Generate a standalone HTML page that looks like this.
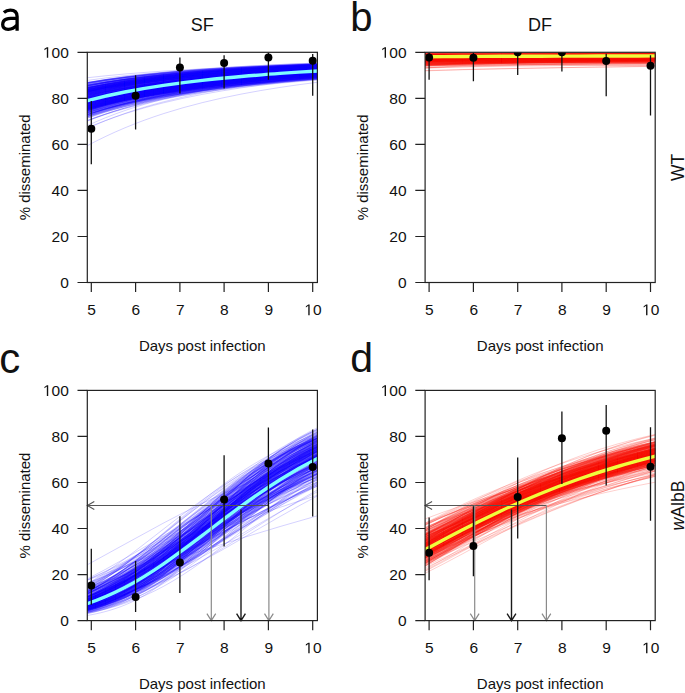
<!DOCTYPE html><html><head><meta charset="utf-8"><style>
html,body{margin:0;padding:0;background:#fff;width:685px;height:693px;overflow:hidden}
svg{display:block}text{font-family:"Liberation Sans",sans-serif;fill:#111}
.cb path{fill:none;stroke:rgba(20,0,255,0.18);stroke-width:1}
.cr path{fill:none;stroke:rgba(252,18,10,0.2);stroke-width:1}
</style></head><body>
<svg width="685" height="693" viewBox="0 0 685 693">
<defs>
<clipPath id="c00"><rect x="87.3" y="52.3" width="230.1" height="230.2"/></clipPath>
<clipPath id="c01"><rect x="87.3" y="390.4" width="230.1" height="230.2"/></clipPath>
<clipPath id="c10"><rect x="425.1" y="52.3" width="230.1" height="230.2"/></clipPath>
<clipPath id="c11"><rect x="425.1" y="390.4" width="230.1" height="230.2"/></clipPath>
<path id="one" fill="#111" d="M515 0V-1237L197-1010V-1180L530-1409H696V0Z"/>
</defs>
<g clip-path="url(#c00)">
<g class="cb">
<path d="M86.0 97.9c25.9-6.9 51.8-11.6 77.6-15.2s51.8-6.3 77.6-8.5s51.8-3.9 77.6-5.3"/>
<path d="M86.0 85.7c25.9-5.5 51.8-9.0 77.6-11.7s51.8-4.7 77.6-6.3s51.8-2.8 77.6-3.8"/>
<path d="M86.0 89.5c25.9-5.9 51.8-9.8 77.6-12.8s51.8-5.2 77.6-7.0s51.8-3.1 77.6-4.3"/>
<path d="M86.0 115.0c25.9-8.8 51.8-15.0 77.6-19.9s51.8-8.6 77.6-11.6s51.8-5.4 77.6-7.4"/>
<path d="M86.0 103.2c25.9-6.9 51.8-11.7 77.6-15.6s51.8-6.7 77.6-9.1s51.8-4.2 77.6-5.8"/>
<path d="M86.0 100.2c25.9-6.8 51.8-11.4 77.6-15.1s51.8-6.4 77.6-8.7s51.8-4.0 77.6-5.5"/>
<path d="M86.0 108.7c25.9-7.8 51.8-13.2 77.6-17.6s51.8-7.6 77.6-10.3s51.8-4.8 77.6-6.5"/>
<path d="M86.0 105.7c25.9-8.3 51.8-13.8 77.6-18.3s51.8-7.6 77.6-10.2s51.8-4.6 77.6-6.3"/>
<path d="M86.0 92.1c25.9-5.9 51.8-9.9 77.6-13.0s51.8-5.4 77.6-7.3s51.8-3.3 77.6-4.5"/>
<path d="M86.0 106.1c25.9-7.7 51.8-13.0 77.6-17.2s51.8-7.4 77.6-9.9s51.8-4.6 77.6-6.2"/>
<path d="M86.0 112.4c25.9-7.8 51.8-13.4 77.6-17.9s51.8-7.8 77.6-10.6s51.8-5.0 77.6-6.9"/>
<path d="M86.0 96.5c25.9-7.0 51.8-11.6 77.6-15.2s51.8-6.3 77.6-8.4s51.8-3.8 77.6-5.1"/>
<path d="M86.0 104.9c25.9-7.6 51.8-12.7 77.6-16.9s51.8-7.2 77.6-9.7s51.8-4.4 77.6-6.1"/>
<path d="M86.0 97.8c25.9-6.2 51.8-10.5 77.6-13.9s51.8-6.0 77.6-8.1s51.8-3.7 77.6-5.1"/>
<path d="M86.0 108.9c25.9-7.8 51.8-13.1 77.6-17.5s51.8-7.6 77.6-10.2s51.8-4.8 77.6-6.5"/>
<path d="M86.0 98.0c25.9-6.4 51.8-10.7 77.6-14.2s51.8-6.1 77.6-8.2s51.8-3.8 77.6-5.2"/>
<path d="M86.0 88.7c25.9-5.8 51.8-9.6 77.6-12.5s51.8-5.1 77.6-6.8s51.8-3.1 77.6-4.2"/>
<path d="M86.0 104.1c25.9-7.0 51.8-11.8 77.6-15.7s51.8-6.8 77.6-9.2s51.8-4.3 77.6-5.9"/>
<path d="M86.0 118.7c25.9-9.4 51.8-16.1 77.6-21.4s51.8-9.3 77.6-12.5s51.8-5.8 77.6-7.9"/>
<path d="M86.0 92.0c25.9-5.8 51.8-9.7 77.6-12.8s51.8-5.4 77.6-7.2s51.8-3.3 77.6-4.5"/>
<path d="M86.0 108.6c25.9-7.0 51.8-12.0 77.6-16.1s51.8-7.1 77.6-9.7s51.8-4.6 77.6-6.3"/>
<path d="M86.0 88.1c25.9-5.3 51.8-8.8 77.6-11.6s51.8-4.8 77.6-6.5s51.8-3.0 77.6-4.0"/>
<path d="M86.0 88.3c25.9-4.7 51.8-7.9 77.6-10.4s51.8-4.5 77.6-6.1s51.8-2.9 77.6-3.9"/>
<path d="M86.0 104.4c25.9-7.2 51.8-12.1 77.6-16.1s51.8-6.9 77.6-9.4s51.8-4.4 77.6-6.0"/>
<path d="M86.0 100.8c25.9-7.2 51.8-12.1 77.6-15.9s51.8-6.7 77.6-9.0s51.8-4.1 77.6-5.6"/>
<path d="M86.0 91.3c25.9-5.1 51.8-8.6 77.6-11.4s51.8-4.9 77.6-6.6s51.8-3.1 77.6-4.3"/>
<path d="M86.0 92.4c25.9-6.5 51.8-10.8 77.6-14.1s51.8-5.7 77.6-7.7s51.8-3.4 77.6-4.6"/>
<path d="M86.0 93.7c25.9-5.5 51.8-9.2 77.6-12.3s51.8-5.3 77.6-7.2s51.8-3.3 77.6-4.6"/>
<path d="M86.0 107.1c25.9-7.2 51.8-12.2 77.6-16.3s51.8-7.1 77.6-9.6s51.8-4.5 77.6-6.2"/>
<path d="M86.0 103.8c25.9-7.7 51.8-12.9 77.6-17.0s51.8-7.2 77.6-9.6s51.8-4.4 77.6-6.0"/>
<path d="M86.0 107.4c25.9-7.6 51.8-12.9 77.6-17.1s51.8-7.4 77.6-10.0s51.8-4.6 77.6-6.3"/>
<path d="M86.0 95.4c25.9-5.0 51.8-8.5 77.6-11.4s51.8-5.1 77.6-6.9s51.8-3.3 77.6-4.6"/>
<path d="M86.0 91.4c25.9-5.1 51.8-8.6 77.6-11.4s51.8-4.9 77.6-6.7s51.8-3.1 77.6-4.3"/>
<path d="M86.0 100.6c25.9-7.6 51.8-12.6 77.6-16.6s51.8-6.9 77.6-9.2s51.8-4.1 77.6-5.6"/>
<path d="M86.0 97.7c25.9-7.5 51.8-12.4 77.6-16.2s51.8-6.6 77.6-8.8s51.8-3.9 77.6-5.3"/>
<path d="M86.0 96.4c25.9-5.6 51.8-9.4 77.6-12.6s51.8-5.5 77.6-7.4s51.8-3.5 77.6-4.8"/>
<path d="M86.0 104.5c25.9-6.9 51.8-11.7 77.6-15.6s51.8-6.8 77.6-9.2s51.8-4.3 77.6-5.9"/>
<path d="M86.0 110.3c25.9-8.6 51.8-14.5 77.6-19.3s51.8-8.2 77.6-11.0s51.8-5.0 77.6-6.8"/>
<path d="M86.0 107.1c25.9-7.1 51.8-12.1 77.6-16.1s51.8-7.1 77.6-9.6s51.8-4.5 77.6-6.2"/>
<path d="M86.0 101.0c25.9-7.5 51.8-12.5 77.6-16.5s51.8-6.9 77.6-9.2s51.8-4.2 77.6-5.7"/>
<path d="M86.0 87.6c25.9-4.2 51.8-7.0 77.6-9.4s51.8-4.1 77.6-5.6s51.8-2.7 77.6-3.7"/>
<path d="M86.0 89.8c25.9-5.2 51.8-8.7 77.6-11.5s51.8-4.9 77.6-6.6s51.8-3.1 77.6-4.2"/>
<path d="M86.0 103.0c25.9-6.6 51.8-11.3 77.6-15.0s51.8-6.5 77.6-8.8s51.8-4.1 77.6-5.7"/>
<path d="M86.0 108.1c25.9-8.2 51.8-13.7 77.6-18.2s51.8-7.7 77.6-10.4s51.8-4.8 77.6-6.5"/>
<path d="M86.0 90.4c25.9-5.7 51.8-9.5 77.6-12.5s51.8-5.2 77.6-7.0s51.8-3.2 77.6-4.3"/>
<path d="M86.0 95.1c25.9-5.8 51.8-9.7 77.6-12.9s51.8-5.5 77.6-7.5s51.8-3.5 77.6-4.8"/>
<path d="M86.0 99.5c25.9-6.1 51.8-10.4 77.6-13.8s51.8-6.0 77.6-8.2s51.8-3.8 77.6-5.3"/>
<path d="M86.0 107.6c25.9-7.7 51.8-13.0 77.6-17.2s51.8-7.4 77.6-10.0s51.8-4.7 77.6-6.4"/>
<path d="M86.0 92.2c25.9-5.9 51.8-9.8 77.6-13.0s51.8-5.4 77.6-7.3s51.8-3.3 77.6-4.5"/>
<path d="M86.0 94.5c25.9-5.6 51.8-9.4 77.6-12.5s51.8-5.4 77.6-7.3s51.8-3.4 77.6-4.7"/>
<path d="M86.0 100.6c25.9-6.3 51.8-10.6 77.6-14.1s51.8-6.2 77.6-8.3s51.8-3.9 77.6-5.4"/>
<path d="M86.0 100.3c25.9-6.4 51.8-10.7 77.6-14.3s51.8-6.2 77.6-8.4s51.8-3.9 77.6-5.4"/>
<path d="M86.0 93.9c25.9-5.5 51.8-9.3 77.6-12.3s51.8-5.3 77.6-7.2s51.8-3.4 77.6-4.6"/>
<path d="M86.0 109.4c25.9-7.9 51.8-13.4 77.6-17.8s51.8-7.7 77.6-10.4s51.8-4.8 77.6-6.6"/>
<path d="M86.0 93.0c25.9-5.8 51.8-9.6 77.6-12.7s51.8-5.4 77.6-7.3s51.8-3.3 77.6-4.6"/>
<path d="M86.0 103.2c25.9-7.7 51.8-13.0 77.6-17.1s51.8-7.2 77.6-9.6s51.8-4.3 77.6-5.9"/>
<path d="M86.0 84.0c25.9-4.7 51.8-7.8 77.6-10.3s51.8-4.3 77.6-5.7s51.8-2.6 77.6-3.6"/>
<path d="M86.0 96.3c25.9-6.6 51.8-11.0 77.6-14.5s51.8-6.1 77.6-8.1s51.8-3.7 77.6-5.1"/>
<path d="M86.0 93.9c25.9-5.2 51.8-8.8 77.6-11.8s51.8-5.1 77.6-7.0s51.8-3.3 77.6-4.5"/>
<path d="M86.0 85.0c25.9-4.6 51.8-7.6 77.6-10.0s51.8-4.2 77.6-5.7s51.8-2.6 77.6-3.6"/>
<path d="M86.0 98.9c25.9-7.1 51.8-11.9 77.6-15.7s51.8-6.5 77.6-8.8s51.8-4.0 77.6-5.4"/>
<path d="M86.0 129.1c25.9-12.0 51.8-20.6 77.6-27.3s51.8-11.6 77.6-15.6s51.8-7.0 77.6-9.4"/>
<path d="M86.0 91.0c25.9-5.5 51.8-9.1 77.6-12.1s51.8-5.1 77.6-6.9s51.8-3.2 77.6-4.3"/>
<path d="M86.0 102.0c25.9-7.3 51.8-12.2 77.6-16.1s51.8-6.8 77.6-9.2s51.8-4.2 77.6-5.7"/>
<path d="M86.0 112.8c25.9-8.9 51.8-15.1 77.6-20.0s51.8-8.5 77.6-11.5s51.8-5.2 77.6-7.1"/>
<path d="M86.0 95.2c25.9-5.4 51.8-9.1 77.6-12.1s51.8-5.3 77.6-7.2s51.8-3.4 77.6-4.7"/>
<path d="M86.0 99.5c25.9-7.2 51.8-12.1 77.6-15.9s51.8-6.6 77.6-8.9s51.8-4.0 77.6-5.5"/>
<path d="M86.0 97.0c25.9-7.9 51.8-13.0 77.6-16.9s51.8-6.7 77.6-8.9s51.8-3.9 77.6-5.2"/>
<path d="M86.0 93.5c25.9-5.8 51.8-9.7 77.6-12.8s51.8-5.4 77.6-7.3s51.8-3.4 77.6-4.6"/>
<path d="M86.0 118.4c25.9-10.2 51.8-17.3 77.6-22.9s51.8-9.7 77.6-13.0s51.8-5.8 77.6-7.9"/>
<path d="M86.0 101.8c25.9-7.5 51.8-12.5 77.6-16.5s51.8-6.9 77.6-9.3s51.8-4.2 77.6-5.7"/>
<path d="M86.0 95.6c25.9-6.1 51.8-10.2 77.6-13.5s51.8-5.7 77.6-7.8s51.8-3.6 77.6-4.9"/>
<path d="M86.0 97.4c25.9-6.4 51.8-10.7 77.6-14.1s51.8-6.0 77.6-8.1s51.8-3.7 77.6-5.1"/>
<path d="M86.0 88.1c25.9-5.6 51.8-9.2 77.6-12.1s51.8-5.0 77.6-6.7s51.8-3.0 77.6-4.1"/>
<path d="M86.0 105.9c25.9-7.3 51.8-12.4 77.6-16.4s51.8-7.1 77.6-9.6s51.8-4.5 77.6-6.1"/>
<path d="M86.0 109.8c25.9-7.5 51.8-12.8 77.6-17.0s51.8-7.5 77.6-10.1s51.8-4.8 77.6-6.5"/>
<path d="M86.0 102.3c25.9-6.4 51.8-10.8 77.6-14.4s51.8-6.3 77.6-8.6s51.8-4.1 77.6-5.6"/>
<path d="M86.0 86.9c25.9-5.6 51.8-9.2 77.6-12.1s51.8-4.9 77.6-6.5s51.8-2.9 77.6-4.0"/>
<path d="M86.0 103.2c25.9-7.6 51.8-12.7 77.6-16.8s51.8-7.1 77.6-9.5s51.8-4.3 77.6-5.9"/>
<path d="M86.0 121.1c25.9-9.5 51.8-16.3 77.6-21.7s51.8-9.5 77.6-12.8s51.8-6.0 77.6-8.1"/>
<path d="M86.0 115.0c25.9-8.4 51.8-14.4 77.6-19.2s51.8-8.4 77.6-11.4s51.8-5.3 77.6-7.3"/>
<path d="M86.0 99.8c25.9-5.8 51.8-9.9 77.6-13.2s51.8-5.8 77.6-7.9s51.8-3.8 77.6-5.2"/>
<path d="M86.0 90.1c25.9-4.9 51.8-8.3 77.6-11.0s51.8-4.7 77.6-6.4s51.8-3.0 77.6-4.1"/>
<path d="M86.0 115.1c25.9-8.6 51.8-14.7 77.6-19.6s51.8-8.5 77.6-11.5s51.8-5.4 77.6-7.3"/>
<path d="M86.0 110.3c25.9-8.2 51.8-13.8 77.6-18.3s51.8-7.9 77.6-10.7s51.8-4.9 77.6-6.7"/>
<path d="M86.0 107.3c25.9-7.3 51.8-12.4 77.6-16.5s51.8-7.2 77.6-9.8s51.8-4.6 77.6-6.3"/>
<path d="M86.0 102.5c25.9-7.5 51.8-12.6 77.6-16.6s51.8-7.0 77.6-9.4s51.8-4.3 77.6-5.8"/>
<path d="M86.0 118.5c25.9-9.2 51.8-15.7 77.6-20.9s51.8-9.1 77.6-12.3s51.8-5.7 77.6-7.8"/>
<path d="M86.0 114.5c25.9-8.4 51.8-14.2 77.6-19.0s51.8-8.3 77.6-11.3s51.8-5.3 77.6-7.2"/>
<path d="M86.0 104.0c25.9-7.3 51.8-12.3 77.6-16.3s51.8-7.0 77.6-9.4s51.8-4.3 77.6-5.9"/>
<path d="M86.0 104.7c25.9-7.0 51.8-11.8 77.6-15.7s51.8-6.8 77.6-9.2s51.8-4.3 77.6-5.9"/>
<path d="M86.0 106.5c25.9-9.9 51.8-16.3 77.6-21.3s51.8-8.4 77.6-11.1s51.8-4.8 77.6-6.4"/>
<path d="M86.0 116.3c25.9-9.2 51.8-15.6 77.6-20.8s51.8-8.9 77.6-12.1s51.8-5.5 77.6-7.6"/>
<path d="M86.0 104.3c25.9-7.8 51.8-13.1 77.6-17.3s51.8-7.3 77.6-9.8s51.8-4.4 77.6-6.1"/>
<path d="M86.0 91.5c25.9-5.8 51.8-9.6 77.6-12.7s51.8-5.3 77.6-7.1s51.8-3.3 77.6-4.4"/>
<path d="M86.0 99.6c25.9-7.2 51.8-12.0 77.6-15.8s51.8-6.6 77.6-8.9s51.8-4.0 77.6-5.5"/>
<path d="M86.0 109.5c25.9-6.8 51.8-11.7 77.6-15.6s51.8-7.0 77.6-9.5s51.8-4.6 77.6-6.3"/>
<path d="M86.0 102.2c25.9-7.9 51.8-13.1 77.6-17.3s51.8-7.1 77.6-9.6s51.8-4.3 77.6-5.8"/>
<path d="M86.0 90.2c25.9-5.9 51.8-9.7 77.6-12.8s51.8-5.3 77.6-7.1s51.8-3.2 77.6-4.3"/>
<path d="M86.0 111.0c25.9-8.5 51.8-14.4 77.6-19.1s51.8-8.2 77.6-11.0s51.8-5.0 77.6-6.9"/>
<path d="M86.0 99.1c25.9-6.4 51.8-10.8 77.6-14.4s51.8-6.2 77.6-8.3s51.8-3.9 77.6-5.3"/>
<path d="M86.0 83.0c25.9-4.6 51.8-7.7 77.6-10.1s51.8-4.2 77.6-5.6s51.8-2.5 77.6-3.5"/>
<path d="M86.0 110.4c25.9-7.7 51.8-13.2 77.6-17.5s51.8-7.7 77.6-10.4s51.8-4.9 77.6-6.7"/>
<path d="M86.0 97.4c25.9-6.9 51.8-11.4 77.6-15.1s51.8-6.3 77.6-8.4s51.8-3.8 77.6-5.2"/>
<path d="M86.0 92.2c25.9-6.9 51.8-11.3 77.6-14.7s51.8-5.9 77.6-7.8s51.8-3.4 77.6-4.6"/>
<path d="M86.0 112.9c25.9-7.9 51.8-13.5 77.6-18.0s51.8-7.9 77.6-10.7s51.8-5.0 77.6-6.9"/>
<path d="M86.0 114.1c25.9-8.3 51.8-14.1 77.6-18.8s51.8-8.2 77.6-11.1s51.8-5.2 77.6-7.2"/>
<path d="M86.0 99.1c25.9-6.8 51.8-11.4 77.6-15.0s51.8-6.4 77.6-8.6s51.8-3.9 77.6-5.4"/>
<path d="M86.0 113.7c25.9-7.9 51.8-13.6 77.6-18.1s51.8-8.0 77.6-10.9s51.8-5.1 77.6-7.0"/>
<path d="M86.0 105.7c25.9-6.8 51.8-11.6 77.6-15.5s51.8-6.8 77.6-9.2s51.8-4.4 77.6-6.0"/>
<path d="M86.0 111.5c25.9-8.8 51.8-14.9 77.6-19.7s51.8-8.4 77.6-11.2s51.8-5.1 77.6-7.0"/>
<path d="M86.0 94.0c25.9-6.6 51.8-10.9 77.6-14.3s51.8-5.9 77.6-7.9s51.8-3.5 77.6-4.8"/>
<path d="M86.0 88.2c25.9-5.5 51.8-9.2 77.6-12.0s51.8-4.9 77.6-6.6s51.8-3.0 77.6-4.1"/>
<path d="M86.0 95.4c25.9-5.0 51.8-8.5 77.6-11.4s51.8-5.1 77.6-6.9s51.8-3.3 77.6-4.6"/>
<path d="M86.0 105.0c25.9-7.9 51.8-13.2 77.6-17.5s51.8-7.4 77.6-9.9s51.8-4.5 77.6-6.1"/>
<path d="M86.0 110.0c25.9-8.1 51.8-13.7 77.6-18.2s51.8-7.8 77.6-10.6s51.8-4.9 77.6-6.7"/>
<path d="M86.0 85.7c25.9-4.8 51.8-8.0 77.6-10.6s51.8-4.4 77.6-6.0s51.8-2.7 77.6-3.7"/>
<path d="M86.0 105.9c25.9-7.5 51.8-12.7 77.6-16.9s51.8-7.2 77.6-9.8s51.8-4.5 77.6-6.2"/>
<path d="M86.0 94.7c25.9-6.6 51.8-11.0 77.6-14.4s51.8-5.9 77.6-8.0s51.8-3.6 77.6-4.9"/>
<path d="M86.0 93.8c25.9-6.7 51.8-11.1 77.6-14.6s51.8-5.9 77.6-7.9s51.8-3.5 77.6-4.8"/>
<path d="M86.0 87.6c25.9-5.2 51.8-8.7 77.6-11.4s51.8-4.7 77.6-6.4s51.8-2.9 77.6-4.0"/>
<path d="M86.0 103.2c25.9-6.7 51.8-11.4 77.6-15.2s51.8-6.6 77.6-8.9s51.8-4.2 77.6-5.7"/>
<path d="M86.0 99.9c25.9-7.7 51.8-12.8 77.6-16.8s51.8-6.9 77.6-9.2s51.8-4.1 77.6-5.6"/>
<path d="M86.0 113.6c25.9-8.6 51.8-14.6 77.6-19.5s51.8-8.4 77.6-11.4s51.8-5.2 77.6-7.2"/>
<path d="M86.0 89.7c25.9-4.8 51.8-8.1 77.6-10.7s51.8-4.6 77.6-6.3s51.8-3.0 77.6-4.1"/>
<path d="M86.0 86.1c25.9-4.6 51.8-7.7 77.6-10.2s51.8-4.3 77.6-5.8s51.8-2.7 77.6-3.7"/>
<path d="M86.0 88.5c25.9-6.1 51.8-10.1 77.6-13.1s51.8-5.2 77.6-7.0s51.8-3.1 77.6-4.2"/>
<path d="M86.0 106.8c25.9-7.7 51.8-13.0 77.6-17.3s51.8-7.4 77.6-10.0s51.8-4.6 77.6-6.3"/>
<path d="M86.0 99.9c25.9-7.6 51.8-12.6 77.6-16.6s51.8-6.8 77.6-9.1s51.8-4.1 77.6-5.6"/>
<path d="M86.0 101.0c25.9-7.0 51.8-11.7 77.6-15.5s51.8-6.6 77.6-8.9s51.8-4.1 77.6-5.6"/>
<path d="M86.0 82.6c25.9-4.5 51.8-7.4 77.6-9.7s51.8-4.0 77.6-5.4s51.8-2.5 77.6-3.4"/>
<path d="M86.0 88.0c25.9-5.5 51.8-9.0 77.6-11.9s51.8-4.9 77.6-6.6s51.8-3.0 77.6-4.1"/>
<path d="M86.0 100.1c25.9-5.8 51.8-9.8 77.6-13.2s51.8-5.8 77.6-7.9s51.8-3.8 77.6-5.2"/>
<path d="M86.0 92.1c25.9-5.5 51.8-9.2 77.6-12.2s51.8-5.2 77.6-7.0s51.8-3.2 77.6-4.5"/>
<path d="M86.0 109.6c25.9-7.5 51.8-12.7 77.6-17.0s51.8-7.4 77.6-10.1s51.8-4.7 77.6-6.5"/>
<path d="M86.0 91.1c25.9-5.0 51.8-8.4 77.6-11.2s51.8-4.8 77.6-6.6s51.8-3.1 77.6-4.3"/>
<path d="M86.0 107.3c25.9-8.0 51.8-13.4 77.6-17.8s51.8-7.6 77.6-10.2s51.8-4.7 77.6-6.4"/>
<path d="M86.0 105.2c25.9-5.8 51.8-10.0 77.6-13.4s51.8-6.1 77.6-8.3s51.8-4.0 77.6-5.6"/>
<path d="M86.0 96.2c25.9-6.3 51.8-10.6 77.6-14.0s51.8-5.9 77.6-8.0s51.8-3.7 77.6-5.0"/>
<path d="M86.0 93.7c25.9-6.7 51.8-11.1 77.6-14.6s51.8-5.9 77.6-7.9s51.8-3.5 77.6-4.8"/>
<path d="M86.0 91.1c25.9-6.0 51.8-9.9 77.6-13.0s51.8-5.4 77.6-7.2s51.8-3.3 77.6-4.4"/>
<path d="M86.0 105.4c25.9-7.3 51.8-12.4 77.6-16.5s51.8-7.1 77.6-9.6s51.8-4.4 77.6-6.1"/>
<path d="M86.0 106.8c25.9-7.4 51.8-12.5 77.6-16.6s51.8-7.2 77.6-9.7s51.8-4.5 77.6-6.2"/>
<path d="M86.0 103.7c25.9-7.5 51.8-12.6 77.6-16.7s51.8-7.1 77.6-9.5s51.8-4.4 77.6-6.0"/>
<path d="M86.0 91.5c25.9-5.7 51.8-9.5 77.6-12.5s51.8-5.2 77.6-7.1s51.8-3.2 77.6-4.4"/>
<path d="M86.0 109.3c25.9-7.7 51.8-13.1 77.6-17.4s51.8-7.6 77.6-10.2s51.8-4.8 77.6-6.6"/>
<path d="M86.0 96.5c25.9-6.6 51.8-11.0 77.6-14.5s51.8-6.1 77.6-8.1s51.8-3.7 77.6-5.1"/>
<path d="M86.0 95.6c25.9-6.1 51.8-10.2 77.6-13.5s51.8-5.7 77.6-7.7s51.8-3.6 77.6-4.9"/>
<path d="M86.0 88.5c25.9-6.3 51.8-10.3 77.6-13.5s51.8-5.3 77.6-7.1s51.8-3.1 77.6-4.2"/>
<path d="M86.0 106.1c25.9-7.2 51.8-12.3 77.6-16.3s51.8-7.1 77.6-9.6s51.8-4.5 77.6-6.1"/>
<path d="M86.0 96.0c25.9-7.8 51.8-12.8 77.6-16.7s51.8-6.6 77.6-8.7s51.8-3.8 77.6-5.1"/>
<path d="M86.0 99.6c25.9-6.9 51.8-11.6 77.6-15.3s51.8-6.5 77.6-8.7s51.8-4.0 77.6-5.4"/>
<path d="M86.0 110.8c25.9-7.9 51.8-13.4 77.6-17.8s51.8-7.8 77.6-10.5s51.8-4.9 77.6-6.7"/>
<path d="M86.0 100.5c25.9-7.0 51.8-11.8 77.6-15.6s51.8-6.6 77.6-8.9s51.8-4.1 77.6-5.5"/>
<path d="M86.0 88.2c25.9-5.6 51.8-9.2 77.6-12.1s51.8-5.0 77.6-6.7s51.8-3.0 77.6-4.1"/>
<path d="M86.0 90.1c25.9-5.6 51.8-9.2 77.6-12.2s51.8-5.1 77.6-6.9s51.8-3.1 77.6-4.3"/>
<path d="M86.0 105.1c25.9-7.3 51.8-12.3 77.6-16.4s51.8-7.0 77.6-9.5s51.8-4.4 77.6-6.1"/>
<path d="M86.0 89.5c25.9-6.0 51.8-9.8 77.6-12.9s51.8-5.2 77.6-7.0s51.8-3.1 77.6-4.3"/>
<path d="M86.0 104.9c25.9-6.3 51.8-10.8 77.6-14.5s51.8-6.4 77.6-8.8s51.8-4.2 77.6-5.8"/>
<path d="M86.0 87.2c25.9-5.5 51.8-9.1 77.6-11.9s51.8-4.9 77.6-6.5s51.8-2.9 77.6-4.0"/>
<path d="M86.0 108.5c25.9-7.3 51.8-12.4 77.6-16.5s51.8-7.3 77.6-9.8s51.8-4.6 77.6-6.4"/>
<path d="M86.0 115.5c25.9-9.2 51.8-15.7 77.6-20.8s51.8-8.9 77.6-12.0s51.8-5.5 77.6-7.5"/>
<path d="M86.0 90.2c25.9-5.7 51.8-9.5 77.6-12.5s51.8-5.2 77.6-7.0s51.8-3.2 77.6-4.3"/>
<path d="M86.0 103.5c25.9-7.2 51.8-12.1 77.6-16.1s51.8-6.9 77.6-9.3s51.8-4.3 77.6-5.9"/>
<path d="M86.0 91.7c25.9-6.1 51.8-10.1 77.6-13.3s51.8-5.5 77.6-7.3s51.8-3.3 77.6-4.5"/>
<path d="M86.0 90.9c25.9-6.0 51.8-9.9 77.6-13.1s51.8-5.4 77.6-7.2s51.8-3.2 77.6-4.4"/>
<path d="M86.0 102.8c25.9-5.7 51.8-9.8 77.6-13.1s51.8-5.9 77.6-8.1s51.8-3.9 77.6-5.4"/>
<path d="M86.0 99.9c25.9-6.0 51.8-10.2 77.6-13.6s51.8-5.9 77.6-8.1s51.8-3.8 77.6-5.3"/>
<path d="M86.0 103.9c25.9-6.6 51.8-11.2 77.6-14.9s51.8-6.5 77.6-8.9s51.8-4.2 77.6-5.8"/>
<path d="M86.0 98.3c25.9-6.2 51.8-10.4 77.6-13.8s51.8-5.9 77.6-8.1s51.8-3.8 77.6-5.2"/>
<path d="M86.0 93.0c25.9-6.3 51.8-10.4 77.6-13.7s51.8-5.7 77.6-7.6s51.8-3.4 77.6-4.7"/>
<path d="M86.0 100.7c25.9-8.2 51.8-13.5 77.6-17.7s51.8-7.1 77.6-9.5s51.8-4.2 77.6-5.7"/>
<path d="M86.0 102.7c25.9-7.1 51.8-12.0 77.6-15.9s51.8-6.8 77.6-9.2s51.8-4.2 77.6-5.8"/>
<path d="M86.0 104.1c25.9-7.9 51.8-13.2 77.6-17.4s51.8-7.3 77.6-9.8s51.8-4.4 77.6-6.0"/>
<path d="M86.0 95.6c25.9-6.8 51.8-11.3 77.6-14.8s51.8-6.1 77.6-8.2s51.8-3.7 77.6-5.0"/>
<path d="M86.0 96.4c25.9-8.0 51.8-13.1 77.6-17.0s51.8-6.7 77.6-8.9s51.8-3.8 77.6-5.1"/>
<path d="M86.0 97.4c25.9-7.6 51.8-12.5 77.6-16.3s51.8-6.6 77.6-8.8s51.8-3.9 77.6-5.3"/>
<path d="M86.0 89.5c25.9-5.0 51.8-8.4 77.6-11.1s51.8-4.8 77.6-6.4s51.8-3.0 77.6-4.1"/>
<path d="M86.0 116.8c25.9-9.0 51.8-15.4 77.6-20.5s51.8-8.9 77.6-12.0s51.8-5.6 77.6-7.6"/>
<path d="M86.0 94.0c25.9-6.6 51.8-10.9 77.6-14.4s51.8-5.9 77.6-7.9s51.8-3.5 77.6-4.8"/>
<path d="M86.0 92.5c25.9-6.7 51.8-11.0 77.6-14.4s51.8-5.8 77.6-7.7s51.8-3.4 77.6-4.6"/>
<path d="M86.0 93.5c25.9-5.6 51.8-9.4 77.6-12.5s51.8-5.3 77.6-7.2s51.8-3.4 77.6-4.6"/>
<path d="M86.0 91.7c25.9-6.6 51.8-10.9 77.6-14.3s51.8-5.7 77.6-7.6s51.8-3.4 77.6-4.6"/>
<path d="M86.0 94.4c25.9-6.4 51.8-10.6 77.6-14.0s51.8-5.8 77.6-7.8s51.8-3.5 77.6-4.8"/>
<path d="M86.0 105.1c25.9-7.1 51.8-12.0 77.6-15.9s51.8-6.9 77.6-9.3s51.8-4.4 77.6-6.0"/>
<path d="M86.0 120.7c25.9-9.6 51.8-16.5 77.6-22.0s51.8-9.5 77.6-12.9s51.8-5.9 77.6-8.1"/>
<path d="M86.0 109.4c25.9-8.1 51.8-13.6 77.6-18.1s51.8-7.8 77.6-10.5s51.8-4.9 77.6-6.6"/>
<path d="M86.0 106.3c25.9-7.0 51.8-12.0 77.6-15.9s51.8-7.0 77.6-9.5s51.8-4.4 77.6-6.1"/>
<path d="M86.0 99.7c25.9-7.5 51.8-12.5 77.6-16.5s51.8-6.8 77.6-9.1s51.8-4.1 77.6-5.5"/>
<path d="M86.0 88.8c25.9-5.7 51.8-9.4 77.6-12.3s51.8-5.1 77.6-6.8s51.8-3.1 77.6-4.2"/>
<path d="M86.0 83.0c25.9-5.0 51.8-8.1 77.6-10.7s51.8-4.3 77.6-5.8s51.8-2.6 77.6-3.5"/>
<path d="M86.0 109.7c25.9-9.4 51.8-15.7 77.6-20.6s51.8-8.5 77.6-11.4s51.8-5.0 77.6-6.8"/>
<path d="M86.0 86.7c25.9-5.4 51.8-8.9 77.6-11.7s51.8-4.8 77.6-6.4s51.8-2.9 77.6-3.9"/>
<path d="M86.0 88.2c25.9-4.9 51.8-8.2 77.6-10.8s51.8-4.6 77.6-6.2s51.8-2.9 77.6-4.0"/>
<path d="M86.0 89.5c25.9-6.1 51.8-10.0 77.6-13.1s51.8-5.3 77.6-7.1s51.8-3.1 77.6-4.3"/>
<path d="M86.0 99.3c25.9-6.7 51.8-11.2 77.6-14.8s51.8-6.3 77.6-8.5s51.8-3.9 77.6-5.4"/>
<path d="M86.0 85.4c25.9-4.7 51.8-7.9 77.6-10.4s51.8-4.4 77.6-5.9s51.8-2.7 77.6-3.7"/>
<path d="M86.0 111.2c25.9-8.1 51.8-13.8 77.6-18.3s51.8-7.9 77.6-10.7s51.8-5.0 77.6-6.8"/>
<path d="M86.0 106.8c25.9-7.4 51.8-12.5 77.6-16.6s51.8-7.2 77.6-9.8s51.8-4.5 77.6-6.2"/>
<path d="M86.0 90.2c25.9-5.5 51.8-9.2 77.6-12.2s51.8-5.1 77.6-6.9s51.8-3.1 77.6-4.3"/>
<path d="M86.0 101.8c25.9-7.4 51.8-12.4 77.6-16.3s51.8-6.9 77.6-9.2s51.8-4.2 77.6-5.7"/>
<path d="M86.0 108.8c25.9-8.4 51.8-14.1 77.6-18.6s51.8-7.9 77.6-10.6s51.8-4.8 77.6-6.6"/>
<path d="M86.0 89.1c25.9-5.8 51.8-9.6 77.6-12.6s51.8-5.2 77.6-6.9s51.8-3.1 77.6-4.2"/>
<path d="M86.0 96.4c25.9-6.3 51.8-10.6 77.6-14.0s51.8-5.9 77.6-8.0s51.8-3.7 77.6-5.0"/>
<path d="M86.0 121.7c25.9-10.8 51.8-18.3 77.6-24.2s51.8-10.3 77.6-13.8s51.8-6.2 77.6-8.4"/>
<path d="M86.0 97.0c25.9-5.7 51.8-9.6 77.6-12.8s51.8-5.6 77.6-7.6s51.8-3.6 77.6-4.9"/>
<path d="M86.0 88.7c25.9-5.5 51.8-9.1 77.6-12.0s51.8-5.0 77.6-6.7s51.8-3.0 77.6-4.1"/>
<path d="M86.0 105.2c25.9-7.8 51.8-13.1 77.6-17.3s51.8-7.3 77.6-9.9s51.8-4.5 77.6-6.2"/>
<path d="M86.0 104.0c25.9-7.1 51.8-12.0 77.6-16.0s51.8-6.9 77.6-9.3s51.8-4.3 77.6-5.9"/>
<path d="M86.0 105.8c25.9-7.9 51.8-13.3 77.6-17.5s51.8-7.4 77.6-10.0s51.8-4.6 77.6-6.2"/>
<path d="M86.0 106.0c25.9-8.9 51.8-14.8 77.6-19.5s51.8-7.9 77.6-10.6s51.8-4.7 77.6-6.3"/>
<path d="M86.0 107.1c25.9-8.9 51.8-14.9 77.6-19.6s51.8-8.0 77.6-10.8s51.8-4.8 77.6-6.5"/>
<path d="M86.0 105.6c25.9-8.2 51.8-13.8 77.6-18.1s51.8-7.6 77.6-10.2s51.8-4.6 77.6-6.2"/>
<path d="M86.0 103.5c25.9-7.1 51.8-11.9 77.6-15.8s51.8-6.8 77.6-9.2s51.8-4.3 77.6-5.9"/>
<path d="M86.0 91.9c25.9-6.2 51.8-10.3 77.6-13.6s51.8-5.6 77.6-7.4s51.8-3.3 77.6-4.5"/>
<path d="M86.0 107.6c25.9-8.5 51.8-14.3 77.6-18.9s51.8-7.9 77.6-10.6s51.8-4.8 77.6-6.5"/>
<path d="M86.0 99.6c25.9-5.7 51.8-9.7 77.6-12.9s51.8-5.7 77.6-7.8s51.8-3.7 77.6-5.1"/>
<path d="M86.0 94.6c25.9-7.0 51.8-11.5 77.6-15.1s51.8-6.1 77.6-8.2s51.8-3.6 77.6-4.9"/>
<path d="M86.0 94.6c25.9-5.7 51.8-9.5 77.6-12.7s51.8-5.4 77.6-7.4s51.8-3.4 77.6-4.7"/>
<path d="M86.0 108.1c25.9-7.3 51.8-12.4 77.6-16.6s51.8-7.3 77.6-9.8s51.8-4.6 77.6-6.3"/>
<path d="M86.0 112.3c25.9-8.9 51.8-15.1 77.6-20.0s51.8-8.5 77.6-11.4s51.8-5.2 77.6-7.1"/>
<path d="M86.0 96.9c25.9-5.2 51.8-8.9 77.6-11.9s51.8-5.3 77.6-7.2s51.8-3.5 77.6-4.8"/>
<path d="M86.0 104.1c25.9-5.9 51.8-10.0 77.6-13.5s51.8-6.1 77.6-8.3s51.8-4.0 77.6-5.5"/>
<path d="M86.0 92.8c25.9-6.2 51.8-10.3 77.6-13.5s51.8-5.6 77.6-7.5s51.8-3.4 77.6-4.6"/>
<path d="M86.0 94.8c25.9-5.0 51.8-8.5 77.6-11.4s51.8-5.0 77.6-6.9s51.8-3.3 77.6-4.5"/>
<path d="M86.0 84.8c25.9-4.4 51.8-7.3 77.6-9.7s51.8-4.1 77.6-5.6s51.8-2.6 77.6-3.6"/>
<path d="M86.0 99.3c25.9-6.5 51.8-10.9 77.6-14.5s51.8-6.2 77.6-8.4s51.8-3.9 77.6-5.3"/>
<path d="M86.0 91.7c25.9-6.4 51.8-10.5 77.6-13.8s51.8-5.6 77.6-7.5s51.8-3.3 77.6-4.5"/>
<path d="M86.0 101.5c25.9-6.3 51.8-10.7 77.6-14.3s51.8-6.2 77.6-8.5s51.8-4.0 77.6-5.5"/>
<path d="M86.0 92.8c25.9-7.0 51.8-11.4 77.6-14.9s51.8-5.9 77.6-7.9s51.8-3.5 77.6-4.7"/>
<path d="M86.0 106.4c25.9-8.2 51.8-13.8 77.6-18.2s51.8-7.6 77.6-10.3s51.8-4.6 77.6-6.3"/>
<path d="M86.0 92.1c25.9-6.7 51.8-10.9 77.6-14.3s51.8-5.8 77.6-7.7s51.8-3.4 77.6-4.6"/>
<path d="M86.0 100.9c25.9-6.8 51.8-11.5 77.6-15.2s51.8-6.5 77.6-8.8s51.8-4.1 77.6-5.6"/>
<path d="M86.0 109.4c25.9-6.8 51.8-11.7 77.6-15.6s51.8-7.0 77.6-9.5s51.8-4.6 77.6-6.3"/>
<path d="M86.0 104.0c25.9-7.0 51.8-11.8 77.6-15.7s51.8-6.8 77.6-9.2s51.8-4.3 77.6-5.9"/>
<path d="M86.0 108.0c25.9-6.2 51.8-10.7 77.6-14.4s51.8-6.5 77.6-8.9s51.8-4.3 77.6-6.0"/>
<path d="M86.0 102.4c25.9-6.8 51.8-11.5 77.6-15.2s51.8-6.6 77.6-8.9s51.8-4.1 77.6-5.7"/>
<path d="M86.0 128.4c25.9-11.2 51.8-19.2 77.6-25.6s51.8-11.1 77.6-14.9s51.8-6.8 77.6-9.3"/>
<path d="M86.0 100.6c25.9-8.1 51.8-13.4 77.6-17.5s51.8-7.1 77.6-9.5s51.8-4.2 77.6-5.7"/>
<path d="M86.0 105.1c25.9-7.6 51.8-12.7 77.6-16.9s51.8-7.2 77.6-9.7s51.8-4.5 77.6-6.1"/>
<path d="M86.0 110.5c25.9-8.0 51.8-13.5 77.6-18.0s51.8-7.8 77.6-10.6s51.8-4.9 77.6-6.7"/>
<path d="M86.0 96.1c25.9-7.6 51.8-12.5 77.6-16.3s51.8-6.5 77.6-8.6s51.8-3.8 77.6-5.1"/>
<path d="M86.0 85.7c25.9-4.8 51.8-8.0 77.6-10.6s51.8-4.4 77.6-6.0s51.8-2.7 77.6-3.7"/>
<path d="M86.0 108.5c25.9-7.0 51.8-12.0 77.6-16.1s51.8-7.1 77.6-9.7s51.8-4.6 77.6-6.3"/>
<path d="M86.0 99.8c25.9-7.8 51.8-12.9 77.6-16.9s51.8-6.9 77.6-9.2s51.8-4.1 77.6-5.5"/>
<path d="M86.0 89.8c25.9-5.4 51.8-9.1 77.6-11.9s51.8-5.0 77.6-6.7s51.8-3.1 77.6-4.2"/>
<path d="M86.0 89.9c25.9-5.9 51.8-9.8 77.6-12.8s51.8-5.3 77.6-7.0s51.8-3.2 77.6-4.3"/>
<path d="M86.0 80.6c25.9-3.8 51.8-6.3 77.6-8.3s51.8-3.5 77.6-4.8s51.8-2.2 77.6-3.1"/>
<path d="M86.0 105.9c25.9-7.2 51.8-12.1 77.6-16.1s51.8-7.0 77.6-9.5s51.8-4.4 77.6-6.1"/>
<path d="M86.0 111.5c25.9-8.5 51.8-14.4 77.6-19.1s51.8-8.2 77.6-11.1s51.8-5.1 77.6-6.9"/>
<path d="M86.0 87.0c25.9-4.7 51.8-7.9 77.6-10.4s51.8-4.4 77.6-6.0s51.8-2.8 77.6-3.8"/>
<path d="M86.0 107.9c25.9-8.1 51.8-13.6 77.6-18.1s51.8-7.7 77.6-10.4s51.8-4.7 77.6-6.5"/>
<path d="M86.0 108.1c25.9-7.3 51.8-12.4 77.6-16.5s51.8-7.2 77.6-9.8s51.8-4.6 77.6-6.3"/>
<path d="M86.0 83.6c25.9-4.3 51.8-7.1 77.6-9.4s51.8-4.0 77.6-5.4s51.8-2.5 77.6-3.4"/>
<path d="M86.0 103.6c25.9-6.9 51.8-11.7 77.6-15.5s51.8-6.7 77.6-9.1s51.8-4.2 77.6-5.8"/>
<path d="M86.0 109.0c25.9-7.2 51.8-12.3 77.6-16.4s51.8-7.2 77.6-9.8s51.8-4.6 77.6-6.4"/>
<path d="M86.0 85.9c25.9-5.4 51.8-8.8 77.6-11.6s51.8-4.7 77.6-6.3s51.8-2.8 77.6-3.8"/>
<path d="M86.0 87.5c25.9-4.5 51.8-7.6 77.6-10.1s51.8-4.3 77.6-5.9s51.8-2.8 77.6-3.8"/>
<path d="M86.0 102.6c25.9-6.7 51.8-11.3 77.6-15.0s51.8-6.5 77.6-8.8s51.8-4.1 77.6-5.7"/>
<path d="M86.0 95.3c25.9-5.3 51.8-9.0 77.6-12.0s51.8-5.3 77.6-7.1s51.8-3.4 77.6-4.7"/>
<path d="M86.0 108.4c25.9-7.6 51.8-12.9 77.6-17.1s51.8-7.4 77.6-10.1s51.8-4.7 77.6-6.4"/>
<path d="M86.0 99.2c25.9-7.8 51.8-13.0 77.6-17.0s51.8-6.9 77.6-9.2s51.8-4.0 77.6-5.5"/>
<path d="M86.0 83.3c25.9-4.6 51.8-7.6 77.6-10.0s51.8-4.2 77.6-5.6s51.8-2.5 77.6-3.5"/>
<path d="M86.0 98.4c25.9-7.4 51.8-12.3 77.6-16.2s51.8-6.6 77.6-8.9s51.8-3.9 77.6-5.4"/>
<path d="M86.0 103.6c25.9-6.4 51.8-11.0 77.6-14.6s51.8-6.4 77.6-8.7s51.8-4.1 77.6-5.7"/>
<path d="M86.0 92.6c25.9-6.9 51.8-11.3 77.6-14.8s51.8-5.9 77.6-7.9s51.8-3.4 77.6-4.7"/>
<path d="M86.0 97.3c25.9-7.8 51.8-12.8 77.6-16.7s51.8-6.7 77.6-8.9s51.8-3.9 77.6-5.2"/>
<path d="M86.0 108.7c25.9-6.4 51.8-11.1 77.6-14.9s51.8-6.7 77.6-9.2s51.8-4.4 77.6-6.1"/>
<path d="M86.0 85.1c25.9-4.8 51.8-8.0 77.6-10.5s51.8-4.4 77.6-5.9s51.8-2.7 77.6-3.7"/>
<path d="M86.0 106.9c25.9-6.3 51.8-10.8 77.6-14.5s51.8-6.5 77.6-8.9s51.8-4.3 77.6-5.9"/>
<path d="M86.0 103.6c25.9-7.4 51.8-12.4 77.6-16.4s51.8-7.0 77.6-9.4s51.8-4.3 77.6-5.9"/>
<path d="M86.0 94.4c25.9-7.4 51.8-12.1 77.6-15.8s51.8-6.3 77.6-8.3s51.8-3.6 77.6-4.9"/>
<path d="M86.0 92.7c25.9-5.8 51.8-9.7 77.6-12.8s51.8-5.4 77.6-7.3s51.8-3.3 77.6-4.6"/>
<path d="M86.0 94.8c25.9-6.2 51.8-10.4 77.6-13.7s51.8-5.8 77.6-7.8s51.8-3.5 77.6-4.8"/>
<path d="M86.0 91.4c25.9-5.6 51.8-9.3 77.6-12.3s51.8-5.2 77.6-7.0s51.8-3.2 77.6-4.4"/>
<path d="M86.0 90.8c25.9-6.2 51.8-10.3 77.6-13.5s51.8-5.5 77.6-7.3s51.8-3.3 77.6-4.4"/>
<path d="M86.0 107.3c25.9-8.4 51.8-14.2 77.6-18.7s51.8-7.8 77.6-10.5s51.8-4.7 77.6-6.5"/>
<path d="M86.0 109.7c25.9-8.5 51.8-14.4 77.6-19.0s51.8-8.1 77.6-10.9s51.8-4.9 77.6-6.7"/>
<path d="M86.0 100.0c25.9-7.1 51.8-11.8 77.6-15.6s51.8-6.6 77.6-8.8s51.8-4.0 77.6-5.5"/>
<path d="M86.0 95.4c25.9-7.2 51.8-11.9 77.6-15.6s51.8-6.3 77.6-8.4s51.8-3.7 77.6-5.0"/>
<path d="M86.0 99.2c25.9-5.8 51.8-9.8 77.6-13.1s51.8-5.8 77.6-7.8s51.8-3.7 77.6-5.1"/>
<path d="M86.0 111.3c25.9-7.8 51.8-13.3 77.6-17.8s51.8-7.8 77.6-10.5s51.8-4.9 77.6-6.8"/>
<path d="M86.0 115.4c25.9-9.5 51.8-16.0 77.6-21.2s51.8-9.0 77.6-12.1s51.8-5.5 77.6-7.5"/>
<path d="M86.0 113.1c25.9-8.7 51.8-14.7 77.6-19.6s51.8-8.4 77.6-11.3s51.8-5.2 77.6-7.1"/>
<path d="M86.0 98.0c25.9-5.7 51.8-9.7 77.6-12.9s51.8-5.7 77.6-7.7s51.8-3.6 77.6-5.0"/>
<path d="M86.0 115.1c25.9-8.0 51.8-13.7 77.6-18.3s51.8-8.1 77.6-11.0s51.8-5.2 77.6-7.2"/>
<path d="M86.0 106.4c25.9-8.5 51.8-14.2 77.6-18.8s51.8-7.8 77.6-10.4s51.8-4.7 77.6-6.4"/>
<path d="M86.0 104.5c25.9-7.4 51.8-12.6 77.6-16.6s51.8-7.1 77.6-9.6s51.8-4.4 77.6-6.0"/>
<path d="M86.0 100.9c25.9-6.8 51.8-11.4 77.6-15.1s51.8-6.5 77.6-8.7s51.8-4.0 77.6-5.5"/>
<path d="M86.0 86.6c25.9-5.8 51.8-9.5 77.6-12.3s51.8-4.9 77.6-6.6s51.8-2.9 77.6-3.9"/>
<path d="M86.0 99.5c25.9-7.3 51.8-12.1 77.6-16.0s51.8-6.6 77.6-8.9s51.8-4.0 77.6-5.5"/>
<path d="M86.0 93.2c25.9-5.8 51.8-9.6 77.6-12.7s51.8-5.4 77.6-7.3s51.8-3.4 77.6-4.6"/>
<path d="M86.0 116.5c25.9-9.7 51.8-16.5 77.6-21.8s51.8-9.3 77.6-12.4s51.8-5.6 77.6-7.7"/>
<path d="M86.0 91.6c25.9-5.4 51.8-9.0 77.6-12.0s51.8-5.1 77.6-6.9s51.8-3.2 77.6-4.4"/>
<path d="M86.0 86.2c25.9-5.3 51.8-8.8 77.6-11.5s51.8-4.7 77.6-6.3s51.8-2.8 77.6-3.9"/>
<path d="M86.0 100.1c25.9-7.2 51.8-12.1 77.6-15.9s51.8-6.7 77.6-8.9s51.8-4.1 77.6-5.5"/>
<path d="M86.0 108.1c25.9-7.6 51.8-12.9 77.6-17.1s51.8-7.4 77.6-10.0s51.8-4.7 77.6-6.4"/>
<path d="M86.0 109.0c25.9-7.7 51.8-13.0 77.6-17.3s51.8-7.5 77.6-10.2s51.8-4.8 77.6-6.5"/>
<path d="M86.0 106.4c25.9-8.2 51.8-13.8 77.6-18.2s51.8-7.6 77.6-10.3s51.8-4.7 77.6-6.3"/>
<path d="M86.0 99.1c25.9-7.1 51.8-11.8 77.6-15.6s51.8-6.5 77.6-8.7s51.8-4.0 77.6-5.4"/>
<path d="M86.0 87.4c25.9-5.2 51.8-8.6 77.6-11.3s51.8-4.7 77.6-6.4s51.8-2.9 77.6-4.0"/>
<path d="M86.0 107.1c25.9-7.7 51.8-13.0 77.6-17.3s51.8-7.4 77.6-10.0s51.8-4.6 77.6-6.3"/>
<path d="M86.0 98.5c25.9-6.1 51.8-10.2 77.6-13.6s51.8-5.9 77.6-8.0s51.8-3.8 77.6-5.2"/>
<path d="M86.0 99.8c25.9-6.3 51.8-10.7 77.6-14.2s51.8-6.1 77.6-8.3s51.8-3.9 77.6-5.3"/>
<path d="M86.0 97.6c25.9-5.5 51.8-9.3 77.6-12.5s51.8-5.5 77.6-7.5s51.8-3.6 77.6-4.9"/>
<path d="M86.0 104.2c25.9-7.3 51.8-12.3 77.6-16.4s51.8-7.0 77.6-9.5s51.8-4.4 77.6-6.0"/>
<path d="M86.0 112.3c25.9-9.6 51.8-16.1 77.6-21.2s51.8-8.8 77.6-11.8s51.8-5.3 77.6-7.2"/>
<path d="M86.0 101.2c25.9-7.0 51.8-11.7 77.6-15.5s51.8-6.6 77.6-8.9s51.8-4.1 77.6-5.6"/>
<path d="M86.0 84.4c25.9-5.5 51.8-8.9 77.6-11.6s51.8-4.6 77.6-6.2s51.8-2.7 77.6-3.7"/>
<path d="M86.0 100.2c25.9-6.0 51.8-10.2 77.6-13.6s51.8-6.0 77.6-8.1s51.8-3.8 77.6-5.3"/>
<path d="M86.0 89.1c25.9-5.4 51.8-9.0 77.6-11.9s51.8-4.9 77.6-6.7s51.8-3.0 77.6-4.2"/>
<path d="M86.0 92.9c25.9-5.9 51.8-9.8 77.6-13.0s51.8-5.5 77.6-7.3s51.8-3.4 77.6-4.6"/>
<path d="M86.0 116.8c25.9-9.6 51.8-16.3 77.6-21.6s51.8-9.2 77.6-12.4s51.8-5.6 77.6-7.7"/>
<path d="M86.0 96.9c25.9-6.4 51.8-10.8 77.6-14.2s51.8-6.0 77.6-8.1s51.8-3.7 77.6-5.1"/>
<path d="M86.0 90.6c25.9-5.4 51.8-9.0 77.6-11.9s51.8-5.0 77.6-6.8s51.8-3.1 77.6-4.3"/>
<path d="M86.0 110.6c25.9-8.1 51.8-13.7 77.6-18.2s51.8-7.9 77.6-10.6s51.8-4.9 77.6-6.8"/>
<path d="M86.0 91.0c25.9-4.8 51.8-8.2 77.6-10.9s51.8-4.7 77.6-6.4s51.8-3.0 77.6-4.2"/>
<path d="M86.0 99.7c25.9-5.9 51.8-10.1 77.6-13.4s51.8-5.9 77.6-8.0s51.8-3.8 77.6-5.2"/>
<path d="M86.0 91.2c25.9-6.2 51.8-10.3 77.6-13.5s51.8-5.5 77.6-7.4s51.8-3.3 77.6-4.5"/>
<path d="M86.0 108.3c25.9-8.4 51.8-14.2 77.6-18.8s51.8-7.9 77.6-10.6s51.8-4.8 77.6-6.6"/>
<path d="M86.0 110.0c25.9-7.3 51.8-12.5 77.6-16.7s51.8-7.4 77.6-10.0s51.8-4.7 77.6-6.5"/>
<path d="M86.0 91.7c25.9-6.4 51.8-10.5 77.6-13.8s51.8-5.6 77.6-7.5s51.8-3.3 77.6-4.5"/>
<path d="M86.0 103.2c25.9-8.6 51.8-14.2 77.6-18.7s51.8-7.6 77.6-10.1s51.8-4.4 77.6-6.0"/>
<path d="M86.0 83.6c25.9-4.7 51.8-7.8 77.6-10.3s51.8-4.2 77.6-5.7s51.8-2.6 77.6-3.5"/>
<path d="M86.0 107.5c25.9-7.2 51.8-12.3 77.6-16.3s51.8-7.1 77.6-9.7s51.8-4.6 77.6-6.3"/>
<path d="M86.0 108.4c25.9-7.8 51.8-13.2 77.6-17.5s51.8-7.6 77.6-10.2s51.8-4.7 77.6-6.5"/>
<path d="M86.0 98.0c25.9-6.5 51.8-10.8 77.6-14.3s51.8-6.1 77.6-8.2s51.8-3.8 77.6-5.2"/>
<path d="M86.0 94.6c25.9-5.5 51.8-9.3 77.6-12.4s51.8-5.4 77.6-7.3s51.8-3.4 77.6-4.7"/>
<path d="M86.0 108.3c25.9-8.5 51.8-14.3 77.6-18.9s51.8-7.9 77.6-10.7s51.8-4.8 77.6-6.6"/>
<path d="M86.0 92.9c25.9-7.5 51.8-12.2 77.6-15.8s51.8-6.2 77.6-8.2s51.8-3.5 77.6-4.7"/>
<path d="M86.0 86.2c25.9-4.8 51.8-8.0 77.6-10.5s51.8-4.4 77.6-6.0s51.8-2.8 77.6-3.8"/>
<path d="M86.0 96.4c25.9-7.2 51.8-12.0 77.6-15.7s51.8-6.4 77.6-8.5s51.8-3.8 77.6-5.1"/>
<path d="M86.0 98.8c25.9-6.2 51.8-10.5 77.6-14.0s51.8-6.0 77.6-8.2s51.8-3.8 77.6-5.2"/>
<path d="M86.0 89.3c25.9-6.2 51.8-10.2 77.6-13.3s51.8-5.3 77.6-7.1s51.8-3.1 77.6-4.3"/>
<path d="M86.0 87.7c25.9-5.4 51.8-8.9 77.6-11.7s51.8-4.8 77.6-6.5s51.8-2.9 77.6-4.0"/>
<path d="M86.0 98.2c25.9-5.1 51.8-8.8 77.6-11.8s51.8-5.3 77.6-7.2s51.8-3.5 77.6-4.8"/>
<path d="M86.0 98.5c25.9-6.9 51.8-11.6 77.6-15.3s51.8-6.4 77.6-8.6s51.8-3.9 77.6-5.3"/>
<path d="M86.0 110.3c25.9-7.9 51.8-13.5 77.6-17.9s51.8-7.8 77.6-10.5s51.8-4.9 77.6-6.7"/>
<path d="M86.0 112.8c25.9-7.3 51.8-12.5 77.6-16.8s51.8-7.5 77.6-10.2s51.8-4.9 77.6-6.8"/>
<path d="M86.0 106.7c25.9-7.4 51.8-12.5 77.6-16.7s51.8-7.2 77.6-9.8s51.8-4.5 77.6-6.2"/>
<path d="M86.0 117.3c25.9-9.1 51.8-15.6 77.6-20.7s51.8-9.0 77.6-12.1s51.8-5.6 77.6-7.7"/>
<path d="M86.0 108.5c25.9-6.8 51.8-11.6 77.6-15.5s51.8-6.9 77.6-9.4s51.8-4.5 77.6-6.2"/>
<path d="M86.0 85.9c25.9-5.1 51.8-8.4 77.6-11.1s51.8-4.6 77.6-6.1s51.8-2.8 77.6-3.8"/>
<path d="M86.0 111.4c25.9-10.0 51.8-16.7 77.6-22.0s51.8-8.9 77.6-11.9s51.8-5.2 77.6-7.0"/>
<path d="M86.0 104.9c25.9-7.8 51.8-13.0 77.6-17.3s51.8-7.3 77.6-9.8s51.8-4.5 77.6-6.1"/>
<path d="M86.0 90.1c25.9-5.8 51.8-9.7 77.6-12.7s51.8-5.2 77.6-7.0s51.8-3.2 77.6-4.3"/>
<path d="M86.0 91.0c25.9-6.4 51.8-10.6 77.6-13.8s51.8-5.6 77.6-7.4s51.8-3.3 77.6-4.5"/>
<path d="M86.0 111.4c25.9-9.6 51.8-16.1 77.6-21.2s51.8-8.8 77.6-11.7s51.8-5.2 77.6-7.0"/>
<path d="M86.0 100.4c25.9-7.5 51.8-12.5 77.6-16.4s51.8-6.8 77.6-9.1s51.8-4.1 77.6-5.6"/>
<path d="M86.0 97.0c25.9-6.3 51.8-10.5 77.6-14.0s51.8-5.9 77.6-8.0s51.8-3.7 77.6-5.1"/>
<path d="M86.0 85.2c25.9-3.9 51.8-6.7 77.6-8.9s51.8-3.9 77.6-5.3s51.8-2.5 77.6-3.5"/>
<path d="M86.0 117.0c25.9-8.8 51.8-15.0 77.6-20.0s51.8-8.7 77.6-11.8s51.8-5.5 77.6-7.6"/>
<path d="M86.0 105.6c25.9-6.6 51.8-11.3 77.6-15.1s51.8-6.7 77.6-9.1s51.8-4.3 77.6-5.9"/>
<path d="M86.0 100.2c25.9-6.1 51.8-10.4 77.6-13.8s51.8-6.0 77.6-8.2s51.8-3.9 77.6-5.3"/>
<path d="M86.0 104.3c25.9-7.5 51.8-12.6 77.6-16.7s51.8-7.1 77.6-9.6s51.8-4.4 77.6-6.0"/>
<path d="M86.0 117.2c25.9-8.1 51.8-13.9 77.6-18.6s51.8-8.3 77.6-11.3s51.8-5.4 77.6-7.4"/>
<path d="M86.0 90.4c25.9-6.1 51.8-10.1 77.6-13.2s51.8-5.4 77.6-7.2s51.8-3.2 77.6-4.4"/>
<path d="M86.0 85.5c25.9-4.4 51.8-7.4 77.6-9.8s51.8-4.2 77.6-5.7s51.8-2.6 77.6-3.6"/>
<path d="M86.0 108.9c25.9-9.3 51.8-15.5 77.6-20.4s51.8-8.4 77.6-11.2s51.8-5.0 77.6-6.7"/>
<path d="M86.0 82.8c25.9-4.6 51.8-7.5 77.6-9.9s51.8-4.1 77.6-5.5s51.8-2.5 77.6-3.4"/>
<path d="M86.0 94.6c25.9-6.3 51.8-10.6 77.6-13.9s51.8-5.8 77.6-7.8s51.8-3.5 77.6-4.8"/>
<path d="M86.0 115.1c25.9-8.5 51.8-14.5 77.6-19.3s51.8-8.4 77.6-11.4s51.8-5.3 77.6-7.3"/>
<path d="M86.0 87.9c25.9-5.2 51.8-8.7 77.6-11.5s51.8-4.8 77.6-6.4s51.8-2.9 77.6-4.0"/>
<path d="M86.0 90.1c25.9-5.9 51.8-9.8 77.6-12.8s51.8-5.3 77.6-7.1s51.8-3.2 77.6-4.3"/>
<path d="M86.0 110.1c25.9-7.5 51.8-12.7 77.6-17.0s51.8-7.5 77.6-10.1s51.8-4.8 77.6-6.6"/>
<path d="M86.0 89.5c25.9-5.4 51.8-9.0 77.6-11.8s51.8-5.0 77.6-6.7s51.8-3.1 77.6-4.2"/>
<path d="M86.0 88.7c25.9-5.4 51.8-9.0 77.6-11.8s51.8-4.9 77.6-6.6s51.8-3.0 77.6-4.1"/>
<path d="M86.0 99.7c25.9-6.3 51.8-10.7 77.6-14.2s51.8-6.1 77.6-8.3s51.8-3.9 77.6-5.3"/>
<path d="M86.0 82.5c25.9-4.0 51.8-6.7 77.6-8.9s51.8-3.8 77.6-5.1s51.8-2.4 77.6-3.3"/>
<path d="M86.0 104.1c25.9-7.1 51.8-11.9 77.6-15.9s51.8-6.8 77.6-9.3s51.8-4.3 77.6-5.9"/>
<path d="M86.0 100.9c25.9-6.8 51.8-11.4 77.6-15.1s51.8-6.5 77.6-8.7s51.8-4.0 77.6-5.5"/>
<path d="M86.0 86.0c25.9-5.2 51.8-8.5 77.6-11.2s51.8-4.6 77.6-6.2s51.8-2.8 77.6-3.8"/>
<path d="M86.0 109.2c25.9-8.8 51.8-14.9 77.6-19.6s51.8-8.2 77.6-11.0s51.8-4.9 77.6-6.7"/>
<path d="M86.0 96.9c25.9-6.8 51.8-11.4 77.6-15.0s51.8-6.2 77.6-8.4s51.8-3.8 77.6-5.1"/>
<path d="M86.0 92.5c25.9-5.8 51.8-9.7 77.6-12.9s51.8-5.4 77.6-7.3s51.8-3.3 77.6-4.6"/>
<path d="M86.0 98.9c25.9-6.3 51.8-10.6 77.6-14.1s51.8-6.1 77.6-8.2s51.8-3.8 77.6-5.2"/>
<path d="M86.0 112.9c25.9-8.9 51.8-15.1 77.6-20.1s51.8-8.5 77.6-11.5s51.8-5.2 77.6-7.1"/>
<path d="M86.0 99.6c25.9-7.3 51.8-12.2 77.6-16.1s51.8-6.7 77.6-9.0s51.8-4.0 77.6-5.5"/>
<path d="M86.0 109.1c25.9-7.3 51.8-12.5 77.6-16.6s51.8-7.3 77.6-9.9s51.8-4.7 77.6-6.4"/>
<path d="M86.0 109.4c25.9-8.3 51.8-13.9 77.6-18.5s51.8-7.9 77.6-10.6s51.8-4.9 77.6-6.7"/>
<path d="M86.0 96.0c25.9-5.8 51.8-9.8 77.6-13.1s51.8-5.6 77.6-7.6s51.8-3.6 77.6-4.9"/>
<path d="M86.0 99.1c25.9-7.3 51.8-12.2 77.6-16.1s51.8-6.6 77.6-8.9s51.8-4.0 77.6-5.4"/>
<path d="M86.0 101.8c25.9-7.3 51.8-12.3 77.6-16.3s51.8-6.8 77.6-9.2s51.8-4.2 77.6-5.7"/>
<path d="M86.0 83.3c25.9-4.1 51.8-6.9 77.6-9.2s51.8-3.9 77.6-5.3s51.8-2.5 77.6-3.4"/>
<path d="M86.0 98.6c25.9-6.1 51.8-10.4 77.6-13.8s51.8-5.9 77.6-8.1s51.8-3.8 77.6-5.2"/>
<path d="M86.0 95.0c25.9-6.7 51.8-11.1 77.6-14.5s51.8-6.0 77.6-8.0s51.8-3.6 77.6-4.9"/>
<path d="M86.0 113.4c25.9-8.4 51.8-14.3 77.6-19.1s51.8-8.3 77.6-11.2s51.8-5.2 77.6-7.1"/>
<path d="M86.0 100.3c25.9-7.0 51.8-11.7 77.6-15.4s51.8-6.5 77.6-8.8s51.8-4.0 77.6-5.5"/>
<path d="M86.0 89.1c25.9-4.8 51.8-8.0 77.6-10.7s51.8-4.6 77.6-6.2s51.8-2.9 77.6-4.0"/>
<path d="M86.0 108.4c25.9-8.2 51.8-13.9 77.6-18.4s51.8-7.8 77.6-10.5s51.8-4.8 77.6-6.6"/>
<path d="M86.0 106.5c25.9-6.1 51.8-10.5 77.6-14.1s51.8-6.4 77.6-8.7s51.8-4.2 77.6-5.8"/>
<path d="M86.0 100.7c25.9-6.1 51.8-10.3 77.6-13.7s51.8-6.0 77.6-8.2s51.8-3.9 77.6-5.3"/>
<path d="M86.0 101.1c25.9-8.4 51.8-13.9 77.6-18.2s51.8-7.3 77.6-9.7s51.8-4.2 77.6-5.7"/>
<path d="M86.0 97.6c25.9-7.2 51.8-12.0 77.6-15.8s51.8-6.5 77.6-8.7s51.8-3.9 77.6-5.3"/>
<path d="M86.0 121.3c25.9-10.2 51.8-17.3 77.6-23.0s51.8-9.9 77.6-13.3s51.8-6.1 77.6-8.3"/>
<path d="M86.0 101.6c25.9-7.7 51.8-12.9 77.6-16.9s51.8-7.0 77.6-9.4s51.8-4.2 77.6-5.7"/>
<path d="M86.0 111.1c25.9-8.0 51.8-13.6 77.6-18.1s51.8-7.9 77.6-10.6s51.8-5.0 77.6-6.8"/>
<path d="M86.0 99.8c25.9-8.6 51.8-14.1 77.6-18.4s51.8-7.2 77.6-9.6s51.8-4.1 77.6-5.6"/>
<path d="M86.0 77.9c25.9-3.0 51.8-5.1 77.6-6.8s51.8-3.0 77.6-4.0s51.8-1.9 77.6-2.7"/>
<path d="M86.0 103.1c25.9-8.7 51.8-14.4 77.6-18.8s51.8-7.6 77.6-10.1s51.8-4.4 77.6-6.0"/>
<path d="M86.0 110.0c25.9-7.5 51.8-12.8 77.6-17.1s51.8-7.5 77.6-10.2s51.8-4.8 77.6-6.6"/>
<path d="M86.0 106.8c25.9-7.5 51.8-12.7 77.6-16.9s51.8-7.3 77.6-9.8s51.8-4.6 77.6-6.3"/>
<path d="M86.0 102.8c25.9-7.7 51.8-12.9 77.6-17.0s51.8-7.1 77.6-9.6s51.8-4.3 77.6-5.9"/>
<path d="M86.0 102.8c25.9-6.7 51.8-11.3 77.6-15.1s51.8-6.5 77.6-8.9s51.8-4.2 77.6-5.7"/>
<path d="M86.0 97.1c25.9-6.2 51.8-10.4 77.6-13.8s51.8-5.9 77.6-8.0s51.8-3.7 77.6-5.1"/>
<path d="M86.0 89.4c25.9-5.1 51.8-8.5 77.6-11.2s51.8-4.8 77.6-6.5s51.8-3.0 77.6-4.1"/>
<path d="M86.0 98.7c25.9-6.5 51.8-10.9 77.6-14.4s51.8-6.2 77.6-8.3s51.8-3.8 77.6-5.3"/>
<path d="M86.0 108.4c25.9-7.3 51.8-12.4 77.6-16.5s51.8-7.2 77.6-9.8s51.8-4.6 77.6-6.4"/>
<path d="M86.0 89.7c25.9-5.8 51.8-9.6 77.6-12.6s51.8-5.2 77.6-6.9s51.8-3.1 77.6-4.3"/>
<path d="M86.0 93.3c25.9-6.6 51.8-10.9 77.6-14.2s51.8-5.8 77.6-7.8s51.8-3.5 77.6-4.7"/>
<path d="M86.0 94.3c25.9-6.5 51.8-10.8 77.6-14.2s51.8-5.9 77.6-7.9s51.8-3.5 77.6-4.8"/>
<path d="M86.0 112.0c25.9-8.5 51.8-14.3 77.6-19.1s51.8-8.2 77.6-11.1s51.8-5.1 77.6-7.0"/>
<path d="M86.0 86.2c25.9-5.0 51.8-8.3 77.6-11.0s51.8-4.6 77.6-6.1s51.8-2.8 77.6-3.8"/>
<path d="M86.0 91.3c25.9-6.2 51.8-10.2 77.6-13.4s51.8-5.5 77.6-7.3s51.8-3.3 77.6-4.5"/>
<path d="M86.0 90.9c25.9-5.2 51.8-8.8 77.6-11.6s51.8-5.0 77.6-6.7s51.8-3.1 77.6-4.3"/>
<path d="M86.0 108.2c25.9-6.5 51.8-11.2 77.6-15.0s51.8-6.7 77.6-9.2s51.8-4.4 77.6-6.1"/>
<path d="M86.0 93.1c25.9-5.5 51.8-9.3 77.6-12.3s51.8-5.3 77.6-7.1s51.8-3.3 77.6-4.5"/>
<path d="M86.0 99.6c25.9-6.1 51.8-10.3 77.6-13.8s51.8-6.0 77.6-8.1s51.8-3.8 77.6-5.3"/>
<path d="M86.0 100.9c25.9-6.9 51.8-11.6 77.6-15.4s51.8-6.5 77.6-8.8s51.8-4.1 77.6-5.6"/>
<path d="M86.0 102.0c25.9-7.0 51.8-11.9 77.6-15.7s51.8-6.7 77.6-9.0s51.8-4.2 77.6-5.7"/>
<path d="M86.0 106.0c25.9-6.6 51.8-11.2 77.6-15.0s51.8-6.6 77.6-9.0s51.8-4.3 77.6-5.9"/>
<path d="M86.0 109.6c25.9-8.3 51.8-14.0 77.6-18.6s51.8-7.9 77.6-10.7s51.8-4.9 77.6-6.7"/>
<path d="M86.0 106.1c25.9-7.8 51.8-13.1 77.6-17.3s51.8-7.4 77.6-9.9s51.8-4.6 77.6-6.2"/>
<path d="M86.0 116.0c25.9-10.0 51.8-16.8 77.6-22.2s51.8-9.3 77.6-12.5s51.8-5.6 77.6-7.6"/>
<path d="M86.0 89.8c25.9-5.7 51.8-9.4 77.6-12.4s51.8-5.1 77.6-6.9s51.8-3.1 77.6-4.3"/>
<path d="M86.0 100.1c25.9-7.3 51.8-12.1 77.6-16.0s51.8-6.7 77.6-9.0s51.8-4.1 77.6-5.5"/>
<path d="M86.0 99.2c25.9-7.4 51.8-12.3 77.6-16.2s51.8-6.7 77.6-8.9s51.8-4.0 77.6-5.5"/>
<path d="M86.0 109.2c25.9-7.9 51.8-13.4 77.6-17.8s51.8-7.7 77.6-10.4s51.8-4.8 77.6-6.6"/>
<path d="M86.0 102.9c25.9-7.2 51.8-12.1 77.6-16.0s51.8-6.8 77.6-9.2s51.8-4.2 77.6-5.8"/>
<path d="M86.0 106.5c25.9-7.7 51.8-13.0 77.6-17.3s51.8-7.4 77.6-10.0s51.8-4.6 77.6-6.3"/>
<path d="M86.0 98.3c25.9-6.5 51.8-11.0 77.6-14.5s51.8-6.2 77.6-8.3s51.8-3.8 77.6-5.2"/>
<path d="M86.0 108.9c25.9-6.8 51.8-11.7 77.6-15.6s51.8-7.0 77.6-9.5s51.8-4.5 77.6-6.3"/>
<path d="M86.0 106.8c25.9-5.9 51.8-10.1 77.6-13.6s51.8-6.2 77.6-8.5s51.8-4.1 77.6-5.7"/>
<path d="M86.0 94.1c25.9-6.7 51.8-11.1 77.6-14.6s51.8-5.9 77.6-8.0s51.8-3.5 77.6-4.8"/>
<path d="M86.0 91.9c25.9-5.4 51.8-9.1 77.6-12.1s51.8-5.2 77.6-7.0s51.8-3.2 77.6-4.4"/>
<path d="M86.0 100.0c25.9-7.4 51.8-12.4 77.6-16.3s51.8-6.8 77.6-9.1s51.8-4.1 77.6-5.5"/>
<path d="M86.0 102.6c25.9-8.3 51.8-13.7 77.6-18.0s51.8-7.4 77.6-9.8s51.8-4.4 77.6-5.9"/>
<path d="M86.0 90.3c25.9-5.8 51.8-9.6 77.6-12.7s51.8-5.2 77.6-7.0s51.8-3.2 77.6-4.3"/>
<path d="M86.0 107.3c25.9-8.0 51.8-13.4 77.6-17.8s51.8-7.6 77.6-10.2s51.8-4.7 77.6-6.4"/>
<path d="M86.0 110.4c25.9-9.3 51.8-15.5 77.6-20.5s51.8-8.5 77.6-11.4s51.8-5.1 77.6-6.9"/>
<path d="M86.0 99.1c25.9-6.4 51.8-10.8 77.6-14.4s51.8-6.2 77.6-8.3s51.8-3.9 77.6-5.3"/>
<path d="M86.0 88.4c25.9-6.3 51.8-10.2 77.6-13.3s51.8-5.3 77.6-7.0s51.8-3.1 77.6-4.2"/>
<path d="M86.0 110.9c25.9-9.6 51.8-16.1 77.6-21.2s51.8-8.7 77.6-11.7s51.8-5.2 77.6-7.0"/>
<path d="M86.0 112.0c25.9-8.1 51.8-13.8 77.6-18.4s51.8-8.0 77.6-10.8s51.8-5.0 77.6-6.9"/>
<path d="M86.0 91.0c25.9-6.1 51.8-10.1 77.6-13.2s51.8-5.4 77.6-7.3s51.8-3.3 77.6-4.4"/>
<path d="M86.0 117.3c25.9-8.5 51.8-14.6 77.6-19.5s51.8-8.6 77.6-11.7s51.8-5.5 77.6-7.5"/>
<path d="M86.0 92.9c25.9-6.0 51.8-10.1 77.6-13.3s51.8-5.5 77.6-7.4s51.8-3.4 77.6-4.6"/>
<path d="M86.0 84.0c25.9-4.8 51.8-7.9 77.6-10.4s51.8-4.3 77.6-5.8s51.8-2.6 77.6-3.6"/>
<path d="M86.0 108.4c25.9-6.8 51.8-11.7 77.6-15.6s51.8-6.9 77.6-9.5s51.8-4.5 77.6-6.2"/>
<path d="M86.0 114.1c25.9-7.5 51.8-12.8 77.6-17.2s51.8-7.7 77.6-10.5s51.8-5.0 77.6-6.9"/>
<path d="M86.0 83.3c25.9-5.0 51.8-8.2 77.6-10.7s51.8-4.3 77.6-5.8s51.8-2.6 77.6-3.5"/>
<path d="M86.0 104.1c25.9-7.0 51.8-11.9 77.6-15.8s51.8-6.8 77.6-9.2s51.8-4.3 77.6-5.9"/>
<path d="M86.0 94.8c25.9-6.8 51.8-11.3 77.6-14.8s51.8-6.0 77.6-8.1s51.8-3.6 77.6-4.9"/>
<path d="M86.0 92.2c25.9-5.8 51.8-9.6 77.6-12.7s51.8-5.3 77.6-7.2s51.8-3.3 77.6-4.5"/>
<path d="M86.0 114.6c25.9-8.0 51.8-13.7 77.6-18.3s51.8-8.1 77.6-11.0s51.8-5.2 77.6-7.1"/>
<path d="M86.0 92.6c25.9-5.4 51.8-9.0 77.6-12.0s51.8-5.2 77.6-7.0s51.8-3.3 77.6-4.5"/>
<path d="M86.0 107.0c25.9-7.3 51.8-12.3 77.6-16.4s51.8-7.1 77.6-9.7s51.8-4.5 77.6-6.2"/>
<path d="M86.0 115.5c25.9-9.4 51.8-15.9 77.6-21.0s51.8-9.0 77.6-12.1s51.8-5.5 77.6-7.5"/>
<path d="M86.0 106.7c25.9-7.2 51.8-12.3 77.6-16.3s51.8-7.1 77.6-9.6s51.8-4.5 77.6-6.2"/>
<path d="M86.0 97.0c25.9-6.8 51.8-11.3 77.6-14.9s51.8-6.2 77.6-8.3s51.8-3.8 77.6-5.1"/>
<path d="M86.0 97.8c25.9-7.1 51.8-11.9 77.6-15.6s51.8-6.4 77.6-8.6s51.8-3.9 77.6-5.3"/>
<path d="M86.0 104.4c25.9-7.9 51.8-13.3 77.6-17.5s51.8-7.3 77.6-9.9s51.8-4.5 77.6-6.1"/>
<path d="M86.0 92.0c25.9-6.5 51.8-10.8 77.6-14.1s51.8-5.7 77.6-7.6s51.8-3.4 77.6-4.6"/>
<path d="M86.0 88.1c25.9-4.8 51.8-8.0 77.6-10.6s51.8-4.5 77.6-6.1s51.8-2.9 77.6-3.9"/>
<path d="M86.0 95.5c25.9-6.3 51.8-10.5 77.6-13.9s51.8-5.9 77.6-7.9s51.8-3.6 77.6-4.9"/>
<path d="M86.0 95.2c25.9-5.6 51.8-9.4 77.6-12.5s51.8-5.4 77.6-7.3s51.8-3.4 77.6-4.7"/>
<path d="M86.0 112.0c25.9-9.0 51.8-15.2 77.6-20.1s51.8-8.5 77.6-11.4s51.8-5.2 77.6-7.1"/>
<path d="M86.0 97.7c25.9-6.2 51.8-10.4 77.6-13.8s51.8-5.9 77.6-8.0s51.8-3.7 77.6-5.1"/>
<path d="M86.0 94.8c25.9-5.8 51.8-9.7 77.6-12.8s51.8-5.5 77.6-7.4s51.8-3.5 77.6-4.8"/>
<path d="M86.0 97.9c25.9-5.7 51.8-9.7 77.6-12.9s51.8-5.6 77.6-7.7s51.8-3.6 77.6-5.0"/>
<path d="M86.0 90.3c25.9-5.4 51.8-9.0 77.6-11.9s51.8-5.0 77.6-6.8s51.8-3.1 77.6-4.3"/>
<path d="M86.0 104.1c25.9-9.3 51.8-15.3 77.6-20.0s51.8-7.9 77.6-10.5s51.8-4.5 77.6-6.1"/>
<path d="M86.0 83.0c25.9-4.3 51.8-7.1 77.6-9.4s51.8-4.0 77.6-5.3s51.8-2.5 77.6-3.4"/>
<path d="M86.0 126.2c25.9-12.1 51.8-20.5 77.6-27.1s51.8-11.3 77.6-15.2s51.8-6.7 77.6-9.0"/>
<path d="M86.0 101.9c25.9-8.0 51.8-13.4 77.6-17.6s51.8-7.2 77.6-9.6s51.8-4.3 77.6-5.8"/>
<path d="M86.0 107.5c25.9-7.7 51.8-13.0 77.6-17.3s51.8-7.4 77.6-10.0s51.8-4.7 77.6-6.4"/>
<path d="M86.0 107.9c25.9-7.9 51.8-13.4 77.6-17.8s51.8-7.6 77.6-10.3s51.8-4.7 77.6-6.5"/>
<path d="M86.0 108.2c25.9-7.4 51.8-12.6 77.6-16.8s51.8-7.3 77.6-9.9s51.8-4.6 77.6-6.4"/>
<path d="M86.0 110.0c25.9-8.4 51.8-14.2 77.6-18.8s51.8-8.0 77.6-10.8s51.8-4.9 77.6-6.8"/>
<path d="M86.0 88.7c25.9-5.9 51.8-9.7 77.6-12.8s51.8-5.2 77.6-6.9s51.8-3.1 77.6-4.2"/>
<path d="M86.0 113.1c25.9-8.8 51.8-14.9 77.6-19.8s51.8-8.5 77.6-11.4s51.8-5.2 77.6-7.2"/>
<path d="M86.0 92.7c25.9-5.9 51.8-9.9 77.6-13.0s51.8-5.5 77.6-7.3s51.8-3.4 77.6-4.6"/>
<path d="M86.0 84.7c25.9-4.4 51.8-7.4 77.6-9.8s51.8-4.2 77.6-5.6s51.8-2.6 77.6-3.6"/>
<path d="M86.0 113.3c25.9-7.3 51.8-12.6 77.6-16.9s51.8-7.6 77.6-10.3s51.8-4.9 77.6-6.8"/>
<path d="M86.0 90.9c25.9-4.9 51.8-8.2 77.6-10.9s51.8-4.7 77.6-6.4s51.8-3.0 77.6-4.2"/>
<path d="M86.0 106.0c25.9-8.0 51.8-13.5 77.6-17.8s51.8-7.5 77.6-10.1s51.8-4.6 77.6-6.3"/>
<path d="M86.0 105.5c25.9-6.6 51.8-11.3 77.6-15.1s51.8-6.7 77.6-9.0s51.8-4.3 77.6-5.9"/>
<path d="M86.0 104.2c25.9-7.0 51.8-11.8 77.6-15.7s51.8-6.8 77.6-9.2s51.8-4.3 77.6-5.9"/>
<path d="M86.0 102.8c25.9-7.7 51.8-12.9 77.6-17.0s51.8-7.1 77.6-9.6s51.8-4.3 77.6-5.9"/>
<path d="M86.0 115.0c25.9-10.1 51.8-17.0 77.6-22.5s51.8-9.3 77.6-12.5s51.8-5.5 77.6-7.5"/>
<path d="M86.0 94.0c25.9-6.5 51.8-10.8 77.6-14.2s51.8-5.8 77.6-7.8s51.8-3.5 77.6-4.8"/>
<path d="M86.0 87.7c25.9-5.0 51.8-8.4 77.6-11.1s51.8-4.7 77.6-6.3s51.8-2.9 77.6-4.0"/>
<path d="M86.0 91.0c25.9-6.1 51.8-10.0 77.6-13.2s51.8-5.4 77.6-7.2s51.8-3.3 77.6-4.4"/>
<path d="M86.0 111.2c25.9-8.7 51.8-14.7 77.6-19.5s51.8-8.3 77.6-11.1s51.8-5.1 77.6-6.9"/>
<path d="M86.0 93.2c25.9-7.1 51.8-11.7 77.6-15.3s51.8-6.1 77.6-8.1s51.8-3.5 77.6-4.7"/>
<path d="M86.0 93.2c25.9-5.5 51.8-9.2 77.6-12.3s51.8-5.3 77.6-7.1s51.8-3.3 77.6-4.6"/>
<path d="M86.0 116.2c25.9-8.5 51.8-14.5 77.6-19.4s51.8-8.5 77.6-11.5s51.8-5.4 77.6-7.4"/>
<path d="M86.0 110.6c25.9-6.8 51.8-11.6 77.6-15.6s51.8-7.0 77.6-9.6s51.8-4.6 77.6-6.4"/>
<path d="M86.0 100.7c25.9-6.9 51.8-11.5 77.6-15.3s51.8-6.5 77.6-8.8s51.8-4.0 77.6-5.5"/>
<path d="M86.0 113.3c25.9-8.8 51.8-15.0 77.6-19.9s51.8-8.5 77.6-11.5s51.8-5.3 77.6-7.2"/>
<path d="M86.0 146.4c25.9-14.0 51.8-24.5 77.6-32.8s51.8-14.5 77.6-19.5s51.8-8.8 77.6-12.0"/>
</g>
<path d="M86.0 101.0c12.9-3.5 25.9-6.5 38.8-9.0s25.9-4.7 38.8-6.6s25.9-3.6 38.8-5.0s25.9-2.8 38.8-3.9s25.9-2.2 38.8-3.1s25.9-1.7 38.8-2.5" fill="none" stroke="#7ffcff" stroke-width="3.4"/>
</g>
<g clip-path="url(#c10)">
<g class="cr">
<path d="M423.8 57.1c25.9-0.1 51.8-0.1 77.6-0.1s51.8-0.1 77.6-0.1s51.8-0.1 77.6-0.1"/>
<path d="M423.8 56.5c25.9 0.2 51.8 0.4 77.6 0.6s51.8 0.4 77.6 0.6s51.8 0.3 77.6 0.5"/>
<path d="M423.8 54.9c25.9-0.2 51.8-0.3 77.6-0.4s51.8-0.2 77.6-0.3s51.8-0.1 77.6-0.2"/>
<path d="M423.8 60.3c25.9-0.5 51.8-0.8 77.6-1.1s51.8-0.5 77.6-0.7s51.8-0.4 77.6-0.5"/>
<path d="M423.8 56.8c25.9-0.0 51.8-0.1 77.6-0.1s51.8-0.1 77.6-0.1s51.8-0.1 77.6-0.1"/>
<path d="M423.8 55.4c25.9-0.1 51.8-0.1 77.6-0.2s51.8-0.1 77.6-0.1s51.8-0.1 77.6-0.1"/>
<path d="M423.8 58.1c25.9-0.0 51.8-0.0 77.6-0.0s51.8-0.0 77.6-0.0s51.8-0.0 77.6-0.0"/>
<path d="M423.8 56.8c25.9-0.1 51.8-0.2 77.6-0.3s51.8-0.2 77.6-0.2s51.8-0.1 77.6-0.2"/>
<path d="M423.8 56.1c25.9-0.0 51.8-0.1 77.6-0.1s51.8-0.0 77.6-0.1s51.8-0.0 77.6-0.1"/>
<path d="M423.8 56.9c25.9 0.0 51.8 0.0 77.6 0.0s51.8 0.0 77.6 0.0s51.8 0.0 77.6 0.0"/>
<path d="M423.8 56.1c25.9-0.1 51.8-0.2 77.6-0.3s51.8-0.2 77.6-0.2s51.8-0.1 77.6-0.2"/>
<path d="M423.8 57.6c25.9-0.2 51.8-0.4 77.6-0.6s51.8-0.3 77.6-0.4s51.8-0.2 77.6-0.3"/>
<path d="M423.8 62.8c25.9-0.6 51.8-1.0 77.6-1.4s51.8-0.7 77.6-1.0s51.8-0.5 77.6-0.7"/>
<path d="M423.8 53.5c25.9 0.0 51.8 0.1 77.6 0.1s51.8 0.1 77.6 0.1s51.8 0.0 77.6 0.1"/>
<path d="M423.8 61.1c25.9 0.2 51.8 0.4 77.6 0.5s51.8 0.3 77.6 0.4s51.8 0.2 77.6 0.3"/>
<path d="M423.8 56.0c25.9-0.1 51.8-0.2 77.6-0.3s51.8-0.2 77.6-0.2s51.8-0.1 77.6-0.2"/>
<path d="M423.8 56.0c25.9-0.2 51.8-0.4 77.6-0.5s51.8-0.2 77.6-0.3s51.8-0.2 77.6-0.2"/>
<path d="M423.8 57.9c25.9-0.2 51.8-0.4 77.6-0.5s51.8-0.3 77.6-0.4s51.8-0.2 77.6-0.3"/>
<path d="M423.8 59.9c25.9-0.5 51.8-0.8 77.6-1.1s51.8-0.5 77.6-0.7s51.8-0.4 77.6-0.5"/>
<path d="M423.8 60.9c25.9-0.1 51.8-0.2 77.6-0.3s51.8-0.2 77.6-0.2s51.8-0.1 77.6-0.2"/>
<path d="M423.8 59.8c25.9-0.7 51.8-1.2 77.6-1.6s51.8-0.7 77.6-1.0s51.8-0.5 77.6-0.7"/>
<path d="M423.8 58.8c25.9 0.0 51.8 0.1 77.6 0.1s51.8 0.1 77.6 0.1s51.8 0.1 77.6 0.1"/>
<path d="M423.8 61.4c25.9-0.6 51.8-1.0 77.6-1.4s51.8-0.7 77.6-0.9s51.8-0.5 77.6-0.7"/>
<path d="M423.8 60.9c25.9-0.7 51.8-1.1 77.6-1.5s51.8-0.7 77.6-1.0s51.8-0.5 77.6-0.7"/>
<path d="M423.8 68.2c25.9-1.1 51.8-1.8 77.6-2.5s51.8-1.2 77.6-1.7s51.8-0.9 77.6-1.2"/>
<path d="M423.8 54.7c25.9 0.0 51.8 0.1 77.6 0.1s51.8 0.1 77.6 0.1s51.8 0.1 77.6 0.1"/>
<path d="M423.8 59.3c25.9-0.5 51.8-0.9 77.6-1.2s51.8-0.6 77.6-0.8s51.8-0.4 77.6-0.6"/>
<path d="M423.8 59.2c25.9-0.5 51.8-0.8 77.6-1.1s51.8-0.5 77.6-0.7s51.8-0.4 77.6-0.5"/>
<path d="M423.8 53.8c25.9-0.1 51.8-0.1 77.6-0.2s51.8-0.1 77.6-0.1s51.8-0.1 77.6-0.1"/>
<path d="M423.8 58.0c25.9-0.0 51.8-0.0 77.6-0.0s51.8-0.0 77.6-0.0s51.8-0.0 77.6-0.0"/>
<path d="M423.8 56.2c25.9-0.1 51.8-0.2 77.6-0.2s51.8-0.1 77.6-0.2s51.8-0.1 77.6-0.1"/>
<path d="M423.8 58.5c25.9-0.2 51.8-0.3 77.6-0.4s51.8-0.2 77.6-0.3s51.8-0.2 77.6-0.2"/>
<path d="M423.8 55.5c25.9 0.0 51.8 0.0 77.6 0.1s51.8 0.0 77.6 0.0s51.8 0.0 77.6 0.0"/>
<path d="M423.8 59.0c25.9 0.4 51.8 0.7 77.6 1.0s51.8 0.6 77.6 0.9s51.8 0.5 77.6 0.8"/>
<path d="M423.8 55.3c25.9-0.1 51.8-0.2 77.6-0.2s51.8-0.1 77.6-0.2s51.8-0.1 77.6-0.1"/>
<path d="M423.8 54.7c25.9-0.1 51.8-0.1 77.6-0.2s51.8-0.1 77.6-0.1s51.8-0.1 77.6-0.1"/>
<path d="M423.8 61.2c25.9-0.4 51.8-0.7 77.6-1.0s51.8-0.5 77.6-0.7s51.8-0.4 77.6-0.5"/>
<path d="M423.8 57.0c25.9 0.1 51.8 0.1 77.6 0.2s51.8 0.1 77.6 0.1s51.8 0.1 77.6 0.1"/>
<path d="M423.8 64.5c25.9-1.1 51.8-1.9 77.6-2.5s51.8-1.2 77.6-1.6s51.8-0.8 77.6-1.1"/>
<path d="M423.8 57.6c25.9-0.2 51.8-0.4 77.6-0.6s51.8-0.3 77.6-0.4s51.8-0.2 77.6-0.3"/>
<path d="M423.8 58.1c25.9-0.0 51.8-0.1 77.6-0.1s51.8-0.0 77.6-0.1s51.8-0.0 77.6-0.1"/>
<path d="M423.8 55.7c25.9-0.1 51.8-0.2 77.6-0.2s51.8-0.1 77.6-0.2s51.8-0.1 77.6-0.1"/>
<path d="M423.8 60.2c25.9-0.2 51.8-0.4 77.6-0.5s51.8-0.3 77.6-0.4s51.8-0.2 77.6-0.3"/>
<path d="M423.8 61.2c25.9-0.3 51.8-0.6 77.6-0.8s51.8-0.4 77.6-0.6s51.8-0.3 77.6-0.4"/>
<path d="M423.8 54.9c25.9-0.0 51.8-0.0 77.6-0.0s51.8-0.0 77.6-0.0s51.8-0.0 77.6-0.0"/>
<path d="M423.8 54.5c25.9-0.0 51.8-0.0 77.6-0.0s51.8-0.0 77.6-0.0s51.8-0.0 77.6-0.0"/>
<path d="M423.8 56.9c25.9-0.0 51.8-0.0 77.6-0.0s51.8-0.0 77.6-0.0s51.8-0.0 77.6-0.0"/>
<path d="M423.8 58.9c25.9-0.2 51.8-0.4 77.6-0.5s51.8-0.3 77.6-0.4s51.8-0.2 77.6-0.3"/>
<path d="M423.8 58.4c25.9-0.0 51.8-0.1 77.6-0.1s51.8-0.0 77.6-0.1s51.8-0.0 77.6-0.1"/>
<path d="M423.8 58.9c25.9-0.0 51.8-0.0 77.6-0.0s51.8-0.0 77.6-0.0s51.8-0.0 77.6-0.0"/>
<path d="M423.8 62.9c25.9-0.2 51.8-0.4 77.6-0.5s51.8-0.3 77.6-0.4s51.8-0.2 77.6-0.3"/>
<path d="M423.8 58.0c25.9-0.4 51.8-0.6 77.6-0.8s51.8-0.4 77.6-0.6s51.8-0.3 77.6-0.4"/>
<path d="M423.8 59.1c25.9-0.8 51.8-1.3 77.6-1.8s51.8-0.8 77.6-1.0s51.8-0.5 77.6-0.7"/>
<path d="M423.8 56.8c25.9-0.1 51.8-0.1 77.6-0.2s51.8-0.1 77.6-0.1s51.8-0.1 77.6-0.1"/>
<path d="M423.8 53.9c25.9 0.0 51.8 0.0 77.6 0.0s51.8 0.0 77.6 0.0s51.8 0.0 77.6 0.0"/>
<path d="M423.8 55.0c25.9 0.0 51.8 0.0 77.6 0.0s51.8 0.0 77.6 0.0s51.8 0.0 77.6 0.0"/>
<path d="M423.8 55.5c25.9 0.1 51.8 0.2 77.6 0.3s51.8 0.2 77.6 0.3s51.8 0.2 77.6 0.2"/>
<path d="M423.8 55.7c25.9-0.1 51.8-0.2 77.6-0.2s51.8-0.1 77.6-0.2s51.8-0.1 77.6-0.1"/>
<path d="M423.8 64.7c25.9-1.1 51.8-1.8 77.6-2.5s51.8-1.1 77.6-1.6s51.8-0.8 77.6-1.1"/>
<path d="M423.8 56.1c25.9-0.1 51.8-0.2 77.6-0.3s51.8-0.2 77.6-0.2s51.8-0.1 77.6-0.2"/>
<path d="M423.8 60.3c25.9-0.2 51.8-0.4 77.6-0.6s51.8-0.3 77.6-0.4s51.8-0.2 77.6-0.3"/>
<path d="M423.8 59.7c25.9-0.4 51.8-0.7 77.6-1.0s51.8-0.5 77.6-0.7s51.8-0.3 77.6-0.5"/>
<path d="M423.8 55.5c25.9-0.0 51.8-0.0 77.6-0.1s51.8-0.0 77.6-0.0s51.8-0.0 77.6-0.0"/>
<path d="M423.8 58.9c25.9-0.1 51.8-0.1 77.6-0.2s51.8-0.1 77.6-0.1s51.8-0.1 77.6-0.1"/>
<path d="M423.8 61.4c25.9-0.1 51.8-0.2 77.6-0.2s51.8-0.1 77.6-0.2s51.8-0.1 77.6-0.1"/>
<path d="M423.8 59.4c25.9-0.4 51.8-0.7 77.6-0.9s51.8-0.5 77.6-0.6s51.8-0.3 77.6-0.5"/>
<path d="M423.8 54.6c25.9-0.0 51.8-0.0 77.6-0.0s51.8-0.0 77.6-0.0s51.8-0.0 77.6-0.0"/>
<path d="M423.8 56.2c25.9-0.1 51.8-0.1 77.6-0.1s51.8-0.1 77.6-0.1s51.8-0.1 77.6-0.1"/>
<path d="M423.8 54.0c25.9-0.1 51.8-0.1 77.6-0.1s51.8-0.1 77.6-0.1s51.8-0.0 77.6-0.1"/>
<path d="M423.8 55.9c25.9 0.0 51.8 0.0 77.6 0.0s51.8 0.0 77.6 0.0s51.8 0.0 77.6 0.0"/>
<path d="M423.8 60.9c25.9-0.3 51.8-0.6 77.6-0.8s51.8-0.4 77.6-0.5s51.8-0.3 77.6-0.4"/>
<path d="M423.8 59.8c25.9-0.3 51.8-0.6 77.6-0.8s51.8-0.4 77.6-0.5s51.8-0.3 77.6-0.4"/>
<path d="M423.8 65.1c25.9-0.7 51.8-1.2 77.6-1.6s51.8-0.8 77.6-1.1s51.8-0.6 77.6-0.8"/>
<path d="M423.8 64.5c25.9-1.1 51.8-1.8 77.6-2.5s51.8-1.1 77.6-1.6s51.8-0.8 77.6-1.1"/>
<path d="M423.8 60.7c25.9-0.6 51.8-1.0 77.6-1.3s51.8-0.6 77.6-0.9s51.8-0.5 77.6-0.6"/>
<path d="M423.8 63.7c25.9-0.5 51.8-0.9 77.6-1.2s51.8-0.6 77.6-0.9s51.8-0.5 77.6-0.6"/>
<path d="M423.8 60.0c25.9-0.1 51.8-0.2 77.6-0.3s51.8-0.1 77.6-0.2s51.8-0.1 77.6-0.2"/>
<path d="M423.8 57.8c25.9-0.1 51.8-0.2 77.6-0.3s51.8-0.1 77.6-0.2s51.8-0.1 77.6-0.2"/>
<path d="M423.8 58.2c25.9-0.3 51.8-0.6 77.6-0.8s51.8-0.4 77.6-0.5s51.8-0.3 77.6-0.4"/>
<path d="M423.8 56.3c25.9-0.1 51.8-0.2 77.6-0.3s51.8-0.1 77.6-0.2s51.8-0.1 77.6-0.1"/>
<path d="M423.8 61.0c25.9-0.0 51.8-0.0 77.6-0.0s51.8-0.0 77.6-0.0s51.8-0.0 77.6-0.0"/>
<path d="M423.8 56.4c25.9 0.2 51.8 0.3 77.6 0.5s51.8 0.3 77.6 0.4s51.8 0.2 77.6 0.4"/>
<path d="M423.8 55.9c25.9-0.1 51.8-0.1 77.6-0.2s51.8-0.1 77.6-0.1s51.8-0.1 77.6-0.1"/>
<path d="M423.8 60.3c25.9-0.5 51.8-0.9 77.6-1.2s51.8-0.6 77.6-0.8s51.8-0.4 77.6-0.6"/>
<path d="M423.8 56.5c25.9-0.2 51.8-0.3 77.6-0.4s51.8-0.2 77.6-0.3s51.8-0.1 77.6-0.2"/>
<path d="M423.8 61.8c25.9-0.4 51.8-0.7 77.6-0.9s51.8-0.5 77.6-0.7s51.8-0.4 77.6-0.5"/>
<path d="M423.8 56.3c25.9 0.0 51.8 0.0 77.6 0.0s51.8 0.0 77.6 0.0s51.8 0.0 77.6 0.0"/>
<path d="M423.8 55.9c25.9-0.2 51.8-0.3 77.6-0.4s51.8-0.2 77.6-0.3s51.8-0.2 77.6-0.2"/>
<path d="M423.8 65.8c25.9-0.5 51.8-0.8 77.6-1.1s51.8-0.6 77.6-0.8s51.8-0.4 77.6-0.6"/>
<path d="M423.8 64.8c25.9-0.9 51.8-1.5 77.6-2.0s51.8-1.0 77.6-1.3s51.8-0.7 77.6-1.0"/>
<path d="M423.8 55.2c25.9 0.0 51.8 0.0 77.6 0.1s51.8 0.0 77.6 0.0s51.8 0.0 77.6 0.0"/>
<path d="M423.8 61.0c25.9-0.3 51.8-0.5 77.6-0.7s51.8-0.4 77.6-0.5s51.8-0.3 77.6-0.4"/>
<path d="M423.8 61.3c25.9-0.7 51.8-1.3 77.6-1.7s51.8-0.8 77.6-1.1s51.8-0.5 77.6-0.8"/>
<path d="M423.8 55.9c25.9-0.1 51.8-0.1 77.6-0.2s51.8-0.1 77.6-0.1s51.8-0.1 77.6-0.1"/>
<path d="M423.8 55.1c25.9 0.1 51.8 0.2 77.6 0.3s51.8 0.2 77.6 0.3s51.8 0.2 77.6 0.2"/>
<path d="M423.8 58.2c25.9-0.4 51.8-0.6 77.6-0.9s51.8-0.4 77.6-0.6s51.8-0.3 77.6-0.4"/>
<path d="M423.8 57.8c25.9-0.0 51.8-0.1 77.6-0.1s51.8-0.0 77.6-0.1s51.8-0.0 77.6-0.0"/>
<path d="M423.8 58.7c25.9-0.6 51.8-1.1 77.6-1.4s51.8-0.6 77.6-0.9s51.8-0.4 77.6-0.6"/>
<path d="M423.8 56.5c25.9 0.0 51.8 0.1 77.6 0.1s51.8 0.1 77.6 0.1s51.8 0.0 77.6 0.1"/>
<path d="M423.8 54.0c25.9 0.1 51.8 0.1 77.6 0.2s51.8 0.1 77.6 0.1s51.8 0.1 77.6 0.1"/>
<path d="M423.8 56.2c25.9-0.0 51.8-0.1 77.6-0.1s51.8-0.1 77.6-0.1s51.8-0.0 77.6-0.1"/>
<path d="M423.8 55.2c25.9-0.0 51.8-0.0 77.6-0.0s51.8-0.0 77.6-0.0s51.8-0.0 77.6-0.0"/>
<path d="M423.8 55.2c25.9-0.1 51.8-0.2 77.6-0.3s51.8-0.1 77.6-0.2s51.8-0.1 77.6-0.2"/>
<path d="M423.8 60.3c25.9 0.3 51.8 0.6 77.6 0.8s51.8 0.5 77.6 0.7s51.8 0.4 77.6 0.6"/>
<path d="M423.8 61.1c25.9-0.7 51.8-1.1 77.6-1.5s51.8-0.7 77.6-1.0s51.8-0.5 77.6-0.7"/>
<path d="M423.8 57.9c25.9-0.2 51.8-0.3 77.6-0.5s51.8-0.2 77.6-0.3s51.8-0.2 77.6-0.2"/>
<path d="M423.8 59.9c25.9-0.4 51.8-0.7 77.6-1.0s51.8-0.5 77.6-0.7s51.8-0.4 77.6-0.5"/>
<path d="M423.8 57.3c25.9-0.2 51.8-0.4 77.6-0.5s51.8-0.2 77.6-0.3s51.8-0.2 77.6-0.3"/>
<path d="M423.8 63.6c25.9-0.8 51.8-1.4 77.6-1.9s51.8-0.9 77.6-1.2s51.8-0.6 77.6-0.9"/>
<path d="M423.8 54.3c25.9 0.0 51.8 0.1 77.6 0.1s51.8 0.0 77.6 0.1s51.8 0.0 77.6 0.1"/>
<path d="M423.8 54.1c25.9-0.1 51.8-0.2 77.6-0.2s51.8-0.1 77.6-0.2s51.8-0.1 77.6-0.1"/>
<path d="M423.8 57.2c25.9 0.2 51.8 0.3 77.6 0.5s51.8 0.3 77.6 0.4s51.8 0.2 77.6 0.3"/>
<path d="M423.8 56.8c25.9-0.2 51.8-0.4 77.6-0.5s51.8-0.3 77.6-0.4s51.8-0.2 77.6-0.3"/>
<path d="M423.8 57.5c25.9 0.2 51.8 0.3 77.6 0.5s51.8 0.3 77.6 0.4s51.8 0.2 77.6 0.3"/>
<path d="M423.8 55.0c25.9-0.0 51.8-0.0 77.6-0.1s51.8-0.0 77.6-0.1s51.8-0.0 77.6-0.0"/>
<path d="M423.8 65.2c25.9-1.6 51.8-2.7 77.6-3.6s51.8-1.5 77.6-2.1s51.8-1.0 77.6-1.3"/>
<path d="M423.8 54.4c25.9-0.1 51.8-0.2 77.6-0.3s51.8-0.2 77.6-0.2s51.8-0.1 77.6-0.2"/>
<path d="M423.8 60.5c25.9-0.4 51.8-0.8 77.6-1.0s51.8-0.5 77.6-0.7s51.8-0.4 77.6-0.5"/>
<path d="M423.8 67.5c25.9-0.5 51.8-0.9 77.6-1.2s51.8-0.6 77.6-0.9s51.8-0.5 77.6-0.7"/>
<path d="M423.8 58.5c25.9 0.1 51.8 0.2 77.6 0.2s51.8 0.1 77.6 0.2s51.8 0.1 77.6 0.2"/>
<path d="M423.8 64.8c25.9-0.6 51.8-1.0 77.6-1.4s51.8-0.7 77.6-1.0s51.8-0.5 77.6-0.7"/>
<path d="M423.8 58.1c25.9-0.2 51.8-0.4 77.6-0.5s51.8-0.3 77.6-0.4s51.8-0.2 77.6-0.3"/>
<path d="M423.8 55.3c25.9-0.0 51.8-0.0 77.6-0.0s51.8-0.0 77.6-0.0s51.8-0.0 77.6-0.0"/>
<path d="M423.8 59.1c25.9 0.2 51.8 0.4 77.6 0.6s51.8 0.3 77.6 0.5s51.8 0.3 77.6 0.4"/>
<path d="M423.8 60.3c25.9-0.4 51.8-0.8 77.6-1.1s51.8-0.5 77.6-0.7s51.8-0.4 77.6-0.5"/>
<path d="M423.8 59.5c25.9-0.4 51.8-0.7 77.6-0.9s51.8-0.4 77.6-0.6s51.8-0.3 77.6-0.5"/>
<path d="M423.8 61.0c25.9-0.1 51.8-0.2 77.6-0.3s51.8-0.2 77.6-0.2s51.8-0.1 77.6-0.2"/>
<path d="M423.8 58.6c25.9 0.1 51.8 0.2 77.6 0.2s51.8 0.1 77.6 0.2s51.8 0.1 77.6 0.1"/>
<path d="M423.8 54.7c25.9-0.1 51.8-0.3 77.6-0.3s51.8-0.2 77.6-0.2s51.8-0.1 77.6-0.2"/>
<path d="M423.8 59.2c25.9-0.0 51.8-0.0 77.6-0.1s51.8-0.0 77.6-0.0s51.8-0.0 77.6-0.0"/>
<path d="M423.8 56.8c25.9 0.1 51.8 0.2 77.6 0.2s51.8 0.1 77.6 0.2s51.8 0.1 77.6 0.2"/>
<path d="M423.8 55.8c25.9 0.1 51.8 0.1 77.6 0.1s51.8 0.1 77.6 0.1s51.8 0.1 77.6 0.1"/>
<path d="M423.8 57.9c25.9 0.0 51.8 0.1 77.6 0.1s51.8 0.0 77.6 0.1s51.8 0.0 77.6 0.1"/>
<path d="M423.8 57.8c25.9 0.1 51.8 0.2 77.6 0.2s51.8 0.1 77.6 0.2s51.8 0.1 77.6 0.2"/>
<path d="M423.8 61.5c25.9 0.0 51.8 0.1 77.6 0.1s51.8 0.0 77.6 0.1s51.8 0.0 77.6 0.1"/>
<path d="M423.8 59.7c25.9-0.1 51.8-0.3 77.6-0.4s51.8-0.2 77.6-0.3s51.8-0.1 77.6-0.2"/>
<path d="M423.8 60.1c25.9-0.7 51.8-1.1 77.6-1.5s51.8-0.7 77.6-1.0s51.8-0.5 77.6-0.7"/>
<path d="M423.8 55.8c25.9-0.1 51.8-0.1 77.6-0.2s51.8-0.1 77.6-0.1s51.8-0.1 77.6-0.1"/>
<path d="M423.8 55.6c25.9-0.0 51.8-0.0 77.6-0.1s51.8-0.0 77.6-0.0s51.8-0.0 77.6-0.0"/>
<path d="M423.8 55.1c25.9-0.1 51.8-0.3 77.6-0.3s51.8-0.2 77.6-0.2s51.8-0.1 77.6-0.2"/>
<path d="M423.8 64.3c25.9-0.7 51.8-1.2 77.6-1.6s51.8-0.8 77.6-1.1s51.8-0.6 77.6-0.8"/>
<path d="M423.8 54.4c25.9 0.1 51.8 0.3 77.6 0.4s51.8 0.2 77.6 0.3s51.8 0.2 77.6 0.3"/>
<path d="M423.8 59.6c25.9-0.1 51.8-0.2 77.6-0.3s51.8-0.1 77.6-0.2s51.8-0.1 77.6-0.1"/>
<path d="M423.8 62.7c25.9 0.1 51.8 0.1 77.6 0.2s51.8 0.1 77.6 0.1s51.8 0.1 77.6 0.1"/>
<path d="M423.8 62.0c25.9-0.5 51.8-0.8 77.6-1.1s51.8-0.5 77.6-0.8s51.8-0.4 77.6-0.6"/>
<path d="M423.8 60.9c25.9-1.0 51.8-1.7 77.6-2.3s51.8-1.0 77.6-1.3s51.8-0.6 77.6-0.9"/>
<path d="M423.8 61.2c25.9-0.6 51.8-1.1 77.6-1.5s51.8-0.7 77.6-1.0s51.8-0.5 77.6-0.7"/>
<path d="M423.8 58.3c25.9-0.2 51.8-0.4 77.6-0.6s51.8-0.3 77.6-0.4s51.8-0.2 77.6-0.3"/>
<path d="M423.8 58.7c25.9 0.2 51.8 0.4 77.6 0.6s51.8 0.4 77.6 0.5s51.8 0.3 77.6 0.4"/>
<path d="M423.8 61.8c25.9-0.5 51.8-0.9 77.6-1.3s51.8-0.6 77.6-0.9s51.8-0.4 77.6-0.6"/>
<path d="M423.8 55.0c25.9-0.1 51.8-0.2 77.6-0.3s51.8-0.2 77.6-0.2s51.8-0.1 77.6-0.2"/>
<path d="M423.8 56.0c25.9-0.0 51.8-0.0 77.6-0.0s51.8-0.0 77.6-0.0s51.8-0.0 77.6-0.0"/>
<path d="M423.8 55.5c25.9-0.2 51.8-0.4 77.6-0.6s51.8-0.3 77.6-0.4s51.8-0.2 77.6-0.3"/>
<path d="M423.8 59.6c25.9-0.2 51.8-0.4 77.6-0.5s51.8-0.3 77.6-0.4s51.8-0.2 77.6-0.3"/>
<path d="M423.8 64.3c25.9-1.0 51.8-1.6 77.6-2.2s51.8-1.0 77.6-1.4s51.8-0.7 77.6-1.0"/>
<path d="M423.8 56.9c25.9-0.1 51.8-0.2 77.6-0.3s51.8-0.2 77.6-0.2s51.8-0.1 77.6-0.2"/>
<path d="M423.8 57.4c25.9-0.2 51.8-0.4 77.6-0.6s51.8-0.3 77.6-0.4s51.8-0.2 77.6-0.3"/>
<path d="M423.8 57.7c25.9 0.1 51.8 0.1 77.6 0.2s51.8 0.1 77.6 0.1s51.8 0.1 77.6 0.1"/>
<path d="M423.8 59.3c25.9 0.2 51.8 0.4 77.6 0.6s51.8 0.3 77.6 0.5s51.8 0.3 77.6 0.4"/>
<path d="M423.8 59.5c25.9-0.8 51.8-1.3 77.6-1.7s51.8-0.8 77.6-1.0s51.8-0.5 77.6-0.7"/>
<path d="M423.8 64.4c25.9-0.4 51.8-0.7 77.6-1.0s51.8-0.5 77.6-0.7s51.8-0.4 77.6-0.6"/>
<path d="M423.8 56.1c25.9 0.0 51.8 0.0 77.6 0.0s51.8 0.0 77.6 0.0s51.8 0.0 77.6 0.0"/>
<path d="M423.8 56.5c25.9 0.0 51.8 0.1 77.6 0.1s51.8 0.0 77.6 0.1s51.8 0.0 77.6 0.1"/>
<path d="M423.8 54.9c25.9-0.0 51.8-0.0 77.6-0.1s51.8-0.0 77.6-0.0s51.8-0.0 77.6-0.0"/>
<path d="M423.8 58.8c25.9-0.3 51.8-0.6 77.6-0.8s51.8-0.4 77.6-0.6s51.8-0.3 77.6-0.4"/>
<path d="M423.8 57.2c25.9 0.2 51.8 0.3 77.6 0.4s51.8 0.2 77.6 0.3s51.8 0.2 77.6 0.3"/>
<path d="M423.8 60.9c25.9-0.5 51.8-0.9 77.6-1.2s51.8-0.6 77.6-0.8s51.8-0.4 77.6-0.6"/>
<path d="M423.8 58.7c25.9-0.2 51.8-0.4 77.6-0.6s51.8-0.3 77.6-0.4s51.8-0.2 77.6-0.3"/>
<path d="M423.8 61.8c25.9-0.3 51.8-0.6 77.6-0.8s51.8-0.4 77.6-0.6s51.8-0.3 77.6-0.4"/>
<path d="M423.8 56.2c25.9-0.1 51.8-0.2 77.6-0.3s51.8-0.2 77.6-0.2s51.8-0.1 77.6-0.2"/>
<path d="M423.8 54.1c25.9-0.0 51.8-0.1 77.6-0.1s51.8-0.1 77.6-0.1s51.8-0.0 77.6-0.1"/>
<path d="M423.8 58.8c25.9 0.2 51.8 0.3 77.6 0.5s51.8 0.3 77.6 0.4s51.8 0.2 77.6 0.3"/>
<path d="M423.8 55.3c25.9-0.1 51.8-0.2 77.6-0.2s51.8-0.1 77.6-0.2s51.8-0.1 77.6-0.1"/>
<path d="M423.8 55.9c25.9-0.2 51.8-0.3 77.6-0.4s51.8-0.2 77.6-0.3s51.8-0.1 77.6-0.2"/>
<path d="M423.8 55.3c25.9-0.2 51.8-0.4 77.6-0.5s51.8-0.2 77.6-0.3s51.8-0.2 77.6-0.2"/>
<path d="M423.8 59.6c25.9-0.3 51.8-0.5 77.6-0.7s51.8-0.4 77.6-0.5s51.8-0.3 77.6-0.4"/>
<path d="M423.8 54.7c25.9 0.0 51.8 0.1 77.6 0.1s51.8 0.0 77.6 0.1s51.8 0.0 77.6 0.1"/>
<path d="M423.8 55.6c25.9-0.2 51.8-0.4 77.6-0.6s51.8-0.3 77.6-0.4s51.8-0.2 77.6-0.3"/>
<path d="M423.8 55.5c25.9-0.1 51.8-0.1 77.6-0.2s51.8-0.1 77.6-0.1s51.8-0.1 77.6-0.1"/>
<path d="M423.8 56.2c25.9 0.0 51.8 0.1 77.6 0.1s51.8 0.0 77.6 0.1s51.8 0.0 77.6 0.1"/>
<path d="M423.8 57.4c25.9-0.0 51.8-0.1 77.6-0.1s51.8-0.1 77.6-0.1s51.8-0.1 77.6-0.1"/>
<path d="M423.8 57.4c25.9-0.1 51.8-0.1 77.6-0.2s51.8-0.1 77.6-0.1s51.8-0.1 77.6-0.1"/>
<path d="M423.8 58.7c25.9-0.5 51.8-0.8 77.6-1.1s51.8-0.5 77.6-0.7s51.8-0.4 77.6-0.5"/>
<path d="M423.8 64.5c25.9-0.7 51.8-1.3 77.6-1.8s51.8-0.9 77.6-1.2s51.8-0.6 77.6-0.9"/>
<path d="M423.8 60.8c25.9 0.4 51.8 0.7 77.6 1.0s51.8 0.6 77.6 0.9s51.8 0.5 77.6 0.8"/>
<path d="M423.8 58.5c25.9-0.2 51.8-0.3 77.6-0.5s51.8-0.2 77.6-0.3s51.8-0.2 77.6-0.3"/>
<path d="M423.8 55.5c25.9 0.1 51.8 0.2 77.6 0.2s51.8 0.1 77.6 0.2s51.8 0.1 77.6 0.2"/>
<path d="M423.8 58.5c25.9-0.2 51.8-0.4 77.6-0.5s51.8-0.3 77.6-0.4s51.8-0.2 77.6-0.3"/>
<path d="M423.8 55.1c25.9-0.1 51.8-0.1 77.6-0.2s51.8-0.1 77.6-0.1s51.8-0.1 77.6-0.1"/>
<path d="M423.8 55.8c25.9 0.0 51.8 0.0 77.6 0.0s51.8 0.0 77.6 0.0s51.8 0.0 77.6 0.0"/>
<path d="M423.8 58.1c25.9-0.1 51.8-0.2 77.6-0.2s51.8-0.1 77.6-0.2s51.8-0.1 77.6-0.1"/>
<path d="M423.8 55.5c25.9 0.0 51.8 0.0 77.6 0.0s51.8 0.0 77.6 0.0s51.8 0.0 77.6 0.0"/>
<path d="M423.8 61.7c25.9-0.5 51.8-0.8 77.6-1.1s51.8-0.6 77.6-0.8s51.8-0.4 77.6-0.6"/>
<path d="M423.8 54.5c25.9-0.1 51.8-0.2 77.6-0.2s51.8-0.1 77.6-0.2s51.8-0.1 77.6-0.1"/>
<path d="M423.8 56.9c25.9-0.1 51.8-0.2 77.6-0.2s51.8-0.1 77.6-0.2s51.8-0.1 77.6-0.1"/>
<path d="M423.8 55.8c25.9-0.2 51.8-0.3 77.6-0.4s51.8-0.2 77.6-0.3s51.8-0.2 77.6-0.2"/>
<path d="M423.8 54.6c25.9-0.1 51.8-0.2 77.6-0.2s51.8-0.1 77.6-0.2s51.8-0.1 77.6-0.1"/>
<path d="M423.8 60.1c25.9-0.1 51.8-0.1 77.6-0.2s51.8-0.1 77.6-0.2s51.8-0.1 77.6-0.1"/>
<path d="M423.8 59.1c25.9 0.1 51.8 0.2 77.6 0.2s51.8 0.1 77.6 0.2s51.8 0.1 77.6 0.2"/>
<path d="M423.8 55.6c25.9-0.2 51.8-0.3 77.6-0.5s51.8-0.2 77.6-0.3s51.8-0.2 77.6-0.2"/>
<path d="M423.8 66.4c25.9-1.3 51.8-2.2 77.6-2.9s51.8-1.3 77.6-1.8s51.8-0.9 77.6-1.3"/>
<path d="M423.8 56.5c25.9 0.0 51.8 0.0 77.6 0.0s51.8 0.0 77.6 0.0s51.8 0.0 77.6 0.0"/>
<path d="M423.8 57.0c25.9-0.1 51.8-0.2 77.6-0.3s51.8-0.2 77.6-0.2s51.8-0.1 77.6-0.2"/>
<path d="M423.8 57.7c25.9 0.2 51.8 0.4 77.6 0.6s51.8 0.3 77.6 0.5s51.8 0.3 77.6 0.4"/>
<path d="M423.8 58.5c25.9-0.3 51.8-0.4 77.6-0.6s51.8-0.3 77.6-0.4s51.8-0.2 77.6-0.3"/>
<path d="M423.8 70.9c25.9-0.9 51.8-1.5 77.6-2.1s51.8-1.1 77.6-1.5s51.8-0.8 77.6-1.1"/>
<path d="M423.8 56.0c25.9-0.1 51.8-0.1 77.6-0.1s51.8-0.1 77.6-0.1s51.8-0.1 77.6-0.1"/>
<path d="M423.8 57.5c25.9-0.1 51.8-0.2 77.6-0.3s51.8-0.1 77.6-0.2s51.8-0.1 77.6-0.2"/>
<path d="M423.8 60.0c25.9-0.1 51.8-0.2 77.6-0.3s51.8-0.2 77.6-0.3s51.8-0.1 77.6-0.2"/>
<path d="M423.8 54.3c25.9 0.0 51.8 0.1 77.6 0.1s51.8 0.1 77.6 0.1s51.8 0.1 77.6 0.1"/>
<path d="M423.8 57.7c25.9-0.2 51.8-0.4 77.6-0.5s51.8-0.2 77.6-0.3s51.8-0.2 77.6-0.3"/>
<path d="M423.8 59.5c25.9-0.1 51.8-0.2 77.6-0.3s51.8-0.1 77.6-0.2s51.8-0.1 77.6-0.2"/>
<path d="M423.8 61.1c25.9-0.0 51.8-0.0 77.6-0.0s51.8-0.0 77.6-0.0s51.8-0.0 77.6-0.0"/>
<path d="M423.8 58.6c25.9-0.3 51.8-0.5 77.6-0.6s51.8-0.3 77.6-0.4s51.8-0.2 77.6-0.3"/>
<path d="M423.8 68.2c25.9-2.1 51.8-3.5 77.6-4.6s51.8-1.9 77.6-2.6s51.8-1.2 77.6-1.7"/>
<path d="M423.8 60.0c25.9-0.3 51.8-0.5 77.6-0.7s51.8-0.3 77.6-0.5s51.8-0.2 77.6-0.4"/>
<path d="M423.8 58.3c25.9-0.1 51.8-0.2 77.6-0.2s51.8-0.1 77.6-0.2s51.8-0.1 77.6-0.1"/>
<path d="M423.8 54.8c25.9-0.0 51.8-0.1 77.6-0.1s51.8-0.0 77.6-0.1s51.8-0.0 77.6-0.1"/>
<path d="M423.8 55.7c25.9-0.2 51.8-0.4 77.6-0.6s51.8-0.3 77.6-0.4s51.8-0.2 77.6-0.3"/>
<path d="M423.8 63.5c25.9-0.7 51.8-1.3 77.6-1.7s51.8-0.8 77.6-1.1s51.8-0.6 77.6-0.8"/>
<path d="M423.8 65.8c25.9-1.7 51.8-2.8 77.6-3.7s51.8-1.6 77.6-2.1s51.8-1.0 77.6-1.4"/>
<path d="M423.8 58.0c25.9 0.0 51.8 0.0 77.6 0.0s51.8 0.0 77.6 0.0s51.8 0.0 77.6 0.0"/>
<path d="M423.8 62.2c25.9 0.1 51.8 0.3 77.6 0.4s51.8 0.2 77.6 0.3s51.8 0.2 77.6 0.2"/>
<path d="M423.8 58.4c25.9 0.0 51.8 0.1 77.6 0.1s51.8 0.0 77.6 0.1s51.8 0.0 77.6 0.0"/>
<path d="M423.8 60.8c25.9-0.1 51.8-0.1 77.6-0.1s51.8-0.1 77.6-0.1s51.8-0.1 77.6-0.1"/>
<path d="M423.8 61.0c25.9-0.7 51.8-1.2 77.6-1.6s51.8-0.8 77.6-1.0s51.8-0.5 77.6-0.7"/>
<path d="M423.8 62.9c25.9-0.1 51.8-0.2 77.6-0.3s51.8-0.2 77.6-0.2s51.8-0.1 77.6-0.2"/>
<path d="M423.8 58.7c25.9 0.1 51.8 0.3 77.6 0.4s51.8 0.2 77.6 0.3s51.8 0.2 77.6 0.3"/>
<path d="M423.8 60.5c25.9 0.0 51.8 0.0 77.6 0.0s51.8 0.0 77.6 0.0s51.8 0.0 77.6 0.0"/>
<path d="M423.8 56.0c25.9-0.1 51.8-0.2 77.6-0.2s51.8-0.1 77.6-0.2s51.8-0.1 77.6-0.1"/>
<path d="M423.8 60.7c25.9-0.4 51.8-0.8 77.6-1.0s51.8-0.5 77.6-0.7s51.8-0.4 77.6-0.5"/>
<path d="M423.8 57.1c25.9-0.1 51.8-0.2 77.6-0.3s51.8-0.1 77.6-0.2s51.8-0.1 77.6-0.2"/>
<path d="M423.8 56.3c25.9-0.0 51.8-0.0 77.6-0.0s51.8-0.0 77.6-0.0s51.8-0.0 77.6-0.0"/>
<path d="M423.8 56.8c25.9-0.2 51.8-0.4 77.6-0.5s51.8-0.3 77.6-0.4s51.8-0.2 77.6-0.3"/>
<path d="M423.8 57.7c25.9 0.1 51.8 0.1 77.6 0.2s51.8 0.1 77.6 0.1s51.8 0.1 77.6 0.1"/>
<path d="M423.8 54.8c25.9-0.1 51.8-0.2 77.6-0.2s51.8-0.1 77.6-0.1s51.8-0.1 77.6-0.1"/>
<path d="M423.8 53.1c25.9-0.0 51.8-0.0 77.6-0.0s51.8-0.0 77.6-0.0s51.8-0.0 77.6-0.0"/>
<path d="M423.8 55.6c25.9-0.1 51.8-0.1 77.6-0.1s51.8-0.1 77.6-0.1s51.8-0.1 77.6-0.1"/>
<path d="M423.8 58.4c25.9-0.4 51.8-0.6 77.6-0.9s51.8-0.4 77.6-0.6s51.8-0.3 77.6-0.4"/>
<path d="M423.8 60.3c25.9-0.2 51.8-0.4 77.6-0.5s51.8-0.3 77.6-0.4s51.8-0.2 77.6-0.3"/>
<path d="M423.8 57.8c25.9-0.2 51.8-0.3 77.6-0.5s51.8-0.2 77.6-0.3s51.8-0.2 77.6-0.3"/>
<path d="M423.8 57.5c25.9-0.3 51.8-0.6 77.6-0.8s51.8-0.4 77.6-0.5s51.8-0.3 77.6-0.4"/>
<path d="M423.8 56.1c25.9-0.2 51.8-0.3 77.6-0.4s51.8-0.2 77.6-0.3s51.8-0.1 77.6-0.2"/>
<path d="M423.8 57.7c25.9 0.0 51.8 0.1 77.6 0.1s51.8 0.1 77.6 0.1s51.8 0.1 77.6 0.1"/>
<path d="M423.8 59.5c25.9-0.1 51.8-0.2 77.6-0.2s51.8-0.1 77.6-0.2s51.8-0.1 77.6-0.1"/>
<path d="M423.8 56.0c25.9-0.1 51.8-0.1 77.6-0.2s51.8-0.1 77.6-0.1s51.8-0.1 77.6-0.1"/>
<path d="M423.8 63.5c25.9-0.6 51.8-1.0 77.6-1.4s51.8-0.7 77.6-0.9s51.8-0.5 77.6-0.7"/>
<path d="M423.8 59.3c25.9-0.0 51.8-0.0 77.6-0.1s51.8-0.0 77.6-0.0s51.8-0.0 77.6-0.0"/>
<path d="M423.8 59.5c25.9-0.3 51.8-0.6 77.6-0.8s51.8-0.4 77.6-0.6s51.8-0.3 77.6-0.4"/>
<path d="M423.8 64.8c25.9 0.1 51.8 0.2 77.6 0.3s51.8 0.2 77.6 0.2s51.8 0.1 77.6 0.2"/>
<path d="M423.8 57.3c25.9-0.1 51.8-0.2 77.6-0.2s51.8-0.1 77.6-0.2s51.8-0.1 77.6-0.1"/>
<path d="M423.8 59.8c25.9-0.1 51.8-0.2 77.6-0.2s51.8-0.1 77.6-0.2s51.8-0.1 77.6-0.1"/>
<path d="M423.8 54.7c25.9-0.0 51.8-0.1 77.6-0.1s51.8-0.0 77.6-0.1s51.8-0.0 77.6-0.1"/>
<path d="M423.8 56.9c25.9-0.3 51.8-0.5 77.6-0.6s51.8-0.3 77.6-0.4s51.8-0.2 77.6-0.3"/>
<path d="M423.8 60.1c25.9-0.4 51.8-0.6 77.6-0.9s51.8-0.4 77.6-0.6s51.8-0.3 77.6-0.4"/>
<path d="M423.8 58.6c25.9-0.1 51.8-0.1 77.6-0.1s51.8-0.1 77.6-0.1s51.8-0.1 77.6-0.1"/>
<path d="M423.8 63.5c25.9-0.7 51.8-1.2 77.6-1.6s51.8-0.8 77.6-1.1s51.8-0.6 77.6-0.8"/>
<path d="M423.8 58.5c25.9-0.1 51.8-0.1 77.6-0.2s51.8-0.1 77.6-0.1s51.8-0.1 77.6-0.1"/>
<path d="M423.8 65.9c25.9-1.2 51.8-2.1 77.6-2.8s51.8-1.3 77.6-1.8s51.8-0.9 77.6-1.2"/>
<path d="M423.8 56.0c25.9-0.1 51.8-0.2 77.6-0.2s51.8-0.1 77.6-0.2s51.8-0.1 77.6-0.1"/>
<path d="M423.8 58.0c25.9 0.1 51.8 0.2 77.6 0.4s51.8 0.2 77.6 0.3s51.8 0.2 77.6 0.2"/>
<path d="M423.8 57.6c25.9-0.2 51.8-0.4 77.6-0.5s51.8-0.3 77.6-0.4s51.8-0.2 77.6-0.3"/>
<path d="M423.8 65.6c25.9-0.9 51.8-1.6 77.6-2.2s51.8-1.0 77.6-1.4s51.8-0.7 77.6-1.0"/>
<path d="M423.8 55.4c25.9 0.0 51.8 0.0 77.6 0.0s51.8 0.0 77.6 0.0s51.8 0.0 77.6 0.0"/>
<path d="M423.8 59.1c25.9-0.1 51.8-0.2 77.6-0.3s51.8-0.1 77.6-0.2s51.8-0.1 77.6-0.2"/>
<path d="M423.8 57.5c25.9-0.1 51.8-0.2 77.6-0.3s51.8-0.2 77.6-0.2s51.8-0.1 77.6-0.2"/>
<path d="M423.8 67.8c25.9-1.2 51.8-2.1 77.6-2.8s51.8-1.3 77.6-1.8s51.8-0.9 77.6-1.3"/>
<path d="M423.8 58.7c25.9-0.5 51.8-0.8 77.6-1.1s51.8-0.5 77.6-0.7s51.8-0.4 77.6-0.5"/>
<path d="M423.8 55.0c25.9-0.1 51.8-0.1 77.6-0.2s51.8-0.1 77.6-0.1s51.8-0.1 77.6-0.1"/>
<path d="M423.8 58.0c25.9-0.3 51.8-0.6 77.6-0.8s51.8-0.4 77.6-0.5s51.8-0.3 77.6-0.4"/>
<path d="M423.8 55.9c25.9-0.1 51.8-0.2 77.6-0.2s51.8-0.1 77.6-0.2s51.8-0.1 77.6-0.1"/>
<path d="M423.8 60.0c25.9-0.2 51.8-0.4 77.6-0.6s51.8-0.3 77.6-0.4s51.8-0.2 77.6-0.3"/>
<path d="M423.8 59.6c25.9-0.1 51.8-0.1 77.6-0.2s51.8-0.1 77.6-0.1s51.8-0.1 77.6-0.1"/>
<path d="M423.8 66.0c25.9-0.4 51.8-0.8 77.6-1.1s51.8-0.6 77.6-0.8s51.8-0.4 77.6-0.6"/>
<path d="M423.8 60.3c25.9-0.1 51.8-0.2 77.6-0.2s51.8-0.1 77.6-0.2s51.8-0.1 77.6-0.1"/>
<path d="M423.8 58.8c25.9-0.3 51.8-0.5 77.6-0.6s51.8-0.3 77.6-0.5s51.8-0.2 77.6-0.3"/>
<path d="M423.8 54.3c25.9-0.1 51.8-0.1 77.6-0.2s51.8-0.1 77.6-0.1s51.8-0.1 77.6-0.1"/>
<path d="M423.8 63.1c25.9-0.4 51.8-0.7 77.6-0.9s51.8-0.5 77.6-0.6s51.8-0.3 77.6-0.5"/>
<path d="M423.8 60.5c25.9-0.4 51.8-0.6 77.6-0.9s51.8-0.4 77.6-0.6s51.8-0.3 77.6-0.5"/>
<path d="M423.8 59.1c25.9-0.0 51.8-0.1 77.6-0.1s51.8-0.1 77.6-0.1s51.8-0.0 77.6-0.1"/>
<path d="M423.8 58.7c25.9-0.1 51.8-0.1 77.6-0.1s51.8-0.1 77.6-0.1s51.8-0.1 77.6-0.1"/>
<path d="M423.8 63.1c25.9-0.1 51.8-0.1 77.6-0.2s51.8-0.1 77.6-0.1s51.8-0.1 77.6-0.1"/>
<path d="M423.8 60.0c25.9-0.6 51.8-1.0 77.6-1.3s51.8-0.6 77.6-0.8s51.8-0.4 77.6-0.6"/>
<path d="M423.8 58.5c25.9-0.1 51.8-0.2 77.6-0.3s51.8-0.1 77.6-0.2s51.8-0.1 77.6-0.2"/>
<path d="M423.8 57.0c25.9-0.2 51.8-0.4 77.6-0.6s51.8-0.3 77.6-0.4s51.8-0.2 77.6-0.3"/>
<path d="M423.8 54.9c25.9-0.1 51.8-0.2 77.6-0.3s51.8-0.2 77.6-0.2s51.8-0.1 77.6-0.2"/>
<path d="M423.8 60.2c25.9-0.6 51.8-1.0 77.6-1.4s51.8-0.7 77.6-0.9s51.8-0.5 77.6-0.6"/>
<path d="M423.8 54.5c25.9-0.0 51.8-0.1 77.6-0.1s51.8-0.0 77.6-0.1s51.8-0.0 77.6-0.0"/>
<path d="M423.8 56.1c25.9 0.1 51.8 0.2 77.6 0.3s51.8 0.2 77.6 0.2s51.8 0.1 77.6 0.2"/>
<path d="M423.8 58.0c25.9 0.0 51.8 0.0 77.6 0.0s51.8 0.0 77.6 0.0s51.8 0.0 77.6 0.0"/>
<path d="M423.8 58.2c25.9-0.1 51.8-0.1 77.6-0.2s51.8-0.1 77.6-0.1s51.8-0.1 77.6-0.1"/>
<path d="M423.8 58.5c25.9-0.2 51.8-0.3 77.6-0.4s51.8-0.2 77.6-0.3s51.8-0.2 77.6-0.2"/>
<path d="M423.8 57.0c25.9-0.2 51.8-0.3 77.6-0.4s51.8-0.2 77.6-0.3s51.8-0.2 77.6-0.2"/>
<path d="M423.8 58.0c25.9 0.1 51.8 0.2 77.6 0.2s51.8 0.1 77.6 0.2s51.8 0.1 77.6 0.1"/>
<path d="M423.8 56.2c25.9-0.3 51.8-0.5 77.6-0.7s51.8-0.3 77.6-0.5s51.8-0.2 77.6-0.3"/>
<path d="M423.8 60.3c25.9-0.4 51.8-0.7 77.6-1.0s51.8-0.5 77.6-0.7s51.8-0.3 77.6-0.5"/>
<path d="M423.8 60.3c25.9 0.2 51.8 0.4 77.6 0.5s51.8 0.3 77.6 0.4s51.8 0.2 77.6 0.3"/>
<path d="M423.8 61.3c25.9-0.7 51.8-1.2 77.6-1.7s51.8-0.8 77.6-1.1s51.8-0.5 77.6-0.8"/>
<path d="M423.8 59.9c25.9-0.0 51.8-0.0 77.6-0.0s51.8-0.0 77.6-0.0s51.8-0.0 77.6-0.0"/>
<path d="M423.8 53.8c25.9 0.1 51.8 0.1 77.6 0.2s51.8 0.1 77.6 0.1s51.8 0.1 77.6 0.1"/>
<path d="M423.8 56.8c25.9-0.2 51.8-0.4 77.6-0.5s51.8-0.3 77.6-0.4s51.8-0.2 77.6-0.3"/>
<path d="M423.8 59.0c25.9-0.2 51.8-0.4 77.6-0.6s51.8-0.3 77.6-0.4s51.8-0.2 77.6-0.3"/>
<path d="M423.8 53.3c25.9 0.0 51.8 0.0 77.6 0.0s51.8 0.0 77.6 0.0s51.8 0.0 77.6 0.0"/>
<path d="M423.8 58.7c25.9-0.1 51.8-0.3 77.6-0.4s51.8-0.2 77.6-0.3s51.8-0.1 77.6-0.2"/>
<path d="M423.8 58.2c25.9 0.1 51.8 0.2 77.6 0.3s51.8 0.1 77.6 0.2s51.8 0.1 77.6 0.2"/>
<path d="M423.8 54.7c25.9-0.1 51.8-0.2 77.6-0.2s51.8-0.1 77.6-0.2s51.8-0.1 77.6-0.1"/>
<path d="M423.8 62.8c25.9-0.1 51.8-0.1 77.6-0.1s51.8-0.1 77.6-0.1s51.8-0.1 77.6-0.1"/>
<path d="M423.8 57.4c25.9-0.2 51.8-0.4 77.6-0.6s51.8-0.3 77.6-0.4s51.8-0.2 77.6-0.3"/>
<path d="M423.8 62.7c25.9-0.3 51.8-0.5 77.6-0.7s51.8-0.4 77.6-0.5s51.8-0.3 77.6-0.4"/>
<path d="M423.8 57.8c25.9-0.2 51.8-0.4 77.6-0.6s51.8-0.3 77.6-0.4s51.8-0.2 77.6-0.3"/>
<path d="M423.8 55.5c25.9 0.1 51.8 0.2 77.6 0.3s51.8 0.2 77.6 0.2s51.8 0.1 77.6 0.2"/>
<path d="M423.8 54.4c25.9-0.1 51.8-0.1 77.6-0.2s51.8-0.1 77.6-0.1s51.8-0.1 77.6-0.1"/>
<path d="M423.8 56.0c25.9-0.5 51.8-0.8 77.6-1.1s51.8-0.5 77.6-0.6s51.8-0.3 77.6-0.4"/>
<path d="M423.8 57.2c25.9 0.1 51.8 0.1 77.6 0.2s51.8 0.1 77.6 0.1s51.8 0.1 77.6 0.1"/>
<path d="M423.8 55.7c25.9-0.1 51.8-0.1 77.6-0.2s51.8-0.1 77.6-0.2s51.8-0.1 77.6-0.1"/>
<path d="M423.8 58.1c25.9 0.0 51.8 0.1 77.6 0.1s51.8 0.0 77.6 0.1s51.8 0.0 77.6 0.1"/>
<path d="M423.8 54.3c25.9-0.0 51.8-0.1 77.6-0.1s51.8-0.0 77.6-0.1s51.8-0.0 77.6-0.0"/>
<path d="M423.8 61.8c25.9-0.1 51.8-0.2 77.6-0.3s51.8-0.2 77.6-0.3s51.8-0.1 77.6-0.2"/>
<path d="M423.8 62.1c25.9-0.3 51.8-0.6 77.6-0.8s51.8-0.4 77.6-0.6s51.8-0.3 77.6-0.5"/>
<path d="M423.8 57.9c25.9 0.0 51.8 0.1 77.6 0.1s51.8 0.1 77.6 0.1s51.8 0.0 77.6 0.1"/>
<path d="M423.8 55.9c25.9-0.0 51.8-0.1 77.6-0.1s51.8-0.0 77.6-0.1s51.8-0.0 77.6-0.0"/>
<path d="M423.8 57.4c25.9-0.4 51.8-0.7 77.6-0.9s51.8-0.4 77.6-0.6s51.8-0.3 77.6-0.4"/>
<path d="M423.8 58.3c25.9-0.0 51.8-0.1 77.6-0.1s51.8-0.1 77.6-0.1s51.8-0.0 77.6-0.1"/>
<path d="M423.8 58.7c25.9-0.4 51.8-0.7 77.6-0.9s51.8-0.4 77.6-0.6s51.8-0.3 77.6-0.5"/>
<path d="M423.8 58.4c25.9-0.2 51.8-0.4 77.6-0.5s51.8-0.3 77.6-0.4s51.8-0.2 77.6-0.3"/>
<path d="M423.8 58.7c25.9-0.3 51.8-0.5 77.6-0.6s51.8-0.3 77.6-0.4s51.8-0.2 77.6-0.3"/>
<path d="M423.8 55.8c25.9-0.0 51.8-0.0 77.6-0.1s51.8-0.0 77.6-0.0s51.8-0.0 77.6-0.0"/>
<path d="M423.8 59.6c25.9-0.2 51.8-0.4 77.6-0.6s51.8-0.3 77.6-0.4s51.8-0.2 77.6-0.3"/>
<path d="M423.8 60.3c25.9-0.3 51.8-0.5 77.6-0.7s51.8-0.3 77.6-0.5s51.8-0.3 77.6-0.4"/>
<path d="M423.8 56.6c25.9-0.1 51.8-0.2 77.6-0.3s51.8-0.2 77.6-0.2s51.8-0.1 77.6-0.2"/>
<path d="M423.8 58.8c25.9-0.0 51.8-0.0 77.6-0.1s51.8-0.0 77.6-0.0s51.8-0.0 77.6-0.0"/>
<path d="M423.8 54.8c25.9-0.2 51.8-0.3 77.6-0.4s51.8-0.2 77.6-0.2s51.8-0.1 77.6-0.2"/>
<path d="M423.8 60.2c25.9-0.0 51.8-0.0 77.6-0.0s51.8-0.0 77.6-0.0s51.8-0.0 77.6-0.0"/>
<path d="M423.8 55.0c25.9-0.2 51.8-0.4 77.6-0.5s51.8-0.2 77.6-0.3s51.8-0.2 77.6-0.2"/>
<path d="M423.8 59.3c25.9-0.5 51.8-0.9 77.6-1.2s51.8-0.5 77.6-0.8s51.8-0.4 77.6-0.5"/>
<path d="M423.8 63.1c25.9-0.3 51.8-0.6 77.6-0.8s51.8-0.4 77.6-0.6s51.8-0.3 77.6-0.4"/>
<path d="M423.8 54.9c25.9 0.1 51.8 0.2 77.6 0.2s51.8 0.1 77.6 0.2s51.8 0.1 77.6 0.2"/>
<path d="M423.8 61.9c25.9-0.5 51.8-1.0 77.6-1.3s51.8-0.6 77.6-0.9s51.8-0.5 77.6-0.6"/>
<path d="M423.8 55.0c25.9-0.0 51.8-0.0 77.6-0.1s51.8-0.0 77.6-0.0s51.8-0.0 77.6-0.0"/>
<path d="M423.8 59.3c25.9-0.6 51.8-1.0 77.6-1.4s51.8-0.6 77.6-0.9s51.8-0.4 77.6-0.6"/>
<path d="M423.8 57.5c25.9 0.1 51.8 0.2 77.6 0.2s51.8 0.1 77.6 0.2s51.8 0.1 77.6 0.1"/>
<path d="M423.8 57.9c25.9-0.1 51.8-0.2 77.6-0.2s51.8-0.1 77.6-0.2s51.8-0.1 77.6-0.1"/>
<path d="M423.8 55.2c25.9-0.1 51.8-0.2 77.6-0.3s51.8-0.1 77.6-0.2s51.8-0.1 77.6-0.1"/>
<path d="M423.8 65.7c25.9-1.5 51.8-2.5 77.6-3.3s51.8-1.5 77.6-2.0s51.8-1.0 77.6-1.3"/>
<path d="M423.8 60.3c25.9-0.4 51.8-0.7 77.6-0.9s51.8-0.4 77.6-0.6s51.8-0.3 77.6-0.5"/>
<path d="M423.8 57.0c25.9-0.3 51.8-0.5 77.6-0.7s51.8-0.3 77.6-0.4s51.8-0.2 77.6-0.3"/>
<path d="M423.8 58.4c25.9-0.3 51.8-0.5 77.6-0.7s51.8-0.4 77.6-0.5s51.8-0.3 77.6-0.4"/>
<path d="M423.8 56.8c25.9 0.1 51.8 0.2 77.6 0.2s51.8 0.1 77.6 0.2s51.8 0.1 77.6 0.2"/>
<path d="M423.8 58.5c25.9-0.1 51.8-0.3 77.6-0.4s51.8-0.2 77.6-0.3s51.8-0.1 77.6-0.2"/>
<path d="M423.8 58.9c25.9-0.2 51.8-0.4 77.6-0.6s51.8-0.3 77.6-0.4s51.8-0.2 77.6-0.3"/>
<path d="M423.8 62.4c25.9-0.8 51.8-1.3 77.6-1.8s51.8-0.8 77.6-1.1s51.8-0.6 77.6-0.8"/>
<path d="M423.8 53.8c25.9 0.1 51.8 0.1 77.6 0.2s51.8 0.1 77.6 0.2s51.8 0.1 77.6 0.1"/>
<path d="M423.8 57.4c25.9-0.0 51.8-0.1 77.6-0.1s51.8-0.0 77.6-0.1s51.8-0.0 77.6-0.0"/>
<path d="M423.8 70.6c25.9-0.8 51.8-1.4 77.6-1.9s51.8-0.9 77.6-1.3s51.8-0.7 77.6-1.0"/>
<path d="M423.8 59.4c25.9-0.1 51.8-0.2 77.6-0.3s51.8-0.2 77.6-0.2s51.8-0.1 77.6-0.2"/>
<path d="M423.8 62.0c25.9-0.7 51.8-1.1 77.6-1.5s51.8-0.7 77.6-1.0s51.8-0.5 77.6-0.7"/>
<path d="M423.8 55.3c25.9-0.1 51.8-0.2 77.6-0.3s51.8-0.1 77.6-0.2s51.8-0.1 77.6-0.2"/>
<path d="M423.8 56.2c25.9-0.1 51.8-0.2 77.6-0.3s51.8-0.1 77.6-0.2s51.8-0.1 77.6-0.1"/>
<path d="M423.8 57.0c25.9-0.0 51.8-0.0 77.6-0.1s51.8-0.0 77.6-0.0s51.8-0.0 77.6-0.0"/>
<path d="M423.8 57.3c25.9-0.0 51.8-0.0 77.6-0.1s51.8-0.0 77.6-0.1s51.8-0.0 77.6-0.0"/>
<path d="M423.8 58.0c25.9-0.3 51.8-0.6 77.6-0.8s51.8-0.4 77.6-0.5s51.8-0.3 77.6-0.4"/>
<path d="M423.8 58.6c25.9-0.5 51.8-0.8 77.6-1.1s51.8-0.5 77.6-0.7s51.8-0.4 77.6-0.5"/>
<path d="M423.8 53.1c25.9 0.0 51.8 0.1 77.6 0.1s51.8 0.1 77.6 0.1s51.8 0.0 77.6 0.1"/>
<path d="M423.8 57.5c25.9-0.1 51.8-0.1 77.6-0.1s51.8-0.1 77.6-0.1s51.8-0.1 77.6-0.1"/>
<path d="M423.8 57.7c25.9 0.1 51.8 0.2 77.6 0.2s51.8 0.1 77.6 0.2s51.8 0.1 77.6 0.2"/>
<path d="M423.8 57.8c25.9-0.1 51.8-0.2 77.6-0.3s51.8-0.2 77.6-0.2s51.8-0.1 77.6-0.2"/>
<path d="M423.8 59.6c25.9-0.2 51.8-0.3 77.6-0.4s51.8-0.2 77.6-0.3s51.8-0.2 77.6-0.2"/>
<path d="M423.8 56.9c25.9 0.2 51.8 0.5 77.6 0.7s51.8 0.4 77.6 0.6s51.8 0.3 77.6 0.5"/>
<path d="M423.8 55.3c25.9-0.1 51.8-0.1 77.6-0.1s51.8-0.1 77.6-0.1s51.8-0.1 77.6-0.1"/>
<path d="M423.8 61.6c25.9-0.4 51.8-0.7 77.6-0.9s51.8-0.5 77.6-0.6s51.8-0.3 77.6-0.5"/>
<path d="M423.8 57.2c25.9 0.2 51.8 0.4 77.6 0.6s51.8 0.4 77.6 0.5s51.8 0.3 77.6 0.5"/>
<path d="M423.8 54.8c25.9 0.1 51.8 0.1 77.6 0.2s51.8 0.1 77.6 0.2s51.8 0.1 77.6 0.1"/>
<path d="M423.8 59.0c25.9-0.2 51.8-0.4 77.6-0.6s51.8-0.3 77.6-0.4s51.8-0.2 77.6-0.3"/>
<path d="M423.8 55.7c25.9-0.3 51.8-0.4 77.6-0.6s51.8-0.3 77.6-0.4s51.8-0.2 77.6-0.3"/>
<path d="M423.8 56.9c25.9-0.0 51.8-0.0 77.6-0.0s51.8-0.0 77.6-0.0s51.8-0.0 77.6-0.0"/>
<path d="M423.8 61.1c25.9-0.6 51.8-1.0 77.6-1.4s51.8-0.7 77.6-0.9s51.8-0.5 77.6-0.7"/>
<path d="M423.8 54.6c25.9-0.1 51.8-0.2 77.6-0.3s51.8-0.1 77.6-0.2s51.8-0.1 77.6-0.1"/>
<path d="M423.8 61.8c25.9-0.6 51.8-1.1 77.6-1.5s51.8-0.7 77.6-1.0s51.8-0.5 77.6-0.7"/>
<path d="M423.8 58.7c25.9-0.1 51.8-0.2 77.6-0.3s51.8-0.1 77.6-0.2s51.8-0.1 77.6-0.1"/>
<path d="M423.8 59.8c25.9-0.4 51.8-0.7 77.6-0.9s51.8-0.4 77.6-0.6s51.8-0.3 77.6-0.5"/>
<path d="M423.8 58.5c25.9-0.4 51.8-0.7 77.6-1.0s51.8-0.5 77.6-0.6s51.8-0.3 77.6-0.5"/>
<path d="M423.8 55.4c25.9-0.2 51.8-0.3 77.6-0.4s51.8-0.2 77.6-0.2s51.8-0.1 77.6-0.2"/>
<path d="M423.8 63.0c25.9 0.3 51.8 0.6 77.6 0.8s51.8 0.5 77.6 0.7s51.8 0.4 77.6 0.6"/>
<path d="M423.8 57.6c25.9-0.2 51.8-0.3 77.6-0.4s51.8-0.2 77.6-0.3s51.8-0.1 77.6-0.2"/>
<path d="M423.8 53.9c25.9-0.0 51.8-0.1 77.6-0.1s51.8-0.1 77.6-0.1s51.8-0.0 77.6-0.1"/>
<path d="M423.8 60.0c25.9-0.5 51.8-0.8 77.6-1.1s51.8-0.5 77.6-0.8s51.8-0.4 77.6-0.6"/>
<path d="M423.8 55.3c25.9-0.1 51.8-0.1 77.6-0.2s51.8-0.1 77.6-0.1s51.8-0.1 77.6-0.1"/>
<path d="M423.8 55.8c25.9 0.0 51.8 0.1 77.6 0.1s51.8 0.0 77.6 0.1s51.8 0.0 77.6 0.1"/>
<path d="M423.8 63.5c25.9-0.8 51.8-1.4 77.6-1.9s51.8-0.9 77.6-1.2s51.8-0.6 77.6-0.9"/>
<path d="M423.8 65.0c25.9-0.8 51.8-1.3 77.6-1.8s51.8-0.9 77.6-1.2s51.8-0.6 77.6-0.9"/>
<path d="M423.8 57.0c25.9-0.3 51.8-0.5 77.6-0.6s51.8-0.3 77.6-0.4s51.8-0.2 77.6-0.3"/>
<path d="M423.8 56.2c25.9-0.2 51.8-0.3 77.6-0.5s51.8-0.2 77.6-0.3s51.8-0.2 77.6-0.2"/>
<path d="M423.8 63.8c25.9 0.1 51.8 0.1 77.6 0.1s51.8 0.1 77.6 0.1s51.8 0.1 77.6 0.1"/>
<path d="M423.8 61.5c25.9-0.6 51.8-1.0 77.6-1.3s51.8-0.6 77.6-0.9s51.8-0.5 77.6-0.7"/>
<path d="M423.8 60.4c25.9-0.0 51.8-0.1 77.6-0.1s51.8-0.1 77.6-0.1s51.8-0.0 77.6-0.1"/>
<path d="M423.8 61.3c25.9-0.7 51.8-1.2 77.6-1.6s51.8-0.7 77.6-1.0s51.8-0.5 77.6-0.7"/>
<path d="M423.8 60.4c25.9 0.1 51.8 0.3 77.6 0.4s51.8 0.2 77.6 0.3s51.8 0.2 77.6 0.2"/>
<path d="M423.8 54.9c25.9 0.1 51.8 0.2 77.6 0.3s51.8 0.2 77.6 0.3s51.8 0.2 77.6 0.2"/>
<path d="M423.8 56.7c25.9-0.1 51.8-0.1 77.6-0.2s51.8-0.1 77.6-0.1s51.8-0.1 77.6-0.1"/>
<path d="M423.8 62.6c25.9-0.2 51.8-0.3 77.6-0.4s51.8-0.2 77.6-0.3s51.8-0.2 77.6-0.2"/>
</g>
<path d="M423.8 56.7c12.9-0.1 25.9-0.1 38.8-0.2s25.9-0.1 38.8-0.2s25.9-0.1 38.8-0.1s25.9-0.1 38.8-0.1s25.9-0.1 38.8-0.1s25.9-0.1 38.8-0.1" fill="none" stroke="#f0fc3c" stroke-width="3.4"/>
</g>
<g clip-path="url(#c01)">
<g class="cb">
<path d="M86.0 565.5c25.9-13.9 51.8-28.8 77.6-42.5s51.8-26.3 77.6-37.0s51.8-19.9 77.6-27.5"/>
<path d="M86.0 597.5c25.9-10.6 51.8-26.4 77.6-44.4s51.8-37.6 77.6-54.6s51.8-31.6 77.6-43.1"/>
<path d="M86.0 603.1c25.9-8.8 51.8-22.6 77.6-39.9s51.8-37.3 77.6-55.5s51.8-34.3 77.6-47.1"/>
<path d="M86.0 607.6c25.9-6.7 51.8-17.3 77.6-31.6s51.8-32.2 77.6-49.8s51.8-34.5 77.6-48.7"/>
<path d="M86.0 615.7c25.9-4.2 51.8-13.1 77.6-33.4s51.8-52.6 77.6-81.5s51.8-52.0 77.6-66.7"/>
<path d="M86.0 599.8c25.9-10.1 51.8-25.4 77.6-43.6s51.8-38.4 77.6-56.2s51.8-32.9 77.6-44.8"/>
<path d="M86.0 599.6c25.9-9.6 51.8-23.7 77.6-40.4s51.8-35.3 77.6-52.1s51.8-31.7 77.6-43.8"/>
<path d="M86.0 604.1c25.9-8.1 51.8-20.7 77.6-36.5s51.8-34.6 77.6-52.2s51.8-33.7 77.6-46.8"/>
<path d="M86.0 599.5c25.9-10.4 51.8-26.4 77.6-45.2s51.8-39.7 77.6-57.7s51.8-33.2 77.6-44.9"/>
<path d="M86.0 597.8c25.9-11.2 51.8-28.3 77.6-48.0s51.8-41.0 77.6-58.9s51.8-32.6 77.6-43.8"/>
<path d="M86.0 609.9c25.9-7.2 51.8-20.9 77.6-42.0s51.8-48.4 77.6-71.8s51.8-42.3 77.6-55.6"/>
<path d="M86.0 597.4c25.9-10.8 51.8-26.9 77.6-45.2s51.8-38.2 77.6-55.4s51.8-31.8 77.6-43.2"/>
<path d="M86.0 606.2c25.9-8.3 51.8-22.4 77.6-41.5s51.8-42.3 77.6-62.8s51.8-37.9 77.6-51.1"/>
<path d="M86.0 592.7c25.9-13.2 51.8-32.8 77.6-53.6s51.8-42.1 77.6-59.3s51.8-30.4 77.6-40.4"/>
<path d="M86.0 608.4c25.9-7.6 51.8-21.2 77.6-40.9s51.8-44.5 77.6-66.4s51.8-40.3 77.6-53.8"/>
<path d="M86.0 604.1c25.9-8.2 51.8-21.1 77.6-37.4s51.8-35.6 77.6-53.5s51.8-34.2 77.6-47.3"/>
<path d="M86.0 603.1c25.9-9.9 51.8-26.8 77.6-48.1s51.8-45.6 77.6-65.8s51.8-36.3 77.6-48.0"/>
<path d="M86.0 606.0c25.9-8.5 51.8-23.3 77.6-43.1s51.8-43.9 77.6-64.7s51.8-38.2 77.6-51.0"/>
<path d="M86.0 613.3c25.9-4.6 51.8-13.0 77.6-27.0s51.8-34.0 77.6-54.9s51.8-41.8 77.6-58.5"/>
<path d="M86.0 595.3c25.9-9.3 51.8-21.5 77.6-35.1s51.8-28.1 77.6-41.7s51.8-26.3 77.6-37.2"/>
<path d="M86.0 605.7c25.9-8.8 51.8-24.0 77.6-44.2s51.8-44.6 77.6-65.5s51.8-38.0 77.6-50.6"/>
<path d="M86.0 597.5c25.9-9.7 51.8-23.3 77.6-38.9s51.8-32.6 77.6-48.1s51.8-29.6 77.6-41.2"/>
<path d="M86.0 602.4c25.9-9.4 51.8-24.3 77.6-42.7s51.8-39.6 77.6-58.3s51.8-34.7 77.6-47.1"/>
<path d="M86.0 602.3c25.9-10.6 51.8-28.9 77.6-51.5s51.8-47.9 77.6-68.2s51.8-35.7 77.6-46.8"/>
<path d="M86.0 607.8c25.9-8.0 51.8-22.7 77.6-43.5s51.8-46.6 77.6-68.7s51.8-40.0 77.6-52.9"/>
<path d="M86.0 597.5c25.9-9.9 51.8-24.2 77.6-40.4s51.8-34.0 77.6-50.1s51.8-30.3 77.6-41.9"/>
<path d="M86.0 604.1c25.9-9.4 51.8-25.5 77.6-46.2s51.8-44.8 77.6-65.2s51.8-36.9 77.6-49.0"/>
<path d="M86.0 598.6c25.9-9.8 51.8-24.1 77.6-40.6s51.8-34.8 77.6-51.3s51.8-31.1 77.6-42.9"/>
<path d="M86.0 580.4c25.9-11.2 51.8-24.0 77.6-36.7s51.8-25.2 77.6-36.5s51.8-21.4 77.6-30.2"/>
<path d="M86.0 603.3c25.9-9.7 51.8-26.2 77.6-46.9s51.8-44.6 77.6-64.7s51.8-36.3 77.6-48.2"/>
<path d="M86.0 607.9c25.9-6.8 51.8-18.1 77.6-33.5s51.8-34.9 77.6-53.6s51.8-36.4 77.6-50.6"/>
<path d="M86.0 609.1c25.9-6.9 51.8-19.1 77.6-36.8s51.8-40.6 77.6-61.7s51.8-40.0 77.6-54.3"/>
<path d="M86.0 604.3c25.9-7.3 51.8-18.0 77.6-31.3s51.8-29.1 77.6-44.5s51.8-30.4 77.6-43.3"/>
<path d="M86.0 606.6c25.9-8.8 51.8-24.8 77.6-46.8s51.8-48.6 77.6-70.5s51.8-39.1 77.6-51.2"/>
<path d="M86.0 606.8c25.9-6.7 51.8-17.2 77.6-30.9s51.8-30.6 77.6-47.2s51.8-32.9 77.6-46.6"/>
<path d="M86.0 597.6c25.9-10.5 51.8-26.1 77.6-43.8s51.8-37.1 77.6-54.1s51.8-31.5 77.6-43.0"/>
<path d="M86.0 585.9c25.9-13.4 51.8-31.0 77.6-48.9s51.8-35.5 77.6-50.3s51.8-27.0 77.6-36.7"/>
<path d="M86.0 594.0c25.9-11.0 51.8-26.3 77.6-43.0s51.8-34.5 77.6-50.1s51.8-29.2 77.6-40.2"/>
<path d="M86.0 597.2c25.9-11.8 51.8-30.1 77.6-50.9s51.8-43.0 77.6-61.2s51.8-32.6 77.6-43.4"/>
<path d="M86.0 591.9c25.9-10.2 51.8-23.4 77.6-37.6s51.8-29.0 77.6-42.6s51.8-25.9 77.6-36.4"/>
<path d="M86.0 601.4c25.9-11.1 51.8-30.2 77.6-53.3s51.8-48.5 77.6-68.6s51.8-35.0 77.6-45.7"/>
<path d="M86.0 606.4c25.9-8.9 51.8-25.0 77.6-47.1s51.8-48.6 77.6-70.4s51.8-38.9 77.6-51.0"/>
<path d="M86.0 597.2c25.9-10.6 51.8-26.2 77.6-43.9s51.8-37.0 77.6-53.9s51.8-31.3 77.6-42.8"/>
<path d="M86.0 600.8c25.9-8.9 51.8-21.9 77.6-37.5s51.8-33.2 77.6-49.6s51.8-31.3 77.6-43.6"/>
<path d="M86.0 584.5c25.9-13.1 51.8-29.9 77.6-46.7s51.8-33.4 77.6-47.6s51.8-26.0 77.6-35.6"/>
<path d="M86.0 603.0c25.9-8.7 51.8-22.2 77.6-39.0s51.8-36.4 77.6-54.2s51.8-33.8 77.6-46.6"/>
<path d="M86.0 605.2c25.9-8.9 51.8-24.0 77.6-44.0s51.8-43.8 77.6-64.3s51.8-37.5 77.6-50.1"/>
<path d="M86.0 596.1c25.9-8.9 51.8-20.6 77.6-33.6s51.8-27.1 77.6-40.4s51.8-25.8 77.6-36.7"/>
<path d="M86.0 608.7c25.9-7.6 51.8-21.7 77.6-42.2s51.8-46.5 77.6-68.9s51.8-40.9 77.6-54.1"/>
<path d="M86.0 601.4c25.9-10.3 51.8-26.9 77.6-47.2s51.8-43.1 77.6-62.3s51.8-34.9 77.6-46.6"/>
<path d="M86.0 605.4c25.9-8.4 51.8-22.4 77.6-40.8s51.8-40.5 77.6-60.3s51.8-36.9 77.6-50.0"/>
<path d="M86.0 607.6c25.9-7.8 51.8-21.6 77.6-41.0s51.8-43.6 77.6-64.9s51.8-39.4 77.6-52.8"/>
<path d="M86.0 606.0c25.9-7.9 51.8-20.8 77.6-38.0s51.8-38.1 77.6-57.4s51.8-36.5 77.6-50.0"/>
<path d="M86.0 606.0c25.9-8.4 51.8-22.7 77.6-41.9s51.8-42.5 77.6-63.0s51.8-37.9 77.6-50.9"/>
<path d="M86.0 612.6c25.9-6.1 51.8-18.9 77.6-41.6s51.8-54.4 77.6-80.6s51.8-45.9 77.6-58.8"/>
<path d="M86.0 606.0c25.9-9.5 51.8-27.5 77.6-51.8s51.8-52.9 77.6-75.0s51.8-38.2 77.6-49.2"/>
<path d="M86.0 607.2c25.9-6.7 51.8-17.3 77.6-31.5s51.8-31.7 77.6-48.9s51.8-33.9 77.6-47.8"/>
<path d="M86.0 607.3c25.9-7.7 51.8-20.8 77.6-39.0s51.8-40.8 77.6-61.3s51.8-38.4 77.6-52.1"/>
<path d="M86.0 612.9c25.9-5.0 51.8-14.1 77.6-29.5s51.8-37.0 77.6-58.8s51.8-42.9 77.6-59.2"/>
<path d="M86.0 587.9c25.9-12.5 51.8-28.9 77.6-45.9s51.8-34.1 77.6-48.8s51.8-27.2 77.6-37.2"/>
<path d="M86.0 601.4c25.9-8.6 51.8-21.3 77.6-36.6s51.8-32.7 77.6-49.0s51.8-31.3 77.6-43.7"/>
<path d="M86.0 606.0c25.9-8.5 51.8-23.1 77.6-42.8s51.8-43.6 77.6-64.3s51.8-38.1 77.6-51.0"/>
<path d="M86.0 592.8c25.9-13.3 51.8-33.2 77.6-54.4s51.8-42.8 77.6-60.0s51.8-30.5 77.6-40.4"/>
<path d="M86.0 601.0c25.9-10.4 51.8-27.1 77.6-47.2s51.8-42.8 77.6-61.8s51.8-34.6 77.6-46.3"/>
<path d="M86.0 601.0c25.9-11.3 51.8-30.6 77.6-53.8s51.8-48.6 77.6-68.6s51.8-34.8 77.6-45.4"/>
<path d="M86.0 588.4c25.9-12.9 51.8-30.3 77.6-48.2s51.8-36.0 77.6-51.2s51.8-27.9 77.6-37.9"/>
<path d="M86.0 598.3c25.9-9.9 51.8-24.2 77.6-40.6s51.8-34.7 77.6-51.1s51.8-30.9 77.6-42.7"/>
<path d="M86.0 601.4c25.9-11.0 51.8-29.6 77.6-52.1s51.8-47.6 77.6-67.5s51.8-35.1 77.6-46.0"/>
<path d="M86.0 601.1c25.9-9.3 51.8-23.5 77.6-40.5s51.8-36.5 77.6-53.9s51.8-32.9 77.6-45.3"/>
<path d="M86.0 596.2c25.9-10.9 51.8-26.7 77.6-44.5s51.8-36.9 77.6-53.6s51.8-30.9 77.6-42.1"/>
<path d="M86.0 607.9c25.9-7.3 51.8-19.7 77.6-37.2s51.8-39.4 77.6-59.7s51.8-38.4 77.6-52.5"/>
<path d="M86.0 590.2c25.9-14.3 51.8-35.2 77.6-56.7s51.8-42.8 77.6-59.6s51.8-29.3 77.6-38.7"/>
<path d="M86.0 597.2c25.9-9.6 51.8-23.0 77.6-38.1s51.8-31.8 77.6-47.0s51.8-29.1 77.6-40.6"/>
<path d="M86.0 609.0c25.9-6.7 51.8-18.3 77.6-34.9s51.8-38.1 77.6-58.4s51.8-38.9 77.6-53.5"/>
<path d="M86.0 599.7c25.9-10.7 51.8-27.6 77.6-47.6s51.8-42.1 77.6-60.7s51.8-33.8 77.6-45.2"/>
<path d="M86.0 602.3c25.9-9.7 51.8-25.3 77.6-44.6s51.8-41.4 77.6-60.5s51.8-35.1 77.6-47.3"/>
<path d="M86.0 591.0c25.9-11.0 51.8-25.3 77.6-40.6s51.8-31.2 77.6-45.4s51.8-26.8 77.6-37.3"/>
<path d="M86.0 604.9c25.9-8.4 51.8-22.1 77.6-39.9s51.8-39.1 77.6-58.3s51.8-36.1 77.6-49.2"/>
<path d="M86.0 602.7c25.9-8.6 51.8-21.7 77.6-37.9s51.8-35.0 77.6-52.3s51.8-33.1 77.6-45.8"/>
<path d="M86.0 603.6c25.9-8.4 51.8-21.4 77.6-37.8s51.8-35.6 77.6-53.4s51.8-33.9 77.6-46.9"/>
<path d="M86.0 596.8c25.9-11.2 51.8-28.1 77.6-47.1s51.8-39.5 77.6-56.9s51.8-31.8 77.6-43.0"/>
<path d="M86.0 607.4c25.9-8.0 51.8-22.0 77.6-41.6s51.8-43.8 77.6-65.1s51.8-39.2 77.6-52.5"/>
<path d="M86.0 609.1c25.9-7.9 51.8-23.1 77.6-45.8s51.8-51.4 77.6-74.9s51.8-41.4 77.6-53.7"/>
<path d="M86.0 611.7c25.9-5.5 51.8-15.3 77.6-30.7s51.8-36.6 77.6-57.5s51.8-41.0 77.6-56.7"/>
<path d="M86.0 605.1c25.9-8.3 51.8-22.0 77.6-39.8s51.8-39.1 77.6-58.4s51.8-36.2 77.6-49.4"/>
<path d="M86.0 605.9c25.9-9.1 51.8-25.5 77.6-47.7s51.8-48.5 77.6-70.2s51.8-38.5 77.6-50.4"/>
<path d="M86.0 600.0c25.9-10.8 51.8-28.3 77.6-48.9s51.8-43.4 77.6-62.3s51.8-34.1 77.6-45.4"/>
<path d="M86.0 594.2c25.9-12.6 51.8-31.3 77.6-51.7s51.8-41.6 77.6-59.0s51.8-31.0 77.6-41.4"/>
<path d="M86.0 607.3c25.9-8.0 51.8-22.1 77.6-41.6s51.8-43.8 77.6-65.1s51.8-39.2 77.6-52.4"/>
<path d="M86.0 612.8c25.9-5.7 51.8-17.2 77.6-37.5s51.8-49.0 77.6-74.4s51.8-46.3 77.6-60.6"/>
<path d="M86.0 610.0c25.9-7.7 51.8-23.3 77.6-47.6s51.8-55.5 77.6-79.9s51.8-42.1 77.6-53.8"/>
<path d="M86.0 600.5c25.9-9.7 51.8-24.5 77.6-42.1s51.8-37.6 77.6-55.3s51.8-33.1 77.6-45.2"/>
<path d="M86.0 606.1c25.9-8.5 51.8-23.4 77.6-43.6s51.8-44.5 77.6-65.5s51.8-38.3 77.6-51.1"/>
<path d="M86.0 606.5c25.9-7.9 51.8-21.2 77.6-39.2s51.8-40.1 77.6-60.1s51.8-37.6 77.6-51.1"/>
<path d="M86.0 610.2c25.9-7.1 51.8-20.6 77.6-41.6s51.8-48.6 77.6-72.2s51.8-42.7 77.6-56.0"/>
<path d="M86.0 609.5c25.9-6.9 51.8-19.5 77.6-38.3s51.8-43.2 77.6-65.2s51.8-41.1 77.6-55.2"/>
<path d="M86.0 599.1c25.9-9.3 51.8-22.6 77.6-38.1s51.8-32.7 77.6-48.6s51.8-30.3 77.6-42.3"/>
<path d="M86.0 597.8c25.9-9.4 51.8-22.4 77.6-37.3s51.8-31.3 77.6-46.5s51.8-29.0 77.6-40.6"/>
<path d="M86.0 607.5c25.9-8.1 51.8-22.7 77.6-43.3s51.8-46.0 77.6-67.9s51.8-39.7 77.6-52.7"/>
<path d="M86.0 605.6c25.9-8.7 51.8-23.7 77.6-43.6s51.8-43.8 77.6-64.5s51.8-37.8 77.6-50.6"/>
<path d="M86.0 598.4c25.9-11.8 51.8-30.8 77.6-52.7s51.8-45.3 77.6-64.1s51.8-33.3 77.6-43.9"/>
<path d="M86.0 600.4c25.9-9.9 51.8-25.2 77.6-43.5s51.8-38.8 77.6-56.8s51.8-33.4 77.6-45.4"/>
<path d="M86.0 610.5c25.9-6.1 51.8-16.9 77.6-33.3s51.8-38.1 77.6-59.0s51.8-40.4 77.6-55.5"/>
<path d="M86.0 610.4c25.9-6.1 51.8-16.7 77.6-32.6s51.8-37.1 77.6-57.6s51.8-39.8 77.6-54.9"/>
<path d="M86.0 608.3c25.9-7.7 51.8-21.8 77.6-42.2s51.8-46.0 77.6-68.2s51.8-40.5 77.6-53.7"/>
<path d="M86.0 597.7c25.9-10.1 51.8-24.6 77.6-41.3s51.8-34.9 77.6-51.3s51.8-30.8 77.6-42.4"/>
<path d="M86.0 597.8c25.9-10.5 51.8-26.1 77.6-44.0s51.8-37.5 77.6-54.6s51.8-31.7 77.6-43.3"/>
<path d="M86.0 603.6c25.9-8.9 51.8-23.3 77.6-41.5s51.8-39.6 77.6-58.5s51.8-35.4 77.6-48.2"/>
<path d="M86.0 602.1c25.9-9.3 51.8-23.8 77.6-41.7s51.8-38.4 77.6-56.7s51.8-34.2 77.6-46.6"/>
<path d="M86.0 604.4c25.9-8.2 51.8-21.2 77.6-37.8s51.8-36.3 77.6-54.6s51.8-34.7 77.6-47.9"/>
<path d="M86.0 608.2c25.9-6.4 51.8-16.8 77.6-31.0s51.8-32.1 77.6-49.9s51.8-34.9 77.6-49.3"/>
<path d="M86.0 610.9c25.9-6.2 51.8-17.5 77.6-35.2s51.8-41.4 77.6-63.6s51.8-42.1 77.6-57.0"/>
<path d="M86.0 579.6c25.9-13.0 51.8-28.6 77.6-43.8s51.8-30.0 77.6-42.8s51.8-23.7 77.6-32.7"/>
<path d="M86.0 601.5c25.9-9.7 51.8-24.8 77.6-43.3s51.8-39.5 77.6-58.0s51.8-34.2 77.6-46.4"/>
<path d="M86.0 608.4c25.9-7.1 51.8-19.2 77.6-36.5s51.8-39.2 77.6-59.6s51.8-38.8 77.6-53.0"/>
<path d="M86.0 592.0c25.9-10.1 51.8-23.1 77.6-37.0s51.8-28.6 77.6-42.0s51.8-25.7 77.6-36.1"/>
<path d="M86.0 602.8c25.9-9.0 51.8-23.2 77.6-40.9s51.8-38.3 77.6-56.7s51.8-34.5 77.6-47.2"/>
<path d="M86.0 593.7c25.9-10.7 51.8-25.4 77.6-41.3s51.8-32.9 77.6-48.0s51.8-28.4 77.6-39.4"/>
<path d="M86.0 604.8c25.9-9.3 51.8-25.3 77.6-46.4s51.8-45.8 77.6-66.6s51.8-37.5 77.6-49.7"/>
<path d="M86.0 602.9c25.9-8.2 51.8-20.6 77.6-35.8s51.8-33.0 77.6-49.7s51.8-32.1 77.6-44.9"/>
<path d="M86.0 599.5c25.9-9.8 51.8-24.4 77.6-41.6s51.8-36.4 77.6-53.5s51.8-32.1 77.6-44.1"/>
<path d="M86.0 597.4c25.9-12.1 51.8-31.4 77.6-53.3s51.8-45.1 77.6-63.6s51.8-32.8 77.6-43.2"/>
<path d="M86.0 601.6c25.9-8.6 51.8-21.2 77.6-36.4s51.8-32.7 77.6-49.0s51.8-31.4 77.6-43.9"/>
<path d="M86.0 612.4c25.9-6.1 51.8-18.6 77.6-40.3s51.8-51.9 77.6-77.5s51.8-45.7 77.6-59.1"/>
<path d="M86.0 604.1c25.9-8.8 51.8-23.2 77.6-41.6s51.8-40.0 77.6-59.3s51.8-35.9 77.6-48.7"/>
<path d="M86.0 600.7c25.9-10.2 51.8-26.3 77.6-45.5s51.8-41.0 77.6-59.6s51.8-34.1 77.6-45.9"/>
<path d="M86.0 588.5c25.9-14.2 51.8-34.3 77.6-54.8s51.8-40.7 77.6-56.8s51.8-28.6 77.6-38.1"/>
<path d="M86.0 601.1c25.9-10.3 51.8-27.0 77.6-47.1s51.8-42.7 77.6-61.8s51.8-34.7 77.6-46.4"/>
<path d="M86.0 591.6c25.9-11.6 51.8-27.3 77.6-44.1s51.8-34.2 77.6-49.4s51.8-28.3 77.6-38.9"/>
<path d="M86.0 594.8c25.9-12.7 51.8-31.9 77.6-52.9s51.8-42.9 77.6-60.6s51.8-31.4 77.6-41.7"/>
<path d="M86.0 596.4c25.9-10.4 51.8-25.1 77.6-41.6s51.8-34.5 77.6-50.5s51.8-30.1 77.6-41.5"/>
<path d="M86.0 607.7c25.9-7.5 51.8-20.3 77.6-38.3s51.8-40.5 77.6-61.1s51.8-38.7 77.6-52.6"/>
<path d="M86.0 603.8c25.9-9.9 51.8-27.0 77.6-48.7s51.8-47.0 77.6-67.6s51.8-36.8 77.6-48.4"/>
<path d="M86.0 602.8c25.9-10.3 51.8-28.1 77.6-50.2s51.8-47.3 77.6-67.6s51.8-36.1 77.6-47.4"/>
<path d="M86.0 607.0c25.9-8.2 51.8-22.7 77.6-42.7s51.8-44.6 77.6-65.9s51.8-39.1 77.6-52.1"/>
<path d="M86.0 600.0c25.9-10.4 51.8-26.7 77.6-46.0s51.8-40.8 77.6-59.2s51.8-33.7 77.6-45.4"/>
<path d="M86.0 607.2c25.9-8.6 51.8-24.5 77.6-46.8s51.8-49.4 77.6-71.7s51.8-39.6 77.6-51.7"/>
<path d="M86.0 599.7c25.9-10.1 51.8-25.5 77.6-43.6s51.8-38.4 77.6-56.1s51.8-32.9 77.6-44.8"/>
<path d="M86.0 609.7c25.9-7.7 51.8-22.8 77.6-46.0s51.8-52.9 77.6-76.9s51.8-42.0 77.6-54.2"/>
<path d="M86.0 603.0c25.9-9.0 51.8-23.4 77.6-41.3s51.8-38.7 77.6-57.3s51.8-34.8 77.6-47.4"/>
<path d="M86.0 609.0c25.9-7.4 51.8-21.1 77.6-41.3s51.8-46.1 77.6-68.6s51.8-41.2 77.6-54.6"/>
<path d="M86.0 609.5c25.9-6.3 51.8-16.9 77.6-32.4s51.8-35.5 77.6-55.1s51.8-38.1 77.6-53.0"/>
<path d="M86.0 591.8c25.9-12.3 51.8-29.6 77.6-48.1s51.8-37.5 77.6-53.6s51.8-29.4 77.6-39.8"/>
<path d="M86.0 600.7c25.9-11.1 51.8-29.7 77.6-52.0s51.8-46.7 77.6-66.4s51.8-34.7 77.6-45.6"/>
<path d="M86.0 605.6c25.9-8.2 51.8-21.6 77.6-39.4s51.8-39.3 77.6-58.8s51.8-36.6 77.6-49.9"/>
<path d="M86.0 604.6c25.9-7.6 51.8-19.2 77.6-33.9s51.8-32.3 77.6-49.1s51.8-32.7 77.6-45.9"/>
<path d="M86.0 587.5c25.9-13.7 51.8-32.2 77.6-51.2s51.8-37.7 77.6-53.3s51.8-28.0 77.6-37.7"/>
<path d="M86.0 594.8c25.9-12.8 51.8-32.2 77.6-53.5s51.8-43.3 77.6-61.0s51.8-31.4 77.6-41.6"/>
<path d="M86.0 599.4c25.9-10.9 51.8-28.2 77.6-48.5s51.8-42.6 77.6-61.2s51.8-33.7 77.6-45.0"/>
<path d="M86.0 606.6c25.9-6.7 51.8-17.0 77.6-30.5s51.8-30.0 77.6-46.4s51.8-32.4 77.6-46.0"/>
<path d="M86.0 594.0c25.9-10.8 51.8-25.7 77.6-41.9s51.8-33.5 77.6-48.9s51.8-28.8 77.6-39.8"/>
<path d="M86.0 608.4c25.9-6.9 51.8-18.5 77.6-35.0s51.8-37.3 77.6-57.1s51.8-38.1 77.6-52.4"/>
<path d="M86.0 593.5c25.9-9.8 51.8-22.5 77.6-36.4s51.8-28.6 77.6-42.2s51.8-26.1 77.6-36.8"/>
<path d="M86.0 608.8c25.9-7.2 51.8-19.9 77.6-38.4s51.8-42.2 77.6-63.6s51.8-40.2 77.6-54.2"/>
<path d="M86.0 608.7c25.9-7.3 51.8-20.5 77.6-39.5s51.8-43.3 77.6-65.0s51.8-40.3 77.6-54.1"/>
<path d="M86.0 597.1c25.9-12.0 51.8-30.6 77.6-51.7s51.8-43.6 77.6-61.8s51.8-32.6 77.6-43.2"/>
<path d="M86.0 598.7c25.9-8.8 51.8-21.0 77.6-35.1s51.8-29.7 77.6-44.4s51.8-28.4 77.6-40.1"/>
<path d="M86.0 607.3c25.9-8.0 51.8-22.3 77.6-42.3s51.8-44.6 77.6-66.1s51.8-39.4 77.6-52.5"/>
<path d="M86.0 604.9c25.9-9.0 51.8-24.3 77.6-44.2s51.8-43.7 77.6-64.1s51.8-37.3 77.6-49.8"/>
<path d="M86.0 605.8c25.9-8.2 51.8-21.9 77.6-40.0s51.8-40.1 77.6-59.9s51.8-37.0 77.6-50.3"/>
<path d="M86.0 602.5c25.9-8.9 51.8-22.7 77.6-39.7s51.8-36.7 77.6-54.6s51.8-33.7 77.6-46.4"/>
<path d="M86.0 597.5c25.9-8.8 51.8-20.5 77.6-33.8s51.8-27.8 77.6-41.6s51.8-26.8 77.6-38.0"/>
<path d="M86.0 597.4c25.9-9.7 51.8-23.2 77.6-38.6s51.8-32.3 77.6-47.8s51.8-29.4 77.6-41.0"/>
<path d="M86.0 608.7c25.9-7.0 51.8-19.3 77.6-36.9s51.8-40.2 77.6-61.1s51.8-39.5 77.6-53.7"/>
<path d="M86.0 614.0c25.9-5.3 51.8-16.6 77.6-38.8s51.8-54.7 77.6-82.1s51.8-48.2 77.6-61.7"/>
<path d="M86.0 594.7c25.9-11.6 51.8-28.5 77.6-47.1s51.8-38.2 77.6-54.9s51.8-30.6 77.6-41.5"/>
<path d="M86.0 602.2c25.9-10.1 51.8-26.8 77.6-47.4s51.8-44.0 77.6-63.6s51.8-35.5 77.6-47.3"/>
<path d="M86.0 609.8c25.9-6.8 51.8-19.3 77.6-38.2s51.8-43.4 77.6-65.6s51.8-41.4 77.6-55.6"/>
<path d="M86.0 580.7c25.9-9.4 51.8-19.8 77.6-30.0s51.8-20.4 77.6-29.8s51.8-18.1 77.6-26.0"/>
<path d="M86.0 595.4c25.9-11.4 51.8-28.0 77.6-46.4s51.8-38.0 77.6-54.9s51.8-30.9 77.6-41.9"/>
<path d="M86.0 591.7c25.9-12.7 51.8-30.9 77.6-50.1s51.8-39.0 77.6-55.4s51.8-29.7 77.6-39.9"/>
<path d="M86.0 612.2c25.9-5.7 51.8-16.6 77.6-34.8s51.8-43.4 77.6-66.9s51.8-44.3 77.6-59.5"/>
<path d="M86.0 607.1c25.9-7.4 51.8-19.7 77.6-36.5s51.8-37.5 77.6-56.9s51.8-37.0 77.6-50.9"/>
<path d="M86.0 598.0c25.9-11.7 51.8-30.2 77.6-51.4s51.8-43.9 77.6-62.5s51.8-33.1 77.6-43.9"/>
<path d="M86.0 603.6c25.9-9.0 51.8-23.6 77.6-42.1s51.8-40.2 77.6-59.3s51.8-35.6 77.6-48.3"/>
<path d="M86.0 593.7c25.9-11.7 51.8-28.2 77.6-46.2s51.8-36.9 77.6-53.2s51.8-29.9 77.6-40.7"/>
<path d="M86.0 604.0c25.9-9.5 51.8-25.6 77.6-46.4s51.8-44.9 77.6-65.2s51.8-36.8 77.6-48.9"/>
<path d="M86.0 590.0c25.9-14.1 51.8-34.6 77.6-55.7s51.8-42.1 77.6-58.7s51.8-29.3 77.6-38.8"/>
<path d="M86.0 608.9c25.9-7.0 51.8-19.3 77.6-37.1s51.8-40.7 77.6-61.8s51.8-39.8 77.6-54.0"/>
<path d="M86.0 605.6c25.9-8.3 51.8-22.1 77.6-40.3s51.8-40.2 77.6-60.0s51.8-36.9 77.6-50.1"/>
<path d="M86.0 608.2c25.9-7.9 51.8-22.3 77.6-43.1s51.8-46.7 77.6-69.0s51.8-40.4 77.6-53.4"/>
<path d="M86.0 604.4c25.9-8.4 51.8-21.7 77.6-38.8s51.8-37.4 77.6-55.9s51.8-35.1 77.6-48.3"/>
<path d="M86.0 606.0c25.9-6.6 51.8-16.4 77.6-28.9s51.8-27.6 77.6-42.8s51.8-30.2 77.6-43.3"/>
<path d="M86.0 591.2c25.9-12.9 51.8-31.1 77.6-50.3s51.8-38.8 77.6-55.1s51.8-29.4 77.6-39.6"/>
<path d="M86.0 597.5c25.9-9.4 51.8-22.5 77.6-37.3s51.8-31.2 77.6-46.3s51.8-28.9 77.6-40.4"/>
<path d="M86.0 601.8c25.9-10.0 51.8-26.2 77.6-46.1s51.8-42.4 77.6-61.6s51.8-35.0 77.6-46.9"/>
<path d="M86.0 609.2c25.9-6.7 51.8-18.5 77.6-35.7s51.8-39.3 77.6-60.1s51.8-39.6 77.6-54.1"/>
<path d="M86.0 606.0c25.9-8.7 51.8-23.8 77.6-44.1s51.8-44.9 77.6-65.9s51.8-38.3 77.6-50.9"/>
<path d="M86.0 611.8c25.9-6.1 51.8-18.0 77.6-37.6s51.8-46.6 77.6-70.7s51.8-44.5 77.6-58.9"/>
<path d="M86.0 600.6c25.9-10.1 51.8-25.9 77.6-44.9s51.8-40.3 77.6-58.7s51.8-33.9 77.6-45.8"/>
<path d="M86.0 603.1c25.9-8.7 51.8-22.4 77.6-39.5s51.8-37.0 77.6-55.1s51.8-34.2 77.6-47.0"/>
<path d="M86.0 597.8c25.9-11.1 51.8-28.0 77.6-47.3s51.8-40.3 77.6-58.2s51.8-32.5 77.6-43.7"/>
<path d="M86.0 602.5c25.9-10.3 51.8-27.7 77.6-49.3s51.8-46.1 77.6-66.2s51.8-35.8 77.6-47.3"/>
<path d="M86.0 602.9c25.9-10.4 51.8-28.5 77.6-51.1s51.8-48.2 77.6-68.7s51.8-36.1 77.6-47.3"/>
<path d="M86.0 588.5c25.9-10.8 51.8-24.3 77.6-38.3s51.8-28.4 77.6-41.5s51.8-24.8 77.6-34.8"/>
<path d="M86.0 606.0c25.9-8.7 51.8-23.9 77.6-44.3s51.8-45.2 77.6-66.3s51.8-38.3 77.6-51.0"/>
<path d="M86.0 605.3c25.9-8.8 51.8-23.8 77.6-43.6s51.8-43.5 77.6-63.9s51.8-37.5 77.6-50.2"/>
<path d="M86.0 602.2c25.9-9.0 51.8-22.8 77.6-39.6s51.8-36.4 77.6-54.1s51.8-33.4 77.6-46.0"/>
<path d="M86.0 611.2c25.9-6.2 51.8-17.8 77.6-36.4s51.8-43.6 77.6-66.5s51.8-43.1 77.6-57.8"/>
<path d="M86.0 599.1c25.9-10.1 51.8-25.3 77.6-43.0s51.8-37.4 77.6-54.8s51.8-32.3 77.6-44.1"/>
<path d="M86.0 606.1c25.9-7.5 51.8-19.4 77.6-35.1s51.8-34.9 77.6-53.1s51.8-35.1 77.6-48.8"/>
<path d="M86.0 600.4c25.9-11.1 51.8-29.6 77.6-51.6s51.8-46.2 77.6-65.7s51.8-34.5 77.6-45.4"/>
<path d="M86.0 611.0c25.9-6.4 51.8-18.4 77.6-37.6s51.8-44.8 77.6-68.0s51.8-43.1 77.6-57.5"/>
<path d="M86.0 603.6c25.9-10.3 51.8-28.5 77.6-51.6s51.8-49.4 77.6-70.3s51.8-36.6 77.6-47.7"/>
<path d="M86.0 606.4c25.9-8.9 51.8-25.1 77.6-47.3s51.8-48.8 77.6-70.7s51.8-38.9 77.6-50.9"/>
<path d="M86.0 605.2c25.9-9.1 51.8-24.9 77.6-45.9s51.8-45.9 77.6-66.8s51.8-37.8 77.6-50.1"/>
<path d="M86.0 611.3c25.9-6.2 51.8-18.1 77.6-37.1s51.8-44.9 77.6-68.3s51.8-43.6 77.6-58.1"/>
<path d="M86.0 611.1c25.9-6.8 51.8-20.4 77.6-42.6s51.8-51.7 77.6-76.4s51.8-43.8 77.6-56.8"/>
<path d="M86.0 611.1c25.9-5.7 51.8-15.7 77.6-31.1s51.8-36.1 77.6-56.6s51.8-40.1 77.6-55.6"/>
<path d="M86.0 596.7c25.9-11.4 51.8-28.6 77.6-47.9s51.8-40.1 77.6-57.7s51.8-31.9 77.6-43.0"/>
<path d="M86.0 605.4c25.9-9.0 51.8-24.6 77.6-45.3s51.8-45.4 77.6-66.3s51.8-37.9 77.6-50.3"/>
<path d="M86.0 597.0c25.9-10.9 51.8-27.0 77.6-45.3s51.8-38.1 77.6-55.2s51.8-31.6 77.6-42.9"/>
<path d="M86.0 608.2c25.9-7.7 51.8-21.6 77.6-41.5s51.8-45.0 77.6-66.9s51.8-40.2 77.6-53.6"/>
<path d="M86.0 598.6c25.9-11.4 51.8-29.4 77.6-50.3s51.8-43.5 77.6-62.1s51.8-33.4 77.6-44.4"/>
<path d="M86.0 603.7c25.9-9.1 51.8-24.1 77.6-43.1s51.8-41.2 77.6-60.6s51.8-35.9 77.6-48.5"/>
<path d="M86.0 590.4c25.9-12.3 51.8-29.0 77.6-46.6s51.8-35.7 77.6-51.1s51.8-28.4 77.6-38.8"/>
<path d="M86.0 607.4c25.9-7.2 51.8-19.0 77.6-35.1s51.8-36.3 77.6-55.3s51.8-36.7 77.6-50.7"/>
<path d="M86.0 603.1c25.9-8.2 51.8-20.7 77.6-36.1s51.8-33.5 77.6-50.4s51.8-32.5 77.6-45.4"/>
<path d="M86.0 605.1c25.9-8.8 51.8-23.6 77.6-43.1s51.8-42.8 77.6-63.1s51.8-37.3 77.6-50.0"/>
<path d="M86.0 609.5c25.9-6.7 51.8-18.6 77.6-36.2s51.8-40.4 77.6-61.6s51.8-40.3 77.6-54.8"/>
<path d="M86.0 610.1c25.9-6.2 51.8-16.8 77.6-32.6s51.8-36.5 77.6-56.7s51.8-39.2 77.6-54.2"/>
<path d="M86.0 600.7c25.9-8.2 51.8-19.6 77.6-33.0s51.8-28.7 77.6-43.2s51.8-28.4 77.6-40.4"/>
<path d="M86.0 597.7c25.9-10.9 51.8-27.2 77.6-45.9s51.8-39.0 77.6-56.5s51.8-32.1 77.6-43.5"/>
<path d="M86.0 602.9c25.9-8.5 51.8-21.6 77.6-37.8s51.8-35.1 77.6-52.6s51.8-33.3 77.6-46.1"/>
<path d="M86.0 600.8c25.9-10.1 51.8-26.1 77.6-45.2s51.8-40.8 77.6-59.3s51.8-34.1 77.6-46.0"/>
<path d="M86.0 608.1c25.9-7.8 51.8-21.9 77.6-42.1s51.8-45.6 77.6-67.5s51.8-40.2 77.6-53.4"/>
<path d="M86.0 602.5c25.9-8.7 51.8-22.0 77.6-38.2s51.8-35.2 77.6-52.6s51.8-33.1 77.6-45.8"/>
<path d="M86.0 609.7c25.9-7.0 51.8-19.8 77.6-39.0s51.8-44.3 77.6-66.7s51.8-41.5 77.6-55.5"/>
<path d="M86.0 606.4c25.9-9.0 51.8-25.7 77.6-48.5s51.8-50.2 77.6-72.3s51.8-38.9 77.6-50.7"/>
<path d="M86.0 602.0c25.9-9.4 51.8-24.2 77.6-42.3s51.8-38.9 77.6-57.2s51.8-34.2 77.6-46.6"/>
<path d="M86.0 596.9c25.9-11.2 51.8-28.1 77.6-47.1s51.8-39.6 77.6-57.0s51.8-31.9 77.6-43.1"/>
<path d="M86.0 604.1c25.9-9.6 51.8-26.3 77.6-47.7s51.8-46.4 77.6-67.0s51.8-37.0 77.6-48.8"/>
<path d="M86.0 604.6c25.9-8.3 51.8-21.5 77.6-38.5s51.8-37.3 77.6-55.9s51.8-35.2 77.6-48.4"/>
<path d="M86.0 610.8c25.9-6.8 51.8-19.9 77.6-40.8s51.8-48.8 77.6-72.8s51.8-43.4 77.6-57.0"/>
<path d="M86.0 590.8c25.9-14.4 51.8-35.7 77.6-57.9s51.8-43.9 77.6-60.9s51.8-29.6 77.6-38.9"/>
<path d="M86.0 584.2c25.9-10.9 51.8-23.9 77.6-37.0s51.8-26.3 77.6-38.2s51.8-22.6 77.6-31.9"/>
<path d="M86.0 602.0c25.9-9.6 51.8-25.0 77.6-43.8s51.8-40.4 77.6-59.2s51.8-34.7 77.6-46.9"/>
<path d="M86.0 609.4c25.9-6.7 51.8-18.7 77.6-36.2s51.8-40.3 77.6-61.5s51.8-40.2 77.6-54.7"/>
<path d="M86.0 606.5c25.9-7.2 51.8-18.7 77.6-33.9s51.8-33.8 77.6-51.7s51.8-34.7 77.6-48.5"/>
<path d="M86.0 593.4c25.9-10.8 51.8-25.5 77.6-41.4s51.8-32.8 77.6-47.9s51.8-28.3 77.6-39.2"/>
<path d="M86.0 605.7c25.9-9.2 51.8-25.7 77.6-47.8s51.8-48.4 77.6-70.0s51.8-38.3 77.6-50.2"/>
<path d="M86.0 599.0c25.9-8.5 51.8-20.2 77.6-33.7s51.8-28.5 77.6-42.7s51.8-27.7 77.6-39.3"/>
<path d="M86.0 600.4c25.9-10.3 51.8-26.6 77.6-46.1s51.8-41.2 77.6-59.8s51.8-34.0 77.6-45.8"/>
<path d="M86.0 605.0c25.9-7.8 51.8-20.0 77.6-35.7s51.8-34.6 77.6-52.4s51.8-34.2 77.6-47.6"/>
<path d="M86.0 602.3c25.9-9.3 51.8-23.9 77.6-41.8s51.8-38.7 77.6-57.2s51.8-34.4 77.6-46.9"/>
<path d="M86.0 602.2c25.9-10.1 51.8-27.0 77.6-47.7s51.8-44.3 77.6-64.0s51.8-35.5 77.6-47.2"/>
<path d="M86.0 604.6c25.9-10.2 51.8-29.2 77.6-53.8s51.8-52.7 77.6-74.3s51.8-37.0 77.6-47.6"/>
<path d="M86.0 606.3c25.9-8.8 51.8-24.8 77.6-46.6s51.8-48.0 77.6-69.7s51.8-38.8 77.6-51.0"/>
<path d="M86.0 602.4c25.9-10.5 51.8-28.6 77.6-50.9s51.8-47.5 77.6-67.7s51.8-35.8 77.6-46.9"/>
<path d="M86.0 610.0c25.9-6.5 51.8-18.0 77.6-35.3s51.8-40.1 77.6-61.5s51.8-40.7 77.6-55.4"/>
<path d="M86.0 610.0c25.9-7.2 51.8-20.9 77.6-42.2s51.8-48.9 77.6-72.5s51.8-42.5 77.6-55.7"/>
<path d="M86.0 605.3c25.9-8.7 51.8-23.6 77.6-43.2s51.8-43.1 77.6-63.5s51.8-37.5 77.6-50.2"/>
<path d="M86.0 609.7c25.9-7.4 51.8-21.8 77.6-43.7s51.8-50.2 77.6-73.9s51.8-42.2 77.6-55.0"/>
<path d="M86.0 600.5c25.9-9.9 51.8-25.2 77.6-43.4s51.8-38.8 77.6-56.8s51.8-33.4 77.6-45.5"/>
<path d="M86.0 598.8c25.9-10.3 51.8-25.9 77.6-43.9s51.8-38.1 77.6-55.6s51.8-32.4 77.6-44.1"/>
<path d="M86.0 602.2c25.9-9.5 51.8-24.8 77.6-43.5s51.8-40.2 77.6-59.0s51.8-34.8 77.6-47.0"/>
<path d="M86.0 610.7c25.9-7.0 51.8-20.9 77.6-43.0s51.8-51.3 77.6-75.7s51.8-43.3 77.6-56.2"/>
<path d="M86.0 604.3c25.9-8.6 51.8-22.4 77.6-40.2s51.8-38.9 77.6-57.8s51.8-35.6 77.6-48.6"/>
<path d="M86.0 606.8c25.9-8.1 51.8-22.1 77.6-41.4s51.8-42.9 77.6-63.8s51.8-38.6 77.6-51.9"/>
<path d="M86.0 602.8c25.9-8.2 51.8-20.5 77.6-35.6s51.8-32.7 77.6-49.3s51.8-31.9 77.6-44.7"/>
<path d="M86.0 605.8c25.9-8.5 51.8-23.0 77.6-42.4s51.8-42.8 77.6-63.2s51.8-37.8 77.6-50.7"/>
<path d="M86.0 599.8c25.9-9.8 51.8-24.5 77.6-41.9s51.8-36.9 77.6-54.2s51.8-32.5 77.6-44.5"/>
<path d="M86.0 607.9c25.9-7.3 51.8-19.9 77.6-37.5s51.8-39.8 77.6-60.2s51.8-38.6 77.6-52.5"/>
<path d="M86.0 599.5c25.9-11.4 51.8-29.9 77.6-51.5s51.8-45.3 77.6-64.4s51.8-33.9 77.6-44.8"/>
<path d="M86.0 604.6c25.9-9.0 51.8-24.1 77.6-43.8s51.8-42.9 77.6-63.0s51.8-36.9 77.6-49.5"/>
<path d="M86.0 604.1c25.9-8.2 51.8-21.0 77.6-37.1s51.8-35.4 77.6-53.2s51.8-34.1 77.6-47.2"/>
<path d="M86.0 605.2c25.9-8.5 51.8-22.6 77.6-41.0s51.8-40.7 77.6-60.4s51.8-36.8 77.6-49.9"/>
<path d="M86.0 594.5c25.9-10.5 51.8-24.9 77.6-40.6s51.8-32.7 77.6-47.9s51.8-28.6 77.6-39.7"/>
<path d="M86.0 607.9c25.9-8.6 51.8-25.2 77.6-49.0s51.8-53.0 77.6-76.1s51.8-40.0 77.6-51.6"/>
<path d="M86.0 605.7c25.9-8.3 51.8-22.4 77.6-41.1s51.8-41.3 77.6-61.3s51.8-37.3 77.6-50.5"/>
<path d="M86.0 606.1c25.9-8.6 51.8-23.8 77.6-44.2s51.8-45.1 77.6-66.2s51.8-38.4 77.6-51.1"/>
<path d="M86.0 612.8c25.9-5.3 51.8-15.5 77.6-33.1s51.8-42.3 77.6-66.0s51.8-45.0 77.6-60.6"/>
<path d="M86.0 609.9c25.9-6.9 51.8-19.8 77.6-39.3s51.8-45.0 77.6-67.7s51.8-41.9 77.6-55.9"/>
<path d="M86.0 600.1c25.9-9.9 51.8-24.9 77.6-42.7s51.8-37.8 77.6-55.5s51.8-32.9 77.6-44.9"/>
<path d="M86.0 607.7c25.9-7.9 51.8-21.9 77.6-41.6s51.8-44.3 77.6-65.9s51.8-39.6 77.6-52.9"/>
<path d="M86.0 603.5c25.9-8.4 51.8-21.3 77.6-37.5s51.8-35.3 77.6-52.9s51.8-33.7 77.6-46.7"/>
<path d="M86.0 592.5c25.9-10.0 51.8-23.1 77.6-37.1s51.8-28.8 77.6-42.4s51.8-26.0 77.6-36.5"/>
<path d="M86.0 601.7c25.9-10.7 51.8-28.7 77.6-50.8s51.8-46.6 77.6-66.5s51.8-35.3 77.6-46.5"/>
<path d="M86.0 608.5c25.9-7.7 51.8-21.7 77.6-42.1s51.8-46.2 77.6-68.5s51.8-40.7 77.6-53.9"/>
<path d="M86.0 605.4c25.9-7.9 51.8-20.6 77.6-37.1s51.8-36.5 77.6-55.1s51.8-35.4 77.6-48.9"/>
<path d="M86.0 602.6c25.9-10.8 51.8-29.9 77.6-53.6s51.8-50.1 77.6-70.7s51.8-35.7 77.6-46.4"/>
<path d="M86.0 587.0c25.9-7.5 51.8-15.7 77.6-24.0s51.8-16.7 77.6-24.7s51.8-15.7 77.6-22.9"/>
<path d="M86.0 610.4c25.9-6.5 51.8-18.2 77.6-36.2s51.8-41.8 77.6-63.8s51.8-41.6 77.6-56.3"/>
<path d="M86.0 603.1c25.9-8.8 51.8-22.6 77.6-39.7s51.8-37.3 77.6-55.5s51.8-34.3 77.6-47.1"/>
<path d="M86.0 594.1c25.9-11.3 51.8-27.3 77.6-44.8s51.8-36.0 77.6-52.1s51.8-29.8 77.6-40.8"/>
<path d="M86.0 606.3c25.9-8.5 51.8-23.5 77.6-43.8s51.8-44.9 77.6-66.1s51.8-38.5 77.6-51.3"/>
<path d="M86.0 603.5c25.9-9.5 51.8-25.4 77.6-45.5s51.8-43.4 77.6-63.3s51.8-36.2 77.6-48.4"/>
<path d="M86.0 607.2c25.9-7.7 51.8-20.9 77.6-39.0s51.8-40.7 77.6-61.1s51.8-38.3 77.6-52.0"/>
<path d="M86.0 609.9c25.9-6.9 51.8-19.8 77.6-39.5s51.8-45.4 77.6-68.2s51.8-42.1 77.6-55.9"/>
<path d="M86.0 584.6c25.9-15.1 51.8-35.5 77.6-55.6s51.8-39.4 77.6-54.8s51.8-27.2 77.6-36.2"/>
<path d="M86.0 607.1c25.9-6.7 51.8-17.0 77.6-30.9s51.8-30.9 77.6-47.7s51.8-33.3 77.6-47.2"/>
<path d="M86.0 607.0c25.9-8.4 51.8-23.6 77.6-44.7s51.8-46.9 77.6-68.7s51.8-39.4 77.6-52.0"/>
<path d="M86.0 592.6c25.9-12.1 51.8-29.2 77.6-47.5s51.8-37.5 77.6-53.7s51.8-29.7 77.6-40.3"/>
<path d="M86.0 610.6c25.9-6.5 51.8-18.6 77.6-37.4s51.8-43.7 77.6-66.4s51.8-42.4 77.6-56.8"/>
<path d="M86.0 610.6c25.9-6.4 51.8-17.9 77.6-35.8s51.8-41.7 77.6-63.8s51.8-41.8 77.6-56.6"/>
<path d="M86.0 607.3c25.9-7.9 51.8-21.8 77.6-41.1s51.8-43.3 77.6-64.5s51.8-39.1 77.6-52.5"/>
<path d="M86.0 604.8c25.9-9.3 51.8-25.6 77.6-46.9s51.8-46.3 77.6-67.2s51.8-37.5 77.6-49.5"/>
<path d="M86.0 592.2c25.9-11.8 51.8-28.1 77.6-45.6s51.8-35.7 77.6-51.5s51.8-29.0 77.6-39.7"/>
<path d="M86.0 601.8c25.9-9.7 51.8-25.3 77.6-44.3s51.8-40.7 77.6-59.6s51.8-34.7 77.6-46.8"/>
<path d="M86.0 608.0c25.9-8.0 51.8-22.9 77.6-44.1s51.8-47.7 77.6-70.1s51.8-40.3 77.6-53.1"/>
<path d="M86.0 599.3c25.9-9.6 51.8-23.8 77.6-40.4s51.8-35.1 77.6-51.8s51.8-31.5 77.6-43.5"/>
<path d="M86.0 603.4c25.9-8.5 51.8-21.7 77.6-38.3s51.8-36.0 77.6-53.9s51.8-34.0 77.6-46.9"/>
<path d="M86.0 594.0c25.9-11.5 51.8-27.8 77.6-45.7s51.8-36.7 77.6-53.0s51.8-30.0 77.6-40.9"/>
<path d="M86.0 600.4c25.9-10.9 51.8-28.6 77.6-49.7s51.8-44.5 77.6-63.7s51.8-34.4 77.6-45.7"/>
<path d="M86.0 594.5c25.9-10.2 51.8-24.1 77.6-39.4s51.8-31.6 77.6-46.4s51.8-28.1 77.6-39.1"/>
<path d="M86.0 605.7c25.9-8.7 51.8-23.9 77.6-44.1s51.8-44.5 77.6-65.3s51.8-38.0 77.6-50.7"/>
<path d="M86.0 612.1c25.9-5.5 51.8-15.6 77.6-32.1s51.8-39.3 77.6-61.5s51.8-42.9 77.6-58.6"/>
<path d="M86.0 598.8c25.9-11.7 51.8-30.8 77.6-52.8s51.8-45.8 77.6-64.8s51.8-33.5 77.6-44.2"/>
<path d="M86.0 611.8c25.9-6.6 51.8-20.3 77.6-43.6s51.8-54.8 77.6-80.4s51.8-44.6 77.6-57.1"/>
<path d="M86.0 590.8c25.9-12.5 51.8-29.8 77.6-48.0s51.8-37.0 77.6-52.8s51.8-28.9 77.6-39.2"/>
<path d="M86.0 601.9c25.9-9.4 51.8-24.2 77.6-42.4s51.8-38.9 77.6-57.3s51.8-34.2 77.6-46.6"/>
<path d="M86.0 584.4c25.9-10.7 51.8-23.2 77.6-36.0s51.8-25.5 77.6-37.2s51.8-22.2 77.6-31.4"/>
<path d="M86.0 595.4c25.9-11.3 51.8-27.8 77.6-46.1s51.8-37.8 77.6-54.6s51.8-30.9 77.6-41.9"/>
<path d="M86.0 601.4c25.9-9.7 51.8-24.9 77.6-43.4s51.8-39.5 77.6-57.9s51.8-34.1 77.6-46.3"/>
<path d="M86.0 597.5c25.9-11.1 51.8-28.1 77.6-47.4s51.8-40.2 77.6-57.9s51.8-32.3 77.6-43.6"/>
<path d="M86.0 607.8c25.9-7.4 51.8-20.1 77.6-37.9s51.8-40.1 77.6-60.6s51.8-38.6 77.6-52.5"/>
<path d="M86.0 594.9c25.9-12.2 51.8-30.4 77.6-50.4s51.8-41.0 77.6-58.4s51.8-31.3 77.6-41.9"/>
<path d="M86.0 599.4c25.9-11.3 51.8-29.6 77.6-51.0s51.8-44.8 77.6-63.8s51.8-33.9 77.6-44.8"/>
<path d="M86.0 610.9c25.9-6.5 51.8-18.9 77.6-38.6s51.8-46.1 77.6-69.5s51.8-43.3 77.6-57.4"/>
<path d="M86.0 609.7c25.9-6.8 51.8-19.1 77.6-37.5s51.8-42.4 77.6-64.3s51.8-41.2 77.6-55.5"/>
<path d="M86.0 606.6c25.9-7.9 51.8-21.4 77.6-39.7s51.8-40.7 77.6-61.0s51.8-37.9 77.6-51.3"/>
<path d="M86.0 602.1c25.9-8.3 51.8-20.5 77.6-35.2s51.8-31.8 77.6-47.9s51.8-31.1 77.6-43.7"/>
<path d="M86.0 600.1c25.9-10.8 51.8-28.3 77.6-49.1s51.8-43.6 77.6-62.6s51.8-34.2 77.6-45.5"/>
<path d="M86.0 599.9c25.9-9.9 51.8-24.8 77.6-42.4s51.8-37.4 77.6-54.9s51.8-32.7 77.6-44.7"/>
<path d="M86.0 590.5c25.9-11.4 51.8-26.5 77.6-42.5s51.8-32.5 77.6-47.1s51.8-27.3 77.6-37.7"/>
<path d="M86.0 605.5c25.9-7.8 51.8-20.1 77.6-36.2s51.8-35.6 77.6-53.8s51.8-35.0 77.6-48.5"/>
<path d="M86.0 601.5c25.9-8.7 51.8-21.7 77.6-37.4s51.8-33.6 77.6-50.3s51.8-31.8 77.6-44.3"/>
<path d="M86.0 602.2c25.9-9.3 51.8-24.0 77.6-42.1s51.8-38.9 77.6-57.3s51.8-34.4 77.6-46.8"/>
<path d="M86.0 610.8c25.9-6.7 51.8-19.7 77.6-40.3s51.8-48.0 77.6-71.9s51.8-43.4 77.6-57.0"/>
<path d="M86.0 606.1c25.9-9.2 51.8-26.0 77.6-48.7s51.8-49.9 77.6-71.8s51.8-38.6 77.6-50.3"/>
<path d="M86.0 599.7c25.9-9.8 51.8-24.6 77.6-42.0s51.8-36.9 77.6-54.2s51.8-32.4 77.6-44.4"/>
<path d="M86.0 605.5c25.9-7.5 51.8-19.2 77.6-34.4s51.8-33.6 77.6-51.1s51.8-34.0 77.6-47.5"/>
<path d="M86.0 606.2c25.9-6.9 51.8-17.5 77.6-31.2s51.8-30.4 77.6-46.9s51.8-32.4 77.6-45.9"/>
<path d="M86.0 608.5c25.9-8.2 51.8-23.8 77.6-46.7s51.8-51.4 77.6-74.6s51.8-40.8 77.6-52.9"/>
<path d="M86.0 592.5c25.9-12.0 51.8-28.7 77.6-46.7s51.8-36.8 77.6-52.8s51.8-29.5 77.6-40.1"/>
<path d="M86.0 595.4c25.9-11.0 51.8-26.8 77.6-44.4s51.8-36.4 77.6-52.8s51.8-30.4 77.6-41.6"/>
<path d="M86.0 599.0c25.9-10.8 51.8-27.7 77.6-47.3s51.8-41.3 77.6-59.5s51.8-33.3 77.6-44.7"/>
<path d="M86.0 611.6c25.9-6.9 51.8-21.3 77.6-45.8s51.8-57.2 77.6-82.8s51.8-43.9 77.6-55.8"/>
<path d="M86.0 610.8c25.9-7.3 51.8-22.4 77.6-46.7s51.8-56.0 77.6-81.0s51.8-42.9 77.6-54.7"/>
<path d="M86.0 600.1c25.9-10.0 51.8-25.2 77.6-43.3s51.8-38.4 77.6-56.2s51.8-33.1 77.6-45.1"/>
<path d="M86.0 607.5c25.9-8.9 51.8-26.1 77.6-50.4s51.8-53.8 77.6-76.7s51.8-39.5 77.6-50.8"/>
<path d="M86.0 605.0c25.9-8.3 51.8-21.8 77.6-39.4s51.8-38.6 77.6-57.7s51.8-36.0 77.6-49.2"/>
<path d="M86.0 606.2c25.9-7.4 51.8-19.1 77.6-34.6s51.8-34.4 77.6-52.3s51.8-34.8 77.6-48.5"/>
<path d="M86.0 598.9c25.9-10.9 51.8-27.9 77.6-47.7s51.8-41.5 77.6-59.9s51.8-33.3 77.6-44.6"/>
<path d="M86.0 595.5c25.9-9.7 51.8-22.9 77.6-37.5s51.8-30.4 77.6-44.9s51.8-27.7 77.6-38.9"/>
<path d="M86.0 605.9c25.9-8.8 51.8-24.1 77.6-44.8s51.8-45.5 77.6-66.5s51.8-38.3 77.6-50.8"/>
<path d="M86.0 602.2c25.9-9.9 51.8-26.2 77.6-46.2s51.8-42.9 77.6-62.4s51.8-35.4 77.6-47.3"/>
<path d="M86.0 612.9c25.9-5.4 51.8-15.8 77.6-34.0s51.8-43.9 77.6-68.1s51.8-45.6 77.6-60.9"/>
<path d="M86.0 602.1c25.9-9.3 51.8-24.1 77.6-42.1s51.8-38.9 77.6-57.3s51.8-34.3 77.6-46.7"/>
<path d="M86.0 580.8c25.9-12.1 51.8-26.4 77.6-40.5s51.8-28.0 77.6-40.2s51.8-23.0 77.6-32.1"/>
<path d="M86.0 602.2c25.9-9.3 51.8-24.0 77.6-42.1s51.8-38.9 77.6-57.3s51.8-34.4 77.6-46.8"/>
<path d="M86.0 608.3c25.9-8.0 51.8-22.9 77.6-44.4s51.8-48.6 77.6-71.2s51.8-40.7 77.6-53.4"/>
<path d="M86.0 586.1c25.9-11.6 51.8-26.2 77.6-41.0s51.8-29.8 77.6-43.1s51.8-24.9 77.6-34.7"/>
<path d="M86.0 605.0c25.9-8.5 51.8-22.4 77.6-40.6s51.8-40.0 77.6-59.5s51.8-36.4 77.6-49.5"/>
<path d="M86.0 593.1c25.9-10.8 51.8-25.5 77.6-41.4s51.8-32.7 77.6-47.6s51.8-28.1 77.6-39.0"/>
<path d="M86.0 609.8c25.9-6.3 51.8-17.1 77.6-33.2s51.8-37.0 77.6-57.2s51.8-39.2 77.6-54.1"/>
<path d="M86.0 601.4c25.9-9.9 51.8-25.5 77.6-44.5s51.8-40.6 77.6-59.4s51.8-34.4 77.6-46.5"/>
<path d="M86.0 613.6c25.9-4.9 51.8-14.4 77.6-31.5s51.8-41.9 77.6-65.9s51.8-46.1 77.6-62.1"/>
<path d="M86.0 609.2c25.9-5.8 51.8-14.9 77.6-27.5s51.8-28.7 77.6-45.1s51.8-33.1 77.6-47.5"/>
<path d="M86.0 592.9c25.9-13.4 51.8-33.4 77.6-54.8s51.8-43.1 77.6-60.4s51.8-30.5 77.6-40.4"/>
<path d="M86.0 593.5c25.9-10.9 51.8-25.8 77.6-42.1s51.8-33.5 77.6-48.7s51.8-28.6 77.6-39.6"/>
<path d="M86.0 586.3c25.9-13.0 51.8-30.0 77.6-47.3s51.8-34.5 77.6-49.2s51.8-26.9 77.6-36.6"/>
<path d="M86.0 602.7c25.9-9.5 51.8-24.9 77.6-44.1s51.8-41.3 77.6-60.5s51.8-35.3 77.6-47.6"/>
<path d="M86.0 609.8c25.9-6.6 51.8-18.5 77.6-36.3s51.8-40.9 77.6-62.4s51.8-40.7 77.6-55.2"/>
<path d="M86.0 603.6c25.9-7.9 51.8-19.7 77.6-34.5s51.8-32.1 77.6-48.6s51.8-32.0 77.6-44.9"/>
<path d="M86.0 600.4c25.9-9.7 51.8-24.5 77.6-42.1s51.8-37.4 77.6-55.0s51.8-32.9 77.6-45.0"/>
<path d="M86.0 606.2c25.9-8.7 51.8-24.3 77.6-45.4s51.8-46.5 77.6-67.9s51.8-38.6 77.6-51.1"/>
<path d="M86.0 600.5c25.9-9.4 51.8-23.6 77.6-40.5s51.8-36.0 77.6-53.2s51.8-32.4 77.6-44.7"/>
<path d="M86.0 602.4c25.9-8.9 51.8-22.6 77.6-39.4s51.8-36.3 77.6-54.1s51.8-33.6 77.6-46.2"/>
<path d="M86.0 598.3c25.9-10.9 51.8-27.7 77.6-47.1s51.8-40.6 77.6-58.5s51.8-32.8 77.6-44.2"/>
<path d="M86.0 600.8c25.9-10.1 51.8-25.9 77.6-44.9s51.8-40.4 77.6-58.9s51.8-34.0 77.6-45.9"/>
<path d="M86.0 609.2c25.9-6.9 51.8-19.3 77.6-37.4s51.8-41.6 77.6-63.1s51.8-40.4 77.6-54.6"/>
<path d="M86.0 606.0c25.9-7.7 51.8-20.2 77.6-36.7s51.8-36.7 77.6-55.5s51.8-35.9 77.6-49.5"/>
<path d="M86.0 587.5c25.9-13.1 51.8-30.7 77.6-48.7s51.8-36.0 77.6-51.2s51.8-27.6 77.6-37.5"/>
<path d="M86.0 591.5c25.9-10.7 51.8-24.6 77.6-39.5s51.8-30.4 77.6-44.5s51.8-26.6 77.6-37.1"/>
<path d="M86.0 594.5c25.9-9.9 51.8-23.1 77.6-37.6s51.8-30.0 77.6-44.3s51.8-27.2 77.6-38.2"/>
<path d="M86.0 600.8c25.9-9.3 51.8-23.3 77.6-40.1s51.8-35.8 77.6-53.0s51.8-32.5 77.6-44.8"/>
<path d="M86.0 609.8c25.9-7.3 51.8-21.3 77.6-42.6s51.8-49.0 77.6-72.4s51.8-42.2 77.6-55.3"/>
<path d="M86.0 605.4c25.9-8.8 51.8-24.1 77.6-44.3s51.8-44.4 77.6-65.1s51.8-37.8 77.6-50.4"/>
<path d="M86.0 601.5c25.9-9.5 51.8-24.2 77.6-42.1s51.8-38.3 77.6-56.4s51.8-33.8 77.6-46.1"/>
<path d="M86.0 593.6c25.9-9.5 51.8-21.9 77.6-35.2s51.8-27.6 77.6-40.9s51.8-25.5 77.6-36.1"/>
<path d="M86.0 610.1c25.9-7.1 51.8-20.9 77.6-42.1s51.8-49.0 77.6-72.6s51.8-42.6 77.6-55.8"/>
<path d="M86.0 597.5c25.9-10.7 51.8-26.6 77.6-44.7s51.8-37.9 77.6-55.1s51.8-31.7 77.6-43.2"/>
<path d="M86.0 592.8c25.9-12.8 51.8-31.5 77.6-51.6s51.8-40.7 77.6-57.6s51.8-30.3 77.6-40.6"/>
<path d="M86.0 597.2c25.9-9.5 51.8-22.8 77.6-37.7s51.8-31.4 77.6-46.5s51.8-28.9 77.6-40.4"/>
<path d="M86.0 604.5c25.9-8.1 51.8-20.8 77.6-37.1s51.8-35.6 77.6-53.7s51.8-34.4 77.6-47.7"/>
<path d="M86.0 593.0c25.9-13.2 51.8-33.0 77.6-54.1s51.8-42.6 77.6-59.9s51.8-30.5 77.6-40.5"/>
<path d="M86.0 602.8c25.9-8.4 51.8-21.0 77.6-36.5s51.8-33.6 77.6-50.5s51.8-32.4 77.6-45.2"/>
<path d="M86.0 591.2c25.9-10.5 51.8-24.0 77.6-38.3s51.8-29.4 77.6-43.0s51.8-25.9 77.6-36.4"/>
<path d="M86.0 606.1c25.9-8.5 51.8-23.4 77.6-43.3s51.8-44.2 77.6-65.0s51.8-38.2 77.6-51.1"/>
<path d="M86.0 605.0c25.9-9.0 51.8-24.4 77.6-44.5s51.8-44.2 77.6-64.7s51.8-37.4 77.6-49.9"/>
<path d="M86.0 596.5c25.9-8.8 51.8-20.5 77.6-33.5s51.8-27.2 77.6-40.6s51.8-26.0 77.6-37.0"/>
<path d="M86.0 604.6c25.9-9.8 51.8-27.6 77.6-50.6s51.8-49.8 77.6-71.1s51.8-37.4 77.6-48.7"/>
<path d="M86.0 608.2c25.9-6.8 51.8-18.1 77.6-34.0s51.8-35.9 77.6-55.1s51.8-37.2 77.6-51.6"/>
<path d="M86.0 605.6c25.9-8.6 51.8-23.3 77.6-42.8s51.8-43.0 77.6-63.4s51.8-37.7 77.6-50.5"/>
<path d="M86.0 598.8c25.9-10.2 51.8-25.5 77.6-43.3s51.8-37.5 77.6-54.8s51.8-32.2 77.6-44.0"/>
<path d="M86.0 603.0c25.9-9.4 51.8-24.6 77.6-43.8s51.8-41.3 77.6-60.6s51.8-35.5 77.6-47.9"/>
<path d="M86.0 588.9c25.9-10.8 51.8-24.4 77.6-38.6s51.8-28.8 77.6-42.0s51.8-25.1 77.6-35.2"/>
<path d="M86.0 607.7c25.9-6.0 51.8-15.1 77.6-27.0s51.8-26.7 77.6-41.7s51.8-30.3 77.6-43.8"/>
<path d="M86.0 608.7c25.9-6.6 51.8-17.8 77.6-33.5s51.8-35.8 77.6-55.1s51.8-37.5 77.6-52.0"/>
</g>
<path d="M86.0 604.1c12.9-4.3 25.9-9.9 38.8-16.6s25.9-14.8 38.8-23.7s25.9-18.6 38.8-28.4s25.9-19.8 38.8-29.2s25.9-18.4 38.8-26.5s25.9-15.4 38.8-21.9" fill="none" stroke="#7ffcff" stroke-width="3.4"/>
</g>
<g clip-path="url(#c11)">
<g class="cr">
<path d="M423.8 551.4c25.9-13.5 51.8-26.8 77.6-38.5s51.8-22.2 77.6-31.1s51.8-16.5 77.6-23.0"/>
<path d="M423.8 541.9c25.9-16.1 51.8-31.5 77.6-44.6s51.8-24.1 77.6-33.2s51.8-16.3 77.6-22.3"/>
<path d="M423.8 558.5c25.9-13.0 51.8-26.1 77.6-38.0s51.8-22.7 77.6-32.0s51.8-17.4 77.6-24.3"/>
<path d="M423.8 553.3c25.9-13.9 51.8-27.7 77.6-40.0s51.8-23.2 77.6-32.5s51.8-17.2 77.6-23.8"/>
<path d="M423.8 559.8c25.9-13.2 51.8-26.7 77.6-39.0s51.8-23.4 77.6-33.1s51.8-17.9 77.6-25.0"/>
<path d="M423.8 557.0c25.9-16.0 51.8-32.6 77.6-47.2s51.8-27.4 77.6-38.0s51.8-19.1 77.6-26.1"/>
<path d="M423.8 549.7c25.9-15.0 51.8-29.8 77.6-42.7s51.8-24.1 77.6-33.6s51.8-17.2 77.6-23.7"/>
<path d="M423.8 570.4c25.9-14.6 51.8-31.2 77.6-46.5s51.8-29.5 77.6-41.5s51.8-21.8 77.6-30.0"/>
<path d="M423.8 566.4c25.9-13.6 51.8-28.2 77.6-41.7s51.8-26.0 77.6-36.7s51.8-19.9 77.6-27.6"/>
<path d="M423.8 544.7c25.9-12.8 51.8-24.9 77.6-35.6s51.8-20.0 77.6-28.1s51.8-14.9 77.6-20.8"/>
<path d="M423.8 548.2c25.9-12.9 51.8-25.3 77.6-36.3s51.8-20.7 77.6-29.1s51.8-15.5 77.6-21.7"/>
<path d="M423.8 545.2c25.9-14.3 51.8-28.0 77.6-39.9s51.8-22.2 77.6-31.0s51.8-16.0 77.6-22.1"/>
<path d="M423.8 525.3c25.9-12.1 51.8-22.6 77.6-31.6s51.8-16.7 77.6-23.2s51.8-12.1 77.6-16.8"/>
<path d="M423.8 542.4c25.9-13.0 51.8-25.2 77.6-35.8s51.8-19.9 77.6-27.9s51.8-14.7 77.6-20.5"/>
<path d="M423.8 528.3c25.9-11.3 51.8-21.3 77.6-29.9s51.8-16.0 77.6-22.4s51.8-11.9 77.6-16.6"/>
<path d="M423.8 552.0c25.9-14.2 51.8-28.2 77.6-40.6s51.8-23.3 77.6-32.7s51.8-17.1 77.6-23.7"/>
<path d="M423.8 563.4c25.9-13.9 51.8-28.6 77.6-42.1s51.8-25.7 77.6-36.2s51.8-19.4 77.6-26.8"/>
<path d="M423.8 553.8c25.9-15.4 51.8-31.0 77.6-44.7s51.8-25.7 77.6-35.7s51.8-18.2 77.6-25.0"/>
<path d="M423.8 535.2c25.9-13.4 51.8-25.5 77.6-36.0s51.8-19.4 77.6-27.1s51.8-14.0 77.6-19.4"/>
<path d="M423.8 552.2c25.9-13.4 51.8-26.5 77.6-38.2s51.8-22.1 77.6-31.1s51.8-16.5 77.6-23.0"/>
<path d="M423.8 549.2c25.9-15.7 51.8-31.2 77.6-44.7s51.8-25.1 77.6-34.7s51.8-17.4 77.6-23.9"/>
<path d="M423.8 549.0c25.9-13.0 51.8-25.4 77.6-36.5s51.8-20.9 77.6-29.3s51.8-15.7 77.6-21.9"/>
<path d="M423.8 549.7c25.9-12.9 51.8-25.4 77.6-36.5s51.8-20.9 77.6-29.5s51.8-15.8 77.6-22.0"/>
<path d="M423.8 549.1c25.9-13.9 51.8-27.3 77.6-39.2s51.8-22.3 77.6-31.2s51.8-16.4 77.6-22.7"/>
<path d="M423.8 530.9c25.9-14.6 51.8-27.7 77.6-38.9s51.8-20.4 77.6-28.2s51.8-14.1 77.6-19.4"/>
<path d="M423.8 553.2c25.9-14.5 51.8-28.9 77.6-41.8s51.8-24.1 77.6-33.7s51.8-17.5 77.6-24.2"/>
<path d="M423.8 552.1c25.9-13.1 51.8-25.9 77.6-37.3s51.8-21.6 77.6-30.4s51.8-16.3 77.6-22.7"/>
<path d="M423.8 553.3c25.9-15.0 51.8-30.2 77.6-43.5s51.8-25.0 77.6-34.9s51.8-17.9 77.6-24.6"/>
<path d="M423.8 564.7c25.9-14.3 51.8-29.7 77.6-43.8s51.8-26.9 77.6-37.8s51.8-20.0 77.6-27.6"/>
<path d="M423.8 551.8c25.9-14.1 51.8-28.1 77.6-40.4s51.8-23.2 77.6-32.5s51.8-17.0 77.6-23.6"/>
<path d="M423.8 547.3c25.9-15.6 51.8-30.8 77.6-44.0s51.8-24.5 77.6-33.9s51.8-17.0 77.6-23.4"/>
<path d="M423.8 542.6c25.9-15.1 51.8-29.4 77.6-41.8s51.8-22.9 77.6-31.7s51.8-16.0 77.6-22.0"/>
<path d="M423.8 550.6c25.9-14.5 51.8-28.8 77.6-41.5s51.8-23.6 77.6-33.0s51.8-17.1 77.6-23.6"/>
<path d="M423.8 562.0c25.9-14.5 51.8-29.9 77.6-43.8s51.8-26.4 77.6-37.1s51.8-19.5 77.6-26.9"/>
<path d="M423.8 545.1c25.9-12.1 51.8-23.4 77.6-33.4s51.8-18.9 77.6-26.6s51.8-14.3 77.6-20.1"/>
<path d="M423.8 533.6c25.9-15.2 51.8-29.1 77.6-40.8s51.8-21.5 77.6-29.6s51.8-14.7 77.6-20.2"/>
<path d="M423.8 566.6c25.9-14.8 51.8-31.0 77.6-45.8s51.8-28.4 77.6-39.8s51.8-20.8 77.6-28.6"/>
<path d="M423.8 557.2c25.9-15.0 51.8-30.5 77.6-44.3s51.8-25.9 77.6-36.2s51.8-18.7 77.6-25.7"/>
<path d="M423.8 552.1c25.9-13.3 51.8-26.4 77.6-38.0s51.8-22.0 77.6-30.9s51.8-16.5 77.6-23.0"/>
<path d="M423.8 546.7c25.9-10.7 51.8-20.6 77.6-29.6s51.8-16.9 77.6-23.9s51.8-13.2 77.6-18.7"/>
<path d="M423.8 554.1c25.9-13.4 51.8-26.7 77.6-38.6s51.8-22.5 77.6-31.6s51.8-16.9 77.6-23.5"/>
<path d="M423.8 558.8c25.9-17.1 51.8-35.5 77.6-51.6s51.8-29.9 77.6-41.1s51.8-20.0 77.6-27.0"/>
<path d="M423.8 561.0c25.9-14.4 51.8-29.4 77.6-43.0s51.8-25.8 77.6-36.2s51.8-19.1 77.6-26.4"/>
<path d="M423.8 551.3c25.9-13.6 51.8-26.9 77.6-38.7s51.8-22.3 77.6-31.2s51.8-16.5 77.6-23.0"/>
<path d="M423.8 548.2c25.9-11.4 51.8-22.1 77.6-31.8s51.8-18.2 77.6-25.8s51.8-14.1 77.6-19.9"/>
<path d="M423.8 545.6c25.9-12.2 51.8-23.6 77.6-33.7s51.8-19.1 77.6-26.9s51.8-14.5 77.6-20.3"/>
<path d="M423.8 543.7c25.9-13.3 51.8-25.8 77.6-36.7s51.8-20.5 77.6-28.7s51.8-15.1 77.6-21.0"/>
<path d="M423.8 541.2c25.9-15.2 51.8-29.5 77.6-41.9s51.8-22.8 77.6-31.5s51.8-15.8 77.6-21.8"/>
<path d="M423.8 554.7c25.9-15.5 51.8-31.3 77.6-45.3s51.8-26.1 77.6-36.3s51.8-18.4 77.6-25.3"/>
<path d="M423.8 544.8c25.9-14.5 51.8-28.3 77.6-40.4s51.8-22.4 77.6-31.2s51.8-16.0 77.6-22.2"/>
<path d="M423.8 548.2c25.9-14.0 51.8-27.5 77.6-39.4s51.8-22.3 77.6-31.2s51.8-16.3 77.6-22.6"/>
<path d="M423.8 546.6c25.9-15.9 51.8-31.4 77.6-44.7s51.8-24.7 77.6-34.2s51.8-17.0 77.6-23.3"/>
<path d="M423.8 551.3c25.9-15.3 51.8-30.7 77.6-44.1s51.8-25.0 77.6-34.8s51.8-17.7 77.6-24.3"/>
<path d="M423.8 555.1c25.9-14.3 51.8-28.8 77.6-41.7s51.8-24.3 77.6-34.0s51.8-17.8 77.6-24.6"/>
<path d="M423.8 565.1c25.9-14.2 51.8-29.5 77.6-43.6s51.8-26.8 77.6-37.7s51.8-20.0 77.6-27.7"/>
<path d="M423.8 549.0c25.9-14.5 51.8-28.6 77.6-41.0s51.8-23.2 77.6-32.4s51.8-16.7 77.6-23.2"/>
<path d="M423.8 544.4c25.9-14.6 51.8-28.5 77.6-40.6s51.8-22.5 77.6-31.3s51.8-16.0 77.6-22.1"/>
<path d="M423.8 557.5c25.9-15.2 51.8-30.9 77.6-44.9s51.8-26.3 77.6-36.7s51.8-18.9 77.6-25.9"/>
<path d="M423.8 541.5c25.9-13.0 51.8-25.2 77.6-35.8s51.8-19.8 77.6-27.8s51.8-14.6 77.6-20.4"/>
<path d="M423.8 533.7c25.9-11.9 51.8-22.7 77.6-32.0s51.8-17.4 77.6-24.3s51.8-12.9 77.6-18.0"/>
<path d="M423.8 536.1c25.9-15.0 51.8-28.7 77.6-40.5s51.8-21.6 77.6-29.8s51.8-14.9 77.6-20.6"/>
<path d="M423.8 562.1c25.9-16.3 51.8-33.9 77.6-49.6s51.8-29.6 77.6-41.0s51.8-20.5 77.6-27.8"/>
<path d="M423.8 534.7c25.9-15.6 51.8-30.0 77.6-42.2s51.8-22.2 77.6-30.5s51.8-15.0 77.6-20.6"/>
<path d="M423.8 551.5c25.9-15.9 51.8-31.8 77.6-45.7s51.8-25.8 77.6-35.8s51.8-18.0 77.6-24.6"/>
<path d="M423.8 536.2c25.9-15.0 51.8-28.9 77.6-40.7s51.8-21.7 77.6-30.0s51.8-15.0 77.6-20.6"/>
<path d="M423.8 555.4c25.9-15.6 51.8-31.5 77.6-45.6s51.8-26.4 77.6-36.7s51.8-18.6 77.6-25.5"/>
<path d="M423.8 551.6c25.9-15.2 51.8-30.4 77.6-43.8s51.8-24.9 77.6-34.6s51.8-17.7 77.6-24.3"/>
<path d="M423.8 536.6c25.9-13.0 51.8-24.7 77.6-35.0s51.8-19.1 77.6-26.6s51.8-13.9 77.6-19.4"/>
<path d="M423.8 536.1c25.9-9.9 51.8-18.7 77.6-26.5s51.8-14.7 77.6-20.7s51.8-11.4 77.6-16.1"/>
<path d="M423.8 558.5c25.9-15.3 51.8-31.3 77.6-45.5s51.8-26.8 77.6-37.3s51.8-19.1 77.6-26.3"/>
<path d="M423.8 562.7c25.9-14.4 51.8-29.8 77.6-43.7s51.8-26.5 77.6-37.2s51.8-19.6 77.6-27.0"/>
<path d="M423.8 541.5c25.9-14.8 51.8-28.7 77.6-40.7s51.8-22.2 77.6-30.8s51.8-15.7 77.6-21.6"/>
<path d="M423.8 549.0c25.9-14.3 51.8-28.2 77.6-40.4s51.8-22.9 77.6-32.0s51.8-16.6 77.6-23.0"/>
<path d="M423.8 552.1c25.9-13.3 51.8-26.2 77.6-37.8s51.8-21.9 77.6-30.7s51.8-16.4 77.6-22.9"/>
<path d="M423.8 552.7c25.9-14.8 51.8-29.6 77.6-42.7s51.8-24.5 77.6-34.2s51.8-17.6 77.6-24.3"/>
<path d="M423.8 538.1c25.9-13.6 51.8-26.2 77.6-37.1s51.8-20.2 77.6-28.1s51.8-14.5 77.6-20.2"/>
<path d="M423.8 537.6c25.9-13.6 51.8-26.1 77.6-36.9s51.8-20.1 77.6-28.0s51.8-14.4 77.6-20.1"/>
<path d="M423.8 551.9c25.9-14.5 51.8-28.8 77.6-41.5s51.8-23.8 77.6-33.3s51.8-17.3 77.6-23.9"/>
<path d="M423.8 547.7c25.9-14.0 51.8-27.5 77.6-39.4s51.8-22.3 77.6-31.1s51.8-16.2 77.6-22.5"/>
<path d="M423.8 542.9c25.9-13.6 51.8-26.5 77.6-37.7s51.8-20.9 77.6-29.2s51.8-15.2 77.6-21.1"/>
<path d="M423.8 551.2c25.9-13.5 51.8-26.7 77.6-38.4s51.8-22.1 77.6-31.0s51.8-16.5 77.6-22.9"/>
<path d="M423.8 541.4c25.9-14.7 51.8-28.5 77.6-40.4s51.8-22.1 77.6-30.7s51.8-15.6 77.6-21.5"/>
<path d="M423.8 537.1c25.9-15.7 51.8-30.2 77.6-42.6s51.8-22.6 77.6-31.2s51.8-15.4 77.6-21.1"/>
<path d="M423.8 563.6c25.9-11.6 51.8-23.3 77.6-34.2s51.8-21.0 77.6-30.0s51.8-16.9 77.6-23.9"/>
<path d="M423.8 537.3c25.9-15.2 51.8-29.3 77.6-41.4s51.8-22.1 77.6-30.6s51.8-15.2 77.6-20.9"/>
<path d="M423.8 545.5c25.9-12.8 51.8-24.9 77.6-35.6s51.8-20.0 77.6-28.1s51.8-15.0 77.6-20.9"/>
<path d="M423.8 546.5c25.9-16.3 51.8-32.3 77.6-46.0s51.8-25.3 77.6-34.9s51.8-17.2 77.6-23.5"/>
<path d="M423.8 546.9c25.9-15.2 51.8-29.9 77.6-42.7s51.8-23.8 77.6-33.0s51.8-16.8 77.6-23.1"/>
<path d="M423.8 544.5c25.9-16.2 51.8-31.8 77.6-45.3s51.8-24.7 77.6-34.0s51.8-16.8 77.6-22.9"/>
<path d="M423.8 560.7c25.9-14.0 51.8-28.5 77.6-41.7s51.8-25.1 77.6-35.3s51.8-18.8 77.6-26.0"/>
<path d="M423.8 546.6c25.9-14.2 51.8-27.8 77.6-39.7s51.8-22.3 77.6-31.1s51.8-16.1 77.6-22.4"/>
<path d="M423.8 543.6c25.9-14.7 51.8-28.7 77.6-40.9s51.8-22.6 77.6-31.3s51.8-16.0 77.6-22.0"/>
<path d="M423.8 574.0c25.9-12.9 51.8-27.3 77.6-41.1s51.8-26.9 77.6-38.4s51.8-21.4 77.6-29.7"/>
<path d="M423.8 540.7c25.9-14.7 51.8-28.5 77.6-40.4s51.8-22.0 77.6-30.5s51.8-15.5 77.6-21.4"/>
<path d="M423.8 552.2c25.9-14.2 51.8-28.2 77.6-40.6s51.8-23.4 77.6-32.7s51.8-17.1 77.6-23.7"/>
<path d="M423.8 558.3c25.9-13.5 51.8-27.3 77.6-39.8s51.8-23.6 77.6-33.3s51.8-17.9 77.6-24.8"/>
<path d="M423.8 547.6c25.9-13.6 51.8-26.7 77.6-38.2s51.8-21.6 77.6-30.3s51.8-15.9 77.6-22.1"/>
<path d="M423.8 549.9c25.9-12.7 51.8-25.0 77.6-36.0s51.8-20.7 77.6-29.1s51.8-15.6 77.6-21.9"/>
<path d="M423.8 550.1c25.9-16.5 51.8-33.0 77.6-47.3s51.8-26.4 77.6-36.4s51.8-17.9 77.6-24.4"/>
<path d="M423.8 544.8c25.9-14.5 51.8-28.3 77.6-40.3s51.8-22.4 77.6-31.2s51.8-16.0 77.6-22.2"/>
<path d="M423.8 558.4c25.9-14.2 51.8-28.9 77.6-42.0s51.8-24.9 77.6-35.0s51.8-18.4 77.6-25.5"/>
<path d="M423.8 526.0c25.9-12.5 51.8-23.4 77.6-32.8s51.8-17.3 77.6-24.0s51.8-12.4 77.6-17.3"/>
<path d="M423.8 525.1c25.9-11.4 51.8-21.2 77.6-29.8s51.8-15.8 77.6-22.0s51.8-11.6 77.6-16.2"/>
<path d="M423.8 553.1c25.9-14.4 51.8-28.7 77.6-41.4s51.8-23.9 77.6-33.4s51.8-17.4 77.6-24.1"/>
<path d="M423.8 547.2c25.9-11.4 51.8-22.1 77.6-31.7s51.8-18.1 77.6-25.6s51.8-14.0 77.6-19.7"/>
<path d="M423.8 552.9c25.9-15.3 51.8-30.7 77.6-44.2s51.8-25.3 77.6-35.2s51.8-18.0 77.6-24.7"/>
<path d="M423.8 559.8c25.9-15.1 51.8-31.0 77.6-45.2s51.8-26.8 77.6-37.4s51.8-19.3 77.6-26.6"/>
<path d="M423.8 563.9c25.9-15.1 51.8-31.4 77.6-46.2s51.8-28.1 77.6-39.3s51.8-20.3 77.6-27.9"/>
<path d="M423.8 549.2c25.9-14.5 51.8-28.8 77.6-41.3s51.8-23.3 77.6-32.6s51.8-16.8 77.6-23.2"/>
<path d="M423.8 546.6c25.9-15.0 51.8-29.5 77.6-42.1s51.8-23.5 77.6-32.6s51.8-16.6 77.6-22.9"/>
<path d="M423.8 551.0c25.9-18.0 51.8-36.4 77.6-52.1s51.8-28.7 77.6-39.1s51.8-18.5 77.6-24.9"/>
<path d="M423.8 543.7c25.9-14.3 51.8-27.9 77.6-39.8s51.8-22.0 77.6-30.7s51.8-15.8 77.6-21.8"/>
<path d="M423.8 551.0c25.9-12.5 51.8-24.6 77.6-35.4s51.8-20.4 77.6-28.8s51.8-15.6 77.6-21.8"/>
<path d="M423.8 547.7c25.9-14.1 51.8-27.6 77.6-39.6s51.8-22.3 77.6-31.2s51.8-16.3 77.6-22.5"/>
<path d="M423.8 548.7c25.9-14.2 51.8-27.9 77.6-40.0s51.8-22.7 77.6-31.7s51.8-16.5 77.6-22.9"/>
<path d="M423.8 535.8c25.9-12.6 51.8-23.9 77.6-33.9s51.8-18.4 77.6-25.8s51.8-13.5 77.6-18.9"/>
<path d="M423.8 561.6c25.9-14.4 51.8-29.6 77.6-43.4s51.8-26.2 77.6-36.7s51.8-19.3 77.6-26.7"/>
<path d="M423.8 539.2c25.9-14.0 51.8-26.9 77.6-38.2s51.8-20.8 77.6-29.0s51.8-14.9 77.6-20.6"/>
<path d="M423.8 535.1c25.9-14.0 51.8-26.7 77.6-37.7s51.8-20.2 77.6-28.1s51.8-14.3 77.6-19.8"/>
<path d="M423.8 537.7c25.9-11.5 51.8-21.9 77.6-31.0s51.8-17.1 77.6-24.1s51.8-12.9 77.6-18.1"/>
<path d="M423.8 542.8c25.9-14.7 51.8-28.7 77.6-40.8s51.8-22.4 77.6-31.1s51.8-15.8 77.6-21.9"/>
<path d="M423.8 546.2c25.9-15.8 51.8-31.1 77.6-44.4s51.8-24.5 77.6-33.9s51.8-16.9 77.6-23.2"/>
<path d="M423.8 548.9c25.9-14.4 51.8-28.5 77.6-40.9s51.8-23.1 77.6-32.3s51.8-16.7 77.6-23.1"/>
<path d="M423.8 539.4c25.9-14.7 51.8-28.5 77.6-40.3s51.8-21.8 77.6-30.3s51.8-15.3 77.6-21.1"/>
<path d="M423.8 549.9c25.9-14.2 51.8-28.0 77.6-40.3s51.8-22.9 77.6-32.0s51.8-16.7 77.6-23.1"/>
<path d="M423.8 549.3c25.9-15.9 51.8-31.6 77.6-45.2s51.8-25.3 77.6-35.0s51.8-17.5 77.6-24.0"/>
<path d="M423.8 535.0c25.9-15.3 51.8-29.3 77.6-41.2s51.8-21.8 77.6-30.1s51.8-14.9 77.6-20.5"/>
<path d="M423.8 535.5c25.9-14.1 51.8-26.9 77.6-38.0s51.8-20.4 77.6-28.3s51.8-14.4 77.6-20.0"/>
<path d="M423.8 545.3c25.9-14.8 51.8-29.0 77.6-41.4s51.8-23.0 77.6-32.0s51.8-16.3 77.6-22.5"/>
<path d="M423.8 541.1c25.9-16.2 51.8-31.6 77.6-44.7s51.8-24.0 77.6-33.0s51.8-16.2 77.6-22.1"/>
<path d="M423.8 554.9c25.9-14.5 51.8-29.2 77.6-42.3s51.8-24.6 77.6-34.4s51.8-17.9 77.6-24.8"/>
<path d="M423.8 544.0c25.9-14.1 51.8-27.5 77.6-39.1s51.8-21.7 77.6-30.3s51.8-15.7 77.6-21.7"/>
<path d="M423.8 544.0c25.9-12.9 51.8-24.9 77.6-35.6s51.8-19.9 77.6-28.0s51.8-14.8 77.6-20.7"/>
<path d="M423.8 530.6c25.9-16.1 51.8-30.6 77.6-42.7s51.8-22.0 77.6-30.1s51.8-14.6 77.6-19.9"/>
<path d="M423.8 533.8c25.9-13.2 51.8-25.0 77.6-35.3s51.8-19.0 77.6-26.5s51.8-13.7 77.6-19.0"/>
<path d="M423.8 554.3c25.9-13.3 51.8-26.5 77.6-38.4s51.8-22.4 77.6-31.5s51.8-16.9 77.6-23.5"/>
<path d="M423.8 554.5c25.9-15.0 51.8-30.2 77.6-43.7s51.8-25.3 77.6-35.2s51.8-18.1 77.6-25.0"/>
<path d="M423.8 558.0c25.9-14.1 51.8-28.4 77.6-41.4s51.8-24.5 77.6-34.4s51.8-18.2 77.6-25.3"/>
<path d="M423.8 531.8c25.9-13.8 51.8-26.2 77.6-36.8s51.8-19.6 77.6-27.1s51.8-13.8 77.6-19.1"/>
<path d="M423.8 535.7c25.9-13.5 51.8-25.7 77.6-36.3s51.8-19.6 77.6-27.3s51.8-14.1 77.6-19.6"/>
<path d="M423.8 548.6c25.9-15.0 51.8-29.6 77.6-42.4s51.8-23.8 77.6-33.1s51.8-17.0 77.6-23.4"/>
<path d="M423.8 531.8c25.9-14.3 51.8-27.1 77.6-38.1s51.8-20.1 77.6-27.9s51.8-14.0 77.6-19.4"/>
<path d="M423.8 554.1c25.9-15.5 51.8-31.3 77.6-45.2s51.8-26.0 77.6-36.1s51.8-18.3 77.6-25.1"/>
<path d="M423.8 555.7c25.9-13.4 51.8-26.8 77.6-38.9s51.8-22.8 77.6-32.2s51.8-17.2 77.6-24.0"/>
<path d="M423.8 549.4c25.9-12.8 51.8-25.2 77.6-36.2s51.8-20.7 77.6-29.2s51.8-15.6 77.6-21.8"/>
<path d="M423.8 548.6c25.9-15.6 51.8-30.9 77.6-44.3s51.8-24.8 77.6-34.3s51.8-17.3 77.6-23.7"/>
<path d="M423.8 540.7c25.9-17.8 51.8-34.8 77.6-49.1s51.8-25.8 77.6-35.2s51.8-16.5 77.6-22.3"/>
<path d="M423.8 538.7c25.9-14.9 51.8-28.7 77.6-40.6s51.8-21.9 77.6-30.3s51.8-15.3 77.6-21.1"/>
<path d="M423.8 551.2c25.9-14.2 51.8-28.2 77.6-40.6s51.8-23.3 77.6-32.5s51.8-17.0 77.6-23.5"/>
<path d="M423.8 571.3c25.9-13.6 51.8-28.8 77.6-43.2s51.8-27.7 77.6-39.2s51.8-21.3 77.6-29.5"/>
<path d="M423.8 545.7c25.9-12.5 51.8-24.3 77.6-34.7s51.8-19.6 77.6-27.6s51.8-14.8 77.6-20.7"/>
<path d="M423.8 556.8c25.9-14.8 51.8-30.0 77.6-43.5s51.8-25.5 77.6-35.6s51.8-18.5 77.6-25.5"/>
<path d="M423.8 537.5c25.9-14.5 51.8-27.9 77.6-39.4s51.8-21.3 77.6-29.5s51.8-14.9 77.6-20.6"/>
<path d="M423.8 545.2c25.9-14.5 51.8-28.3 77.6-40.4s51.8-22.5 77.6-31.3s51.8-16.1 77.6-22.2"/>
<path d="M423.8 555.7c25.9-13.7 51.8-27.4 77.6-39.8s51.8-23.3 77.6-32.8s51.8-17.5 77.6-24.3"/>
<path d="M423.8 537.7c25.9-12.1 51.8-23.1 77.6-32.8s51.8-18.0 77.6-25.3s51.8-13.4 77.6-18.8"/>
<path d="M423.8 530.0c25.9-12.5 51.8-23.5 77.6-33.1s51.8-17.7 77.6-24.6s51.8-12.8 77.6-17.9"/>
<path d="M423.8 539.7c25.9-13.0 51.8-24.9 77.6-35.4s51.8-19.5 77.6-27.2s51.8-14.3 77.6-19.9"/>
<path d="M423.8 549.0c25.9-12.8 51.8-25.2 77.6-36.1s51.8-20.7 77.6-29.1s51.8-15.6 77.6-21.8"/>
<path d="M423.8 535.1c25.9-12.9 51.8-24.5 77.6-34.6s51.8-18.7 77.6-26.1s51.8-13.6 77.6-19.0"/>
<path d="M423.8 559.3c25.9-15.6 51.8-32.0 77.6-46.6s51.8-27.5 77.6-38.3s51.8-19.5 77.6-26.7"/>
<path d="M423.8 552.6c25.9-13.7 51.8-27.2 77.6-39.2s51.8-22.7 77.6-31.8s51.8-16.9 77.6-23.4"/>
<path d="M423.8 540.1c25.9-13.9 51.8-26.7 77.6-37.9s51.8-20.8 77.6-28.9s51.8-14.9 77.6-20.7"/>
<path d="M423.8 540.8c25.9-13.6 51.8-26.3 77.6-37.4s51.8-20.6 77.6-28.7s51.8-14.9 77.6-20.7"/>
<path d="M423.8 544.3c25.9-14.8 51.8-28.9 77.6-41.1s51.8-22.7 77.6-31.6s51.8-16.1 77.6-22.2"/>
<path d="M423.8 562.8c25.9-14.8 51.8-30.5 77.6-44.7s51.8-27.1 77.6-37.9s51.8-19.8 77.6-27.3"/>
<path d="M423.8 547.2c25.9-13.8 51.8-27.1 77.6-38.8s51.8-21.9 77.6-30.6s51.8-16.0 77.6-22.2"/>
<path d="M423.8 551.3c25.9-13.0 51.8-25.7 77.6-37.0s51.8-21.3 77.6-30.0s51.8-16.1 77.6-22.5"/>
<path d="M423.8 550.2c25.9-14.3 51.8-28.4 77.6-40.8s51.8-23.2 77.6-32.5s51.8-16.9 77.6-23.3"/>
<path d="M423.8 531.8c25.9-12.9 51.8-24.4 77.6-34.4s51.8-18.4 77.6-25.6s51.8-13.3 77.6-18.5"/>
<path d="M423.8 558.1c25.9-15.1 51.8-30.8 77.6-44.9s51.8-26.4 77.6-36.8s51.8-19.0 77.6-26.1"/>
<path d="M423.8 549.9c25.9-14.8 51.8-29.4 77.6-42.2s51.8-23.9 77.6-33.3s51.8-17.1 77.6-23.6"/>
<path d="M423.8 540.1c25.9-15.7 51.8-30.5 77.6-43.1s51.8-23.2 77.6-32.0s51.8-15.9 77.6-21.7"/>
<path d="M423.8 545.1c25.9-14.5 51.8-28.3 77.6-40.4s51.8-22.5 77.6-31.3s51.8-16.1 77.6-22.2"/>
<path d="M423.8 543.9c25.9-16.7 51.8-32.9 77.6-46.7s51.8-25.3 77.6-34.7s51.8-16.8 77.6-22.9"/>
<path d="M423.8 556.4c25.9-14.2 51.8-28.7 77.6-41.6s51.8-24.4 77.6-34.3s51.8-18.0 77.6-24.9"/>
<path d="M423.8 562.1c25.9-14.3 51.8-29.4 77.6-43.1s51.8-26.1 77.6-36.6s51.8-19.4 77.6-26.7"/>
<path d="M423.8 542.9c25.9-14.4 51.8-28.1 77.6-40.0s51.8-22.0 77.6-30.6s51.8-15.7 77.6-21.7"/>
<path d="M423.8 538.9c25.9-11.5 51.8-21.9 77.6-31.1s51.8-17.2 77.6-24.3s51.8-13.1 77.6-18.4"/>
<path d="M423.8 542.6c25.9-14.5 51.8-28.3 77.6-40.2s51.8-22.1 77.6-30.8s51.8-15.7 77.6-21.7"/>
<path d="M423.8 555.0c25.9-14.7 51.8-29.6 77.6-42.9s51.8-24.9 77.6-34.8s51.8-18.1 77.6-24.9"/>
<path d="M423.8 548.8c25.9-13.0 51.8-25.6 77.6-36.7s51.8-20.9 77.6-29.4s51.8-15.7 77.6-21.9"/>
<path d="M423.8 543.9c25.9-12.0 51.8-23.2 77.6-33.1s51.8-18.6 77.6-26.2s51.8-14.1 77.6-19.8"/>
<path d="M423.8 530.7c25.9-15.3 51.8-29.0 77.6-40.6s51.8-21.1 77.6-29.1s51.8-14.3 77.6-19.6"/>
<path d="M423.8 556.3c25.9-14.9 51.8-30.0 77.6-43.6s51.8-25.5 77.6-35.5s51.8-18.4 77.6-25.4"/>
<path d="M423.8 566.9c25.9-11.7 51.8-24.0 77.6-35.4s51.8-22.1 77.6-31.7s51.8-17.9 77.6-25.2"/>
<path d="M423.8 541.8c25.9-12.9 51.8-24.9 77.6-35.4s51.8-19.7 77.6-27.5s51.8-14.5 77.6-20.3"/>
<path d="M423.8 531.2c25.9-11.4 51.8-21.5 77.6-30.3s51.8-16.4 77.6-22.9s51.8-12.2 77.6-17.1"/>
<path d="M423.8 554.0c25.9-15.1 51.8-30.4 77.6-43.9s51.8-25.3 77.6-35.2s51.8-18.1 77.6-24.9"/>
<path d="M423.8 553.0c25.9-10.9 51.8-21.4 77.6-30.9s51.8-18.1 77.6-25.7s51.8-14.3 77.6-20.3"/>
<path d="M423.8 549.2c25.9-13.9 51.8-27.5 77.6-39.4s51.8-22.4 77.6-31.4s51.8-16.4 77.6-22.8"/>
<path d="M423.8 554.7c25.9-13.9 51.8-27.9 77.6-40.4s51.8-23.5 77.6-33.0s51.8-17.5 77.6-24.2"/>
<path d="M423.8 537.5c25.9-12.2 51.8-23.3 77.6-33.1s51.8-18.2 77.6-25.5s51.8-13.5 77.6-18.9"/>
<path d="M423.8 540.4c25.9-12.1 51.8-23.3 77.6-33.1s51.8-18.4 77.6-25.8s51.8-13.8 77.6-19.3"/>
<path d="M423.8 545.8c25.9-9.5 51.8-18.2 77.6-26.0s51.8-14.8 77.6-21.1s51.8-11.8 77.6-16.8"/>
<path d="M423.8 540.7c25.9-14.4 51.8-27.8 77.6-39.4s51.8-21.6 77.6-30.0s51.8-15.3 77.6-21.2"/>
<path d="M423.8 524.5c25.9-12.5 51.8-23.4 77.6-32.8s51.8-17.2 77.6-23.9s51.8-12.3 77.6-17.1"/>
<path d="M423.8 552.8c25.9-14.0 51.8-27.9 77.6-40.2s51.8-23.2 77.6-32.5s51.8-17.1 77.6-23.8"/>
<path d="M423.8 552.5c25.9-14.3 51.8-28.5 77.6-41.2s51.8-23.7 77.6-33.1s51.8-17.3 77.6-23.9"/>
<path d="M423.8 543.3c25.9-13.2 51.8-25.5 77.6-36.3s51.8-20.3 77.6-28.4s51.8-14.9 77.6-20.8"/>
<path d="M423.8 556.9c25.9-11.2 51.8-22.2 77.6-32.2s51.8-19.1 77.6-27.3s51.8-15.2 77.6-21.5"/>
<path d="M423.8 542.2c25.9-16.0 51.8-31.3 77.6-44.3s51.8-24.0 77.6-33.1s51.8-16.3 77.6-22.3"/>
<path d="M423.8 535.1c25.9-13.9 51.8-26.5 77.6-37.4s51.8-20.1 77.6-27.9s51.8-14.3 77.6-19.8"/>
<path d="M423.8 543.8c25.9-12.6 51.8-24.5 77.6-34.9s51.8-19.6 77.6-27.5s51.8-14.6 77.6-20.5"/>
<path d="M423.8 546.3c25.9-14.3 51.8-28.0 77.6-40.0s51.8-22.4 77.6-31.2s51.8-16.2 77.6-22.4"/>
<path d="M423.8 556.8c25.9-16.1 51.8-32.8 77.6-47.6s51.8-27.6 77.6-38.2s51.8-19.2 77.6-26.1"/>
<path d="M423.8 558.2c25.9-14.1 51.8-28.5 77.6-41.5s51.8-24.6 77.6-34.5s51.8-18.3 77.6-25.3"/>
<path d="M423.8 563.6c25.9-13.9 51.8-28.6 77.6-42.0s51.8-25.7 77.6-36.2s51.8-19.4 77.6-26.9"/>
<path d="M423.8 550.8c25.9-13.6 51.8-26.8 77.6-38.6s51.8-22.1 77.6-31.0s51.8-16.4 77.6-22.9"/>
<path d="M423.8 558.0c25.9-15.7 51.8-32.1 77.6-46.7s51.8-27.3 77.6-38.0s51.8-19.2 77.6-26.3"/>
<path d="M423.8 545.3c25.9-13.3 51.8-25.9 77.6-37.0s51.8-20.8 77.6-29.1s51.8-15.3 77.6-21.4"/>
<path d="M423.8 557.5c25.9-13.4 51.8-26.9 77.6-39.1s51.8-23.2 77.6-32.7s51.8-17.6 77.6-24.5"/>
<path d="M423.8 550.6c25.9-12.8 51.8-25.1 77.6-36.2s51.8-20.8 77.6-29.3s51.8-15.8 77.6-22.0"/>
<path d="M423.8 552.9c25.9-14.7 51.8-29.4 77.6-42.3s51.8-24.4 77.6-34.0s51.8-17.6 77.6-24.3"/>
<path d="M423.8 557.1c25.9-14.1 51.8-28.5 77.6-41.4s51.8-24.4 77.6-34.2s51.8-18.1 77.6-25.0"/>
<path d="M423.8 525.7c25.9-12.5 51.8-23.5 77.6-32.8s51.8-17.3 77.6-24.0s51.8-12.4 77.6-17.2"/>
<path d="M423.8 553.7c25.9-17.3 51.8-35.1 77.6-50.6s51.8-28.5 77.6-39.1s51.8-18.9 77.6-25.5"/>
<path d="M423.8 556.0c25.9-14.2 51.8-28.5 77.6-41.4s51.8-24.2 77.6-34.0s51.8-17.9 77.6-24.8"/>
<path d="M423.8 559.0c25.9-13.3 51.8-26.8 77.6-39.1s51.8-23.4 77.6-33.0s51.8-17.8 77.6-24.8"/>
<path d="M423.8 552.4c25.9-14.1 51.8-28.0 77.6-40.4s51.8-23.3 77.6-32.6s51.8-17.1 77.6-23.7"/>
<path d="M423.8 548.9c25.9-12.3 51.8-24.1 77.6-34.6s51.8-19.8 77.6-28.0s51.8-15.1 77.6-21.2"/>
<path d="M423.8 546.6c25.9-12.8 51.8-24.9 77.6-35.6s51.8-20.2 77.6-28.3s51.8-15.1 77.6-21.1"/>
<path d="M423.8 551.0c25.9-13.3 51.8-26.2 77.6-37.7s51.8-21.7 77.6-30.5s51.8-16.3 77.6-22.6"/>
<path d="M423.8 554.4c25.9-13.0 51.8-25.8 77.6-37.3s51.8-21.8 77.6-30.8s51.8-16.6 77.6-23.2"/>
<path d="M423.8 528.9c25.9-10.6 51.8-19.9 77.6-28.0s51.8-15.1 77.6-21.2s51.8-11.4 77.6-16.0"/>
<path d="M423.8 542.1c25.9-13.0 51.8-25.2 77.6-35.9s51.8-19.9 77.6-27.9s51.8-14.7 77.6-20.5"/>
<path d="M423.8 546.7c25.9-11.5 51.8-22.2 77.6-31.9s51.8-18.2 77.6-25.7s51.8-14.0 77.6-19.7"/>
<path d="M423.8 548.9c25.9-12.4 51.8-24.3 77.6-34.9s51.8-20.0 77.6-28.1s51.8-15.2 77.6-21.3"/>
<path d="M423.8 537.5c25.9-12.3 51.8-23.5 77.6-33.3s51.8-18.3 77.6-25.6s51.8-13.5 77.6-18.9"/>
<path d="M423.8 535.8c25.9-13.3 51.8-25.4 77.6-35.9s51.8-19.4 77.6-27.1s51.8-14.0 77.6-19.5"/>
<path d="M423.8 551.1c25.9-15.6 51.8-31.2 77.6-44.8s51.8-25.4 77.6-35.2s51.8-17.8 77.6-24.4"/>
<path d="M423.8 562.5c25.9-14.0 51.8-28.6 77.6-42.0s51.8-25.5 77.6-35.9s51.8-19.2 77.6-26.5"/>
<path d="M423.8 530.5c25.9-14.5 51.8-27.5 77.6-38.5s51.8-20.2 77.6-27.9s51.8-14.0 77.6-19.3"/>
<path d="M423.8 543.8c25.9-14.2 51.8-27.6 77.6-39.4s51.8-21.8 77.6-30.4s51.8-15.7 77.6-21.7"/>
<path d="M423.8 546.7c25.9-13.8 51.8-27.1 77.6-38.8s51.8-21.8 77.6-30.5s51.8-15.9 77.6-22.1"/>
<path d="M423.8 556.2c25.9-14.4 51.8-29.1 77.6-42.2s51.8-24.7 77.6-34.6s51.8-18.1 77.6-25.0"/>
<path d="M423.8 542.7c25.9-14.6 51.8-28.5 77.6-40.5s51.8-22.3 77.6-30.9s51.8-15.8 77.6-21.8"/>
<path d="M423.8 545.8c25.9-16.5 51.8-32.6 77.6-46.3s51.8-25.4 77.6-34.9s51.8-17.1 77.6-23.3"/>
<path d="M423.8 538.9c25.9-13.6 51.8-26.1 77.6-37.0s51.8-20.2 77.6-28.2s51.8-14.6 77.6-20.3"/>
<path d="M423.8 544.8c25.9-17.1 51.8-33.7 77.6-47.9s51.8-25.9 77.6-35.5s51.8-17.1 77.6-23.2"/>
<path d="M423.8 554.8c25.9-11.4 51.8-22.5 77.6-32.5s51.8-19.2 77.6-27.2s51.8-15.1 77.6-21.3"/>
<path d="M423.8 557.3c25.9-14.7 51.8-29.9 77.6-43.4s51.8-25.5 77.6-35.7s51.8-18.6 77.6-25.6"/>
<path d="M423.8 538.2c25.9-14.5 51.8-28.0 77.6-39.6s51.8-21.4 77.6-29.6s51.8-15.0 77.6-20.8"/>
<path d="M423.8 551.4c25.9-15.1 51.8-30.2 77.6-43.4s51.8-24.7 77.6-34.4s51.8-17.6 77.6-24.2"/>
<path d="M423.8 559.9c25.9-13.8 51.8-28.0 77.6-40.9s51.8-24.5 77.6-34.5s51.8-18.4 77.6-25.6"/>
<path d="M423.8 551.6c25.9-14.2 51.8-28.1 77.6-40.5s51.8-23.2 77.6-32.5s51.8-17.0 77.6-23.6"/>
<path d="M423.8 540.8c25.9-12.6 51.8-24.2 77.6-34.4s51.8-19.0 77.6-26.7s51.8-14.2 77.6-19.8"/>
<path d="M423.8 554.9c25.9-13.5 51.8-27.0 77.6-39.0s51.8-22.8 77.6-32.1s51.8-17.2 77.6-23.9"/>
<path d="M423.8 545.8c25.9-13.9 51.8-27.3 77.6-38.9s51.8-21.8 77.6-30.5s51.8-15.9 77.6-22.0"/>
<path d="M423.8 538.9c25.9-14.4 51.8-27.7 77.6-39.2s51.8-21.3 77.6-29.5s51.8-15.1 77.6-20.8"/>
<path d="M423.8 553.9c25.9-12.9 51.8-25.7 77.6-37.1s51.8-21.7 77.6-30.5s51.8-16.5 77.6-23.0"/>
<path d="M423.8 548.7c25.9-13.9 51.8-27.4 77.6-39.3s51.8-22.3 77.6-31.2s51.8-16.3 77.6-22.6"/>
<path d="M423.8 544.2c25.9-15.6 51.8-30.6 77.6-43.5s51.8-23.9 77.6-33.0s51.8-16.5 77.6-22.6"/>
<path d="M423.8 545.7c25.9-15.7 51.8-30.9 77.6-44.0s51.8-24.3 77.6-33.6s51.8-16.8 77.6-23.0"/>
<path d="M423.8 556.1c25.9-15.1 51.8-30.6 77.6-44.4s51.8-25.9 77.6-36.0s51.8-18.5 77.6-25.5"/>
<path d="M423.8 551.7c25.9-14.3 51.8-28.4 77.6-40.9s51.8-23.5 77.6-32.8s51.8-17.1 77.6-23.7"/>
<path d="M423.8 555.3c25.9-13.6 51.8-27.1 77.6-39.3s51.8-23.0 77.6-32.4s51.8-17.3 77.6-24.0"/>
<path d="M423.8 552.9c25.9-14.4 51.8-28.7 77.6-41.4s51.8-23.8 77.6-33.3s51.8-17.4 77.6-24.1"/>
<path d="M423.8 552.3c25.9-18.1 51.8-36.9 77.6-52.8s51.8-29.2 77.6-39.8s51.8-18.7 77.6-25.2"/>
<path d="M423.8 541.5c25.9-14.8 51.8-28.8 77.6-40.8s51.8-22.3 77.6-30.9s51.8-15.7 77.6-21.6"/>
<path d="M423.8 544.6c25.9-15.0 51.8-29.5 77.6-42.0s51.8-23.2 77.6-32.1s51.8-16.3 77.6-22.4"/>
<path d="M423.8 551.9c25.9-13.7 51.8-27.2 77.6-39.1s51.8-22.6 77.6-31.6s51.8-16.7 77.6-23.3"/>
<path d="M423.8 546.0c25.9-13.3 51.8-25.9 77.6-37.0s51.8-20.9 77.6-29.2s51.8-15.4 77.6-21.5"/>
<path d="M423.8 535.4c25.9-14.3 51.8-27.3 77.6-38.5s51.8-20.6 77.6-28.6s51.8-14.5 77.6-20.1"/>
<path d="M423.8 556.0c25.9-14.6 51.8-29.4 77.6-42.6s51.8-24.9 77.6-34.8s51.8-18.2 77.6-25.1"/>
<path d="M423.8 545.3c25.9-12.3 51.8-23.8 77.6-34.1s51.8-19.2 77.6-27.1s51.8-14.6 77.6-20.4"/>
<path d="M423.8 556.8c25.9-14.1 51.8-28.3 77.6-41.2s51.8-24.2 77.6-34.0s51.8-18.0 77.6-24.9"/>
<path d="M423.8 548.0c25.9-14.8 51.8-29.2 77.6-41.9s51.8-23.5 77.6-32.7s51.8-16.8 77.6-23.1"/>
<path d="M423.8 545.4c25.9-12.7 51.8-24.8 77.6-35.4s51.8-19.9 77.6-28.0s51.8-14.9 77.6-20.9"/>
<path d="M423.8 532.3c25.9-12.6 51.8-23.8 77.6-33.6s51.8-18.1 77.6-25.2s51.8-13.1 77.6-18.3"/>
<path d="M423.8 540.9c25.9-12.3 51.8-23.6 77.6-33.6s51.8-18.7 77.6-26.2s51.8-14.0 77.6-19.5"/>
<path d="M423.8 550.0c25.9-13.7 51.8-27.1 77.6-39.0s51.8-22.3 77.6-31.2s51.8-16.4 77.6-22.8"/>
<path d="M423.8 519.4c25.9-10.0 51.8-18.6 77.6-26.0s51.8-13.7 77.6-19.2s51.8-10.2 77.6-14.3"/>
<path d="M423.8 533.1c25.9-13.7 51.8-26.1 77.6-36.7s51.8-19.6 77.6-27.2s51.8-13.9 77.6-19.3"/>
<path d="M423.8 551.8c25.9-15.3 51.8-30.7 77.6-44.1s51.8-25.1 77.6-34.9s51.8-17.8 77.6-24.4"/>
<path d="M423.8 552.7c25.9-13.6 51.8-27.0 77.6-38.9s51.8-22.5 77.6-31.6s51.8-16.8 77.6-23.4"/>
<path d="M423.8 544.4c25.9-14.4 51.8-28.1 77.6-40.1s51.8-22.2 77.6-30.9s51.8-15.9 77.6-22.0"/>
<path d="M423.8 554.3c25.9-13.9 51.8-27.8 77.6-40.2s51.8-23.4 77.6-32.8s51.8-17.3 77.6-24.1"/>
<path d="M423.8 537.5c25.9-12.2 51.8-23.3 77.6-33.0s51.8-18.1 77.6-25.4s51.8-13.5 77.6-18.9"/>
<path d="M423.8 541.0c25.9-15.4 51.8-30.0 77.6-42.5s51.8-23.0 77.6-31.8s51.8-15.9 77.6-21.8"/>
<path d="M423.8 558.2c25.9-11.6 51.8-23.1 77.6-33.7s51.8-20.1 77.6-28.6s51.8-15.9 77.6-22.5"/>
<path d="M423.8 547.8c25.9-17.3 51.8-34.6 77.6-49.3s51.8-27.0 77.6-36.9s51.8-17.7 77.6-24.0"/>
<path d="M423.8 535.0c25.9-12.0 51.8-22.8 77.6-32.2s51.8-17.6 77.6-24.6s51.8-13.0 77.6-18.2"/>
<path d="M423.8 556.6c25.9-15.2 51.8-30.7 77.6-44.6s51.8-26.0 77.6-36.3s51.8-18.7 77.6-25.6"/>
<path d="M423.8 543.6c25.9-14.1 51.8-27.4 77.6-39.0s51.8-21.7 77.6-30.2s51.8-15.6 77.6-21.6"/>
<path d="M423.8 558.2c25.9-14.5 51.8-29.5 77.6-42.9s51.8-25.4 77.6-35.5s51.8-18.6 77.6-25.7"/>
<path d="M423.8 551.9c25.9-14.5 51.8-28.8 77.6-41.5s51.8-23.8 77.6-33.2s51.8-17.3 77.6-23.9"/>
<path d="M423.8 555.8c25.9-16.3 51.8-33.2 77.6-48.1s51.8-27.7 77.6-38.3s51.8-19.0 77.6-25.9"/>
<path d="M423.8 548.9c25.9-14.7 51.8-29.1 77.6-41.7s51.8-23.5 77.6-32.8s51.8-16.9 77.6-23.3"/>
<path d="M423.8 565.8c25.9-13.8 51.8-28.6 77.6-42.2s51.8-26.2 77.6-36.9s51.8-19.9 77.6-27.5"/>
<path d="M423.8 542.5c25.9-14.8 51.8-28.9 77.6-41.0s51.8-22.5 77.6-31.2s51.8-15.9 77.6-21.9"/>
<path d="M423.8 558.9c25.9-12.0 51.8-24.0 77.6-35.0s51.8-21.0 77.6-29.8s51.8-16.5 77.6-23.2"/>
<path d="M423.8 561.0c25.9-16.3 51.8-33.7 77.6-49.3s51.8-29.2 77.6-40.4s51.8-20.2 77.6-27.5"/>
<path d="M423.8 549.8c25.9-15.6 51.8-31.1 77.6-44.5s51.8-25.1 77.6-34.7s51.8-17.5 77.6-24.0"/>
<path d="M423.8 551.9c25.9-16.3 51.8-32.9 77.6-47.2s51.8-26.6 77.6-36.8s51.8-18.2 77.6-24.8"/>
<path d="M423.8 550.1c25.9-12.5 51.8-24.5 77.6-35.2s51.8-20.2 77.6-28.5s51.8-15.4 77.6-21.6"/>
<path d="M423.8 554.0c25.9-13.1 51.8-26.0 77.6-37.6s51.8-22.0 77.6-31.0s51.8-16.6 77.6-23.2"/>
<path d="M423.8 551.3c25.9-14.1 51.8-28.0 77.6-40.3s51.8-23.1 77.6-32.4s51.8-16.9 77.6-23.5"/>
<path d="M423.8 555.4c25.9-13.6 51.8-27.2 77.6-39.4s51.8-23.1 77.6-32.5s51.8-17.3 77.6-24.1"/>
<path d="M423.8 566.3c25.9-15.3 51.8-32.2 77.6-47.6s51.8-29.3 77.6-40.9s51.8-21.1 77.6-28.8"/>
<path d="M423.8 567.0c25.9-15.9 51.8-33.6 77.6-49.8s51.8-30.6 77.6-42.6s51.8-21.6 77.6-29.3"/>
<path d="M423.8 528.9c25.9-13.3 51.8-25.1 77.6-35.3s51.8-18.6 77.6-25.8s51.8-13.2 77.6-18.3"/>
<path d="M423.8 546.2c25.9-15.6 51.8-30.8 77.6-44.0s51.8-24.3 77.6-33.7s51.8-16.9 77.6-23.1"/>
<path d="M423.8 561.6c25.9-13.6 51.8-27.8 77.6-40.7s51.8-24.6 77.6-34.7s51.8-18.7 77.6-25.9"/>
<path d="M423.8 551.3c25.9-14.6 51.8-29.0 77.6-41.7s51.8-23.8 77.6-33.2s51.8-17.2 77.6-23.8"/>
<path d="M423.8 553.4c25.9-13.6 51.8-27.0 77.6-39.0s51.8-22.6 77.6-31.8s51.8-16.9 77.6-23.5"/>
<path d="M423.8 544.5c25.9-14.3 51.8-27.9 77.6-39.8s51.8-22.1 77.6-30.8s51.8-15.9 77.6-22.0"/>
<path d="M423.8 551.3c25.9-13.6 51.8-27.0 77.6-38.8s51.8-22.3 77.6-31.3s51.8-16.6 77.6-23.0"/>
<path d="M423.8 556.7c25.9-13.9 51.8-27.9 77.6-40.5s51.8-23.9 77.6-33.5s51.8-17.8 77.6-24.7"/>
<path d="M423.8 572.0c25.9-13.2 51.8-28.0 77.6-41.9s51.8-27.1 77.6-38.4s51.8-21.1 77.6-29.3"/>
<path d="M423.8 551.1c25.9-14.8 51.8-29.5 77.6-42.4s51.8-24.2 77.6-33.7s51.8-17.3 77.6-23.9"/>
<path d="M423.8 534.1c25.9-12.9 51.8-24.6 77.6-34.7s51.8-18.7 77.6-26.1s51.8-13.6 77.6-18.9"/>
<path d="M423.8 524.8c25.9-13.7 51.8-25.6 77.6-35.7s51.8-18.5 77.6-25.6s51.8-12.9 77.6-17.8"/>
<path d="M423.8 547.5c25.9-14.9 51.8-29.5 77.6-42.2s51.8-23.6 77.6-32.8s51.8-16.8 77.6-23.1"/>
<path d="M423.8 539.6c25.9-15.1 51.8-29.1 77.6-41.2s51.8-22.3 77.6-30.9s51.8-15.5 77.6-21.3"/>
<path d="M423.8 559.2c25.9-13.5 51.8-27.3 77.6-39.8s51.8-23.8 77.6-33.5s51.8-18.0 77.6-25.1"/>
<path d="M423.8 562.2c25.9-12.2 51.8-24.6 77.6-36.1s51.8-22.0 77.6-31.2s51.8-17.4 77.6-24.4"/>
<path d="M423.8 561.0c25.9-15.3 51.8-31.6 77.6-46.2s51.8-27.6 77.6-38.4s51.8-19.7 77.6-27.1"/>
<path d="M423.8 547.2c25.9-13.5 51.8-26.4 77.6-37.8s51.8-21.4 77.6-29.9s51.8-15.8 77.6-22.0"/>
<path d="M423.8 547.7c25.9-12.7 51.8-24.7 77.6-35.4s51.8-20.2 77.6-28.4s51.8-15.2 77.6-21.3"/>
<path d="M423.8 555.7c25.9-14.4 51.8-29.1 77.6-42.1s51.8-24.6 77.6-34.4s51.8-18.0 77.6-24.9"/>
<path d="M423.8 555.3c25.9-13.0 51.8-26.0 77.6-37.6s51.8-22.1 77.6-31.2s51.8-16.8 77.6-23.5"/>
<path d="M423.8 556.5c25.9-13.0 51.8-25.9 77.6-37.6s51.8-22.2 77.6-31.4s51.8-17.0 77.6-23.7"/>
<path d="M423.8 538.9c25.9-12.6 51.8-24.2 77.6-34.3s51.8-18.9 77.6-26.4s51.8-14.0 77.6-19.5"/>
<path d="M423.8 552.7c25.9-13.9 51.8-27.7 77.6-39.9s51.8-23.1 77.6-32.3s51.8-17.0 77.6-23.7"/>
<path d="M423.8 549.7c25.9-15.8 51.8-31.6 77.6-45.2s51.8-25.4 77.6-35.1s51.8-17.6 77.6-24.1"/>
<path d="M423.8 542.4c25.9-12.8 51.8-24.7 77.6-35.2s51.8-19.6 77.6-27.5s51.8-14.6 77.6-20.3"/>
<path d="M423.8 563.1c25.9-13.6 51.8-28.0 77.6-41.1s51.8-25.0 77.6-35.4s51.8-19.0 77.6-26.4"/>
<path d="M423.8 541.7c25.9-15.6 51.8-30.4 77.6-43.0s51.8-23.3 77.6-32.2s51.8-16.1 77.6-22.0"/>
<path d="M423.8 534.7c25.9-14.5 51.8-27.7 77.6-39.0s51.8-20.8 77.6-28.8s51.8-14.5 77.6-20.0"/>
<path d="M423.8 560.6c25.9-15.4 51.8-31.6 77.6-46.2s51.8-27.5 77.6-38.4s51.8-19.7 77.6-27.0"/>
<path d="M423.8 558.5c25.9-14.0 51.8-28.4 77.6-41.4s51.8-24.6 77.6-34.5s51.8-18.3 77.6-25.4"/>
<path d="M423.8 546.9c25.9-14.6 51.8-28.8 77.6-41.1s51.8-23.0 77.6-32.1s51.8-16.5 77.6-22.8"/>
<path d="M423.8 530.5c25.9-13.8 51.8-26.2 77.6-36.8s51.8-19.4 77.6-26.9s51.8-13.7 77.6-18.9"/>
<path d="M423.8 537.0c25.9-11.0 51.8-20.8 77.6-29.5s51.8-16.3 77.6-23.0s51.8-12.4 77.6-17.5"/>
<path d="M423.8 551.8c25.9-12.9 51.8-25.4 77.6-36.6s51.8-21.1 77.6-29.8s51.8-16.0 77.6-22.4"/>
<path d="M423.8 549.6c25.9-13.7 51.8-26.9 77.6-38.7s51.8-22.1 77.6-30.9s51.8-16.3 77.6-22.7"/>
<path d="M423.8 541.9c25.9-13.5 51.8-26.1 77.6-37.1s51.8-20.5 77.6-28.7s51.8-15.0 77.6-20.8"/>
<path d="M423.8 561.5c25.9-12.8 51.8-26.0 77.6-38.1s51.8-23.1 77.6-32.7s51.8-17.9 77.6-25.0"/>
<path d="M423.8 537.6c25.9-12.8 51.8-24.5 77.6-34.7s51.8-19.0 77.6-26.6s51.8-13.9 77.6-19.4"/>
<path d="M423.8 564.0c25.9-15.1 51.8-31.4 77.6-46.3s51.8-28.1 77.6-39.3s51.8-20.4 77.6-27.9"/>
<path d="M423.8 549.0c25.9-16.2 51.8-32.2 77.6-46.1s51.8-25.7 77.6-35.5s51.8-17.6 77.6-24.0"/>
<path d="M423.8 545.0c25.9-14.8 51.8-29.0 77.6-41.4s51.8-22.9 77.6-31.9s51.8-16.3 77.6-22.4"/>
<path d="M423.8 555.3c25.9-14.4 51.8-29.0 77.6-42.0s51.8-24.5 77.6-34.2s51.8-17.9 77.6-24.8"/>
<path d="M423.8 546.8c25.9-13.5 51.8-26.4 77.6-37.8s51.8-21.3 77.6-29.9s51.8-15.7 77.6-21.9"/>
<path d="M423.8 548.0c25.9-14.1 51.8-27.7 77.6-39.7s51.8-22.4 77.6-31.3s51.8-16.3 77.6-22.6"/>
<path d="M423.8 535.8c25.9-13.3 51.8-25.5 77.6-36.0s51.8-19.5 77.6-27.2s51.8-14.1 77.6-19.5"/>
<path d="M423.8 523.9c25.9-13.9 51.8-26.0 77.6-36.2s51.8-18.7 77.6-25.8s51.8-12.9 77.6-17.8"/>
<path d="M423.8 557.1c25.9-14.8 51.8-30.1 77.6-43.6s51.8-25.6 77.6-35.8s51.8-18.6 77.6-25.6"/>
<path d="M423.8 550.6c25.9-13.0 51.8-25.7 77.6-36.9s51.8-21.2 77.6-29.9s51.8-16.0 77.6-22.3"/>
<path d="M423.8 527.3c25.9-9.5 51.8-17.8 77.6-25.1s51.8-13.5 77.6-19.1s51.8-10.3 77.6-14.6"/>
<path d="M423.8 545.3c25.9-12.6 51.8-24.5 77.6-35.0s51.8-19.7 77.6-27.7s51.8-14.8 77.6-20.7"/>
<path d="M423.8 553.2c25.9-14.6 51.8-29.1 77.6-42.0s51.8-24.2 77.6-33.8s51.8-17.6 77.6-24.3"/>
<path d="M423.8 554.1c25.9-16.3 51.8-33.0 77.6-47.5s51.8-27.1 77.6-37.5s51.8-18.6 77.6-25.4"/>
<path d="M423.8 545.9c25.9-16.5 51.8-32.5 77.6-46.3s51.8-25.4 77.6-34.9s51.8-17.1 77.6-23.3"/>
<path d="M423.8 555.4c25.9-15.3 51.8-30.8 77.6-44.6s51.8-25.9 77.6-36.0s51.8-18.4 77.6-25.3"/>
<path d="M423.8 554.1c25.9-13.4 51.8-26.6 77.6-38.5s51.8-22.4 77.6-31.6s51.8-16.9 77.6-23.5"/>
<path d="M423.8 544.3c25.9-16.2 51.8-31.8 77.6-45.2s51.8-24.6 77.6-33.9s51.8-16.7 77.6-22.9"/>
<path d="M423.8 553.5c25.9-12.5 51.8-24.8 77.6-35.8s51.8-20.9 77.6-29.5s51.8-16.0 77.6-22.5"/>
<path d="M423.8 546.6c25.9-15.6 51.8-30.7 77.6-43.9s51.8-24.3 77.6-33.7s51.8-16.9 77.6-23.2"/>
<path d="M423.8 528.5c25.9-12.1 51.8-22.7 77.6-31.9s51.8-17.0 77.6-23.7s51.8-12.4 77.6-17.3"/>
<path d="M423.8 554.8c25.9-13.0 51.8-25.9 77.6-37.5s51.8-22.0 77.6-31.0s51.8-16.7 77.6-23.3"/>
<path d="M423.8 554.4c25.9-13.5 51.8-26.8 77.6-38.8s51.8-22.7 77.6-31.9s51.8-17.0 77.6-23.7"/>
<path d="M423.8 550.6c25.9-14.6 51.8-29.0 77.6-41.7s51.8-23.8 77.6-33.1s51.8-17.1 77.6-23.7"/>
<path d="M423.8 552.9c25.9-14.7 51.8-29.5 77.6-42.5s51.8-24.4 77.6-34.1s51.8-17.6 77.6-24.3"/>
<path d="M423.8 544.3c25.9-14.9 51.8-29.2 77.6-41.6s51.8-23.0 77.6-31.9s51.8-16.2 77.6-22.3"/>
<path d="M423.8 563.8c25.9-14.4 51.8-29.8 77.6-43.8s51.8-26.7 77.6-37.6s51.8-19.8 77.6-27.4"/>
<path d="M423.8 549.8c25.9-14.9 51.8-29.5 77.6-42.3s51.8-24.0 77.6-33.4s51.8-17.1 77.6-23.6"/>
<path d="M423.8 536.1c25.9-12.0 51.8-22.9 77.6-32.4s51.8-17.7 77.6-24.8s51.8-13.2 77.6-18.5"/>
<path d="M423.8 540.1c25.9-13.7 51.8-26.4 77.6-37.5s51.8-20.6 77.6-28.7s51.8-14.9 77.6-20.6"/>
<path d="M423.8 563.8c25.9-14.4 51.8-29.8 77.6-43.8s51.8-26.7 77.6-37.5s51.8-19.8 77.6-27.4"/>
<path d="M423.8 552.3c25.9-14.3 51.8-28.5 77.6-41.1s51.8-23.6 77.6-33.1s51.8-17.2 77.6-23.9"/>
<path d="M423.8 553.3c25.9-16.6 51.8-33.7 77.6-48.5s51.8-27.4 77.6-37.8s51.8-18.6 77.6-25.3"/>
<path d="M423.8 555.1c25.9-12.1 51.8-24.0 77.6-34.7s51.8-20.4 77.6-29.0s51.8-15.9 77.6-22.3"/>
<path d="M423.8 539.3c25.9-13.7 51.8-26.4 77.6-37.5s51.8-20.5 77.6-28.5s51.8-14.8 77.6-20.5"/>
<path d="M423.8 568.5c25.9-11.8 51.8-24.2 77.6-35.9s51.8-22.7 77.6-32.4s51.8-18.4 77.6-25.9"/>
<path d="M423.8 552.2c25.9-15.3 51.8-30.6 77.6-44.0s51.8-25.1 77.6-34.9s51.8-17.8 77.6-24.5"/>
<path d="M423.8 543.9c25.9-13.8 51.8-26.9 77.6-38.3s51.8-21.3 77.6-29.7s51.8-15.5 77.6-21.5"/>
<path d="M423.8 546.8c25.9-14.3 51.8-28.1 77.6-40.2s51.8-22.6 77.6-31.4s51.8-16.3 77.6-22.5"/>
<path d="M423.8 553.3c25.9-14.1 51.8-28.2 77.6-40.7s51.8-23.6 77.6-33.0s51.8-17.3 77.6-24.0"/>
<path d="M423.8 539.1c25.9-13.0 51.8-25.1 77.6-35.5s51.8-19.5 77.6-27.3s51.8-14.3 77.6-19.9"/>
<path d="M423.8 547.2c25.9-15.9 51.8-31.6 77.6-45.0s51.8-25.0 77.6-34.5s51.8-17.2 77.6-23.5"/>
<path d="M423.8 523.4c25.9-10.2 51.8-18.9 77.6-26.5s51.8-14.1 77.6-19.8s51.8-10.6 77.6-14.9"/>
<path d="M423.8 546.8c25.9-14.1 51.8-27.7 77.6-39.7s51.8-22.3 77.6-31.1s51.8-16.2 77.6-22.4"/>
<path d="M423.8 558.3c25.9-14.0 51.8-28.4 77.6-41.4s51.8-24.6 77.6-34.5s51.8-18.3 77.6-25.3"/>
<path d="M423.8 565.0c25.9-14.1 51.8-29.2 77.6-43.1s51.8-26.5 77.6-37.3s51.8-19.9 77.6-27.5"/>
<path d="M423.8 542.4c25.9-13.8 51.8-26.8 77.6-38.1s51.8-21.1 77.6-29.4s51.8-15.3 77.6-21.2"/>
<path d="M423.8 542.1c25.9-15.8 51.8-30.8 77.6-43.6s51.8-23.7 77.6-32.6s51.8-16.2 77.6-22.2"/>
<path d="M423.8 537.2c25.9-12.6 51.8-24.0 77.6-34.0s51.8-18.6 77.6-26.1s51.8-13.7 77.6-19.2"/>
<path d="M423.8 554.2c25.9-16.1 51.8-32.6 77.6-47.1s51.8-26.9 77.6-37.2s51.8-18.6 77.6-25.4"/>
<path d="M423.8 531.9c25.9-12.9 51.8-24.5 77.6-34.5s51.8-18.4 77.6-25.7s51.8-13.3 77.6-18.5"/>
<path d="M423.8 550.0c25.9-17.1 51.8-34.2 77.6-49.0s51.8-27.2 77.6-37.3s51.8-18.1 77.6-24.5"/>
<path d="M423.8 540.1c25.9-14.2 51.8-27.5 77.6-39.0s51.8-21.3 77.6-29.6s51.8-15.2 77.6-21.0"/>
<path d="M423.8 552.1c25.9-12.1 51.8-23.8 77.6-34.3s51.8-19.9 77.6-28.2s51.8-15.4 77.6-21.6"/>
<path d="M423.8 553.9c25.9-14.1 51.8-28.1 77.6-40.6s51.8-23.6 77.6-33.0s51.8-17.4 77.6-24.1"/>
<path d="M423.8 539.6c25.9-13.5 51.8-26.0 77.6-36.9s51.8-20.2 77.6-28.2s51.8-14.7 77.6-20.4"/>
<path d="M423.8 556.0c25.9-12.5 51.8-25.0 77.6-36.2s51.8-21.4 77.6-30.2s51.8-16.5 77.6-23.1"/>
<path d="M423.8 564.6c25.9-14.3 51.8-29.6 77.6-43.6s51.8-26.7 77.6-37.6s51.8-20.0 77.6-27.6"/>
<path d="M423.8 559.1c25.9-13.7 51.8-27.7 77.6-40.4s51.8-24.1 77.6-34.0s51.8-18.2 77.6-25.2"/>
<path d="M423.8 536.0c25.9-13.2 51.8-25.3 77.6-35.7s51.8-19.4 77.6-27.0s51.8-14.0 77.6-19.5"/>
</g>
<path d="M423.8 550.4c12.9-7.0 25.9-13.9 38.8-20.6s25.9-13.1 38.8-19.1s25.9-11.7 38.8-17.0s25.9-10.2 38.8-14.7s25.9-8.7 38.8-12.5s25.9-7.3 38.8-10.6" fill="none" stroke="#f0fc3c" stroke-width="3.4"/>
</g>
<g fill="none">
<path d="M268.9 505.5H87.3m7-4l-7 4 7 4" stroke="#555" stroke-width="1.1"/>
<path d="M211.3 505.5V620.6m-4.4-7l4.4 7 4.4-7" stroke="#8a8a8a" stroke-width="1.2"/>
<path d="M268.9 505.5V620.6m-4.4-7l4.4 7 4.4-7" stroke="#8a8a8a" stroke-width="1.2"/>
<path d="M241.0 509.5V620.6m-4.4-7l4.4 7 4.4-7" stroke="#1a1a1a" stroke-width="1.4"/>
</g>
<g fill="none">
<path d="M546.4 505.5H425.1m7-4l-7 4 7 4" stroke="#555" stroke-width="1.1"/>
<path d="M474.7 505.5V620.6m-4.4-7l4.4 7 4.4-7" stroke="#8a8a8a" stroke-width="1.2"/>
<path d="M546.4 505.5V620.6m-4.4-7l4.4 7 4.4-7" stroke="#8a8a8a" stroke-width="1.2"/>
<path d="M511.5 509.5V620.6m-4.4-7l4.4 7 4.4-7" stroke="#1a1a1a" stroke-width="1.4"/>
</g>
<g clip-path="url(#c00)">
<path d="M91.3 164.2V100.9M135.6 129.4V75.3M179.9 93.5V57.4M224.1 88.4V55.3M268.4 79.7V52.5M312.7 95.8V53.9" stroke="#111" stroke-width="1.3"/>
<circle cx="91.3" cy="128.7" r="4"/>
<circle cx="135.6" cy="95.8" r="4"/>
<circle cx="179.9" cy="67.5" r="4"/>
<circle cx="224.1" cy="63.1" r="4"/>
<circle cx="268.4" cy="57.4" r="4"/>
<circle cx="312.7" cy="60.8" r="4"/>
</g>
<g clip-path="url(#c10)">
<path d="M429.1 79.7V52.5M473.4 81.3V52.5M517.7 75.1V52.3M561.9 71.4V52.3M606.2 96.3V53.7M650.5 115.4V55.3" stroke="#111" stroke-width="1.3"/>
<circle cx="429.1" cy="57.6" r="4"/>
<circle cx="473.4" cy="57.8" r="4"/>
<circle cx="517.7" cy="52.3" r="4"/>
<circle cx="561.9" cy="52.3" r="4"/>
<circle cx="606.2" cy="61.0" r="4"/>
<circle cx="650.5" cy="65.7" r="4"/>
</g>
<g clip-path="url(#c01)">
<path d="M91.3 604.7V548.8M135.6 612.1V561.0M179.9 593.0V516.3M224.1 546.5V455.3M268.4 512.4V427.5M312.7 516.5V429.5" stroke="#111" stroke-width="1.3"/>
<circle cx="91.3" cy="585.4" r="4"/>
<circle cx="135.6" cy="597.1" r="4"/>
<circle cx="179.9" cy="562.6" r="4"/>
<circle cx="224.1" cy="499.5" r="4"/>
<circle cx="268.4" cy="463.4" r="4"/>
<circle cx="312.7" cy="467.1" r="4"/>
</g>
<g clip-path="url(#c11)">
<path d="M429.1 580.3V517.5M473.4 576.2V506.2M517.7 538.6V457.4M561.9 483.9V411.6M606.2 485.5V404.9M650.5 520.7V427.2" stroke="#111" stroke-width="1.3"/>
<circle cx="429.1" cy="552.7" r="4"/>
<circle cx="473.4" cy="546.0" r="4"/>
<circle cx="517.7" cy="497.0" r="4"/>
<circle cx="561.9" cy="438.3" r="4"/>
<circle cx="606.2" cy="430.7" r="4"/>
<circle cx="650.5" cy="466.8" r="4"/>
</g>
<rect x="87.3" y="52.3" width="230.1" height="230.2" fill="none" stroke="#222" stroke-width="1.2"/>
<path d="M87.3 282.5H77.5M87.3 236.5H77.5M87.3 190.4H77.5M87.3 144.4H77.5M87.3 98.3H77.5M87.3 52.3H77.5M91.3 282.5V292.1M135.6 282.5V292.1M179.9 282.5V292.1M224.1 282.5V292.1M268.4 282.5V292.1M312.7 282.5V292.1" stroke="#222" stroke-width="1.2" fill="none"/>
<g font-size="15.5" text-anchor="end">
<text x="68.8" y="288.0">0</text>
<text x="68.8" y="242.0">20</text>
<text x="68.8" y="195.9">40</text>
<text x="68.8" y="149.9">60</text>
<text x="68.8" y="103.8">80</text>
<use href="#one" transform="translate(42.94 57.80) scale(0.007568)"/>
<text x="68.8" y="57.8">00</text>
</g><g font-size="15.5" text-anchor="middle">
<text x="91.6" y="315.2">5</text>
<text x="135.9" y="315.2">6</text>
<text x="180.2" y="315.2">7</text>
<text x="224.4" y="315.2">8</text>
<text x="268.7" y="315.2">9</text>
<use href="#one" transform="translate(304.38 315.20) scale(0.007568)"/>
<text x="313.0" y="315.2" text-anchor="start">0</text>
</g>
<text x="202.3" y="350.8" font-size="15" text-anchor="middle">Days post infection</text>
<text transform="translate(29.9 167.4) rotate(-90)" font-size="15" text-anchor="middle">% disseminated</text>
<rect x="87.3" y="390.4" width="230.1" height="230.2" fill="none" stroke="#222" stroke-width="1.2"/>
<path d="M87.3 620.6H77.5M87.3 574.6H77.5M87.3 528.5H77.5M87.3 482.5H77.5M87.3 436.4H77.5M87.3 390.4H77.5M91.3 620.6V630.2M135.6 620.6V630.2M179.9 620.6V630.2M224.1 620.6V630.2M268.4 620.6V630.2M312.7 620.6V630.2" stroke="#222" stroke-width="1.2" fill="none"/>
<g font-size="15.5" text-anchor="end">
<text x="68.8" y="626.1">0</text>
<text x="68.8" y="580.1">20</text>
<text x="68.8" y="534.0">40</text>
<text x="68.8" y="488.0">60</text>
<text x="68.8" y="441.9">80</text>
<use href="#one" transform="translate(42.94 395.90) scale(0.007568)"/>
<text x="68.8" y="395.9">00</text>
</g><g font-size="15.5" text-anchor="middle">
<text x="91.6" y="653.3">5</text>
<text x="135.9" y="653.3">6</text>
<text x="180.2" y="653.3">7</text>
<text x="224.4" y="653.3">8</text>
<text x="268.7" y="653.3">9</text>
<use href="#one" transform="translate(304.38 653.30) scale(0.007568)"/>
<text x="313.0" y="653.3" text-anchor="start">0</text>
</g>
<text x="202.3" y="688.9" font-size="15" text-anchor="middle">Days post infection</text>
<text transform="translate(29.9 505.5) rotate(-90)" font-size="15" text-anchor="middle">% disseminated</text>
<rect x="425.1" y="52.3" width="230.1" height="230.2" fill="none" stroke="#222" stroke-width="1.2"/>
<path d="M425.1 282.5H415.3M425.1 236.5H415.3M425.1 190.4H415.3M425.1 144.4H415.3M425.1 98.3H415.3M425.1 52.3H415.3M429.1 282.5V292.1M473.4 282.5V292.1M517.7 282.5V292.1M561.9 282.5V292.1M606.2 282.5V292.1M650.5 282.5V292.1" stroke="#222" stroke-width="1.2" fill="none"/>
<g font-size="15.5" text-anchor="end">
<text x="406.6" y="288.0">0</text>
<text x="406.6" y="242.0">20</text>
<text x="406.6" y="195.9">40</text>
<text x="406.6" y="149.9">60</text>
<text x="406.6" y="103.8">80</text>
<use href="#one" transform="translate(380.74 57.80) scale(0.007568)"/>
<text x="406.6" y="57.8">00</text>
</g><g font-size="15.5" text-anchor="middle">
<text x="429.4" y="315.2">5</text>
<text x="473.7" y="315.2">6</text>
<text x="518.0" y="315.2">7</text>
<text x="562.2" y="315.2">8</text>
<text x="606.5" y="315.2">9</text>
<use href="#one" transform="translate(642.18 315.20) scale(0.007568)"/>
<text x="650.8" y="315.2" text-anchor="start">0</text>
</g>
<text x="540.2" y="350.8" font-size="15" text-anchor="middle">Days post infection</text>
<text transform="translate(367.7 167.4) rotate(-90)" font-size="15" text-anchor="middle">% disseminated</text>
<rect x="425.1" y="390.4" width="230.1" height="230.2" fill="none" stroke="#222" stroke-width="1.2"/>
<path d="M425.1 620.6H415.3M425.1 574.6H415.3M425.1 528.5H415.3M425.1 482.5H415.3M425.1 436.4H415.3M425.1 390.4H415.3M429.1 620.6V630.2M473.4 620.6V630.2M517.7 620.6V630.2M561.9 620.6V630.2M606.2 620.6V630.2M650.5 620.6V630.2" stroke="#222" stroke-width="1.2" fill="none"/>
<g font-size="15.5" text-anchor="end">
<text x="406.6" y="626.1">0</text>
<text x="406.6" y="580.1">20</text>
<text x="406.6" y="534.0">40</text>
<text x="406.6" y="488.0">60</text>
<text x="406.6" y="441.9">80</text>
<use href="#one" transform="translate(380.74 395.90) scale(0.007568)"/>
<text x="406.6" y="395.9">00</text>
</g><g font-size="15.5" text-anchor="middle">
<text x="429.4" y="653.3">5</text>
<text x="473.7" y="653.3">6</text>
<text x="518.0" y="653.3">7</text>
<text x="562.2" y="653.3">8</text>
<text x="606.5" y="653.3">9</text>
<use href="#one" transform="translate(642.18 653.30) scale(0.007568)"/>
<text x="650.8" y="653.3" text-anchor="start">0</text>
</g>
<text x="540.2" y="688.9" font-size="15" text-anchor="middle">Days post infection</text>
<text transform="translate(367.7 505.5) rotate(-90)" font-size="15" text-anchor="middle">% disseminated</text>
<text x="202.3" y="30.9" font-size="18" text-anchor="middle">SF</text>
<text x="540.1" y="30.9" font-size="18" text-anchor="middle">DF</text>
<text transform="translate(683.5 167.4) rotate(-90)" font-size="17.6" text-anchor="middle">WT</text>
<text transform="translate(683.8 505.5) rotate(-90)" font-size="17.6" text-anchor="middle"><tspan font-style="italic">w</tspan>AlbB</text>
<path d="M3.9 12.5C5.9 10.7 8 10.1 10.3 10.1C14.8 10.1 17.1 12.1 17.1 16.5V30.7M17.1 18.1C13 18.1 9 18.3 6.5 19.1C4 19.9 2.7 21.9 2.7 24.6C2.7 27.6 4.8 29.4 8.2 29.4C11.8 29.4 14.6 27.8 17.1 24.8" fill="none" stroke="#000" stroke-width="3.3"/>
<g font-size="41" style="fill:#000">
<text x="350.2" y="30.5" font-size="40">b</text>
<text x="-0.7" y="372.6" font-size="42">c</text>
<text x="350.3" y="372.1">d</text>
</g>
</svg></body></html>
